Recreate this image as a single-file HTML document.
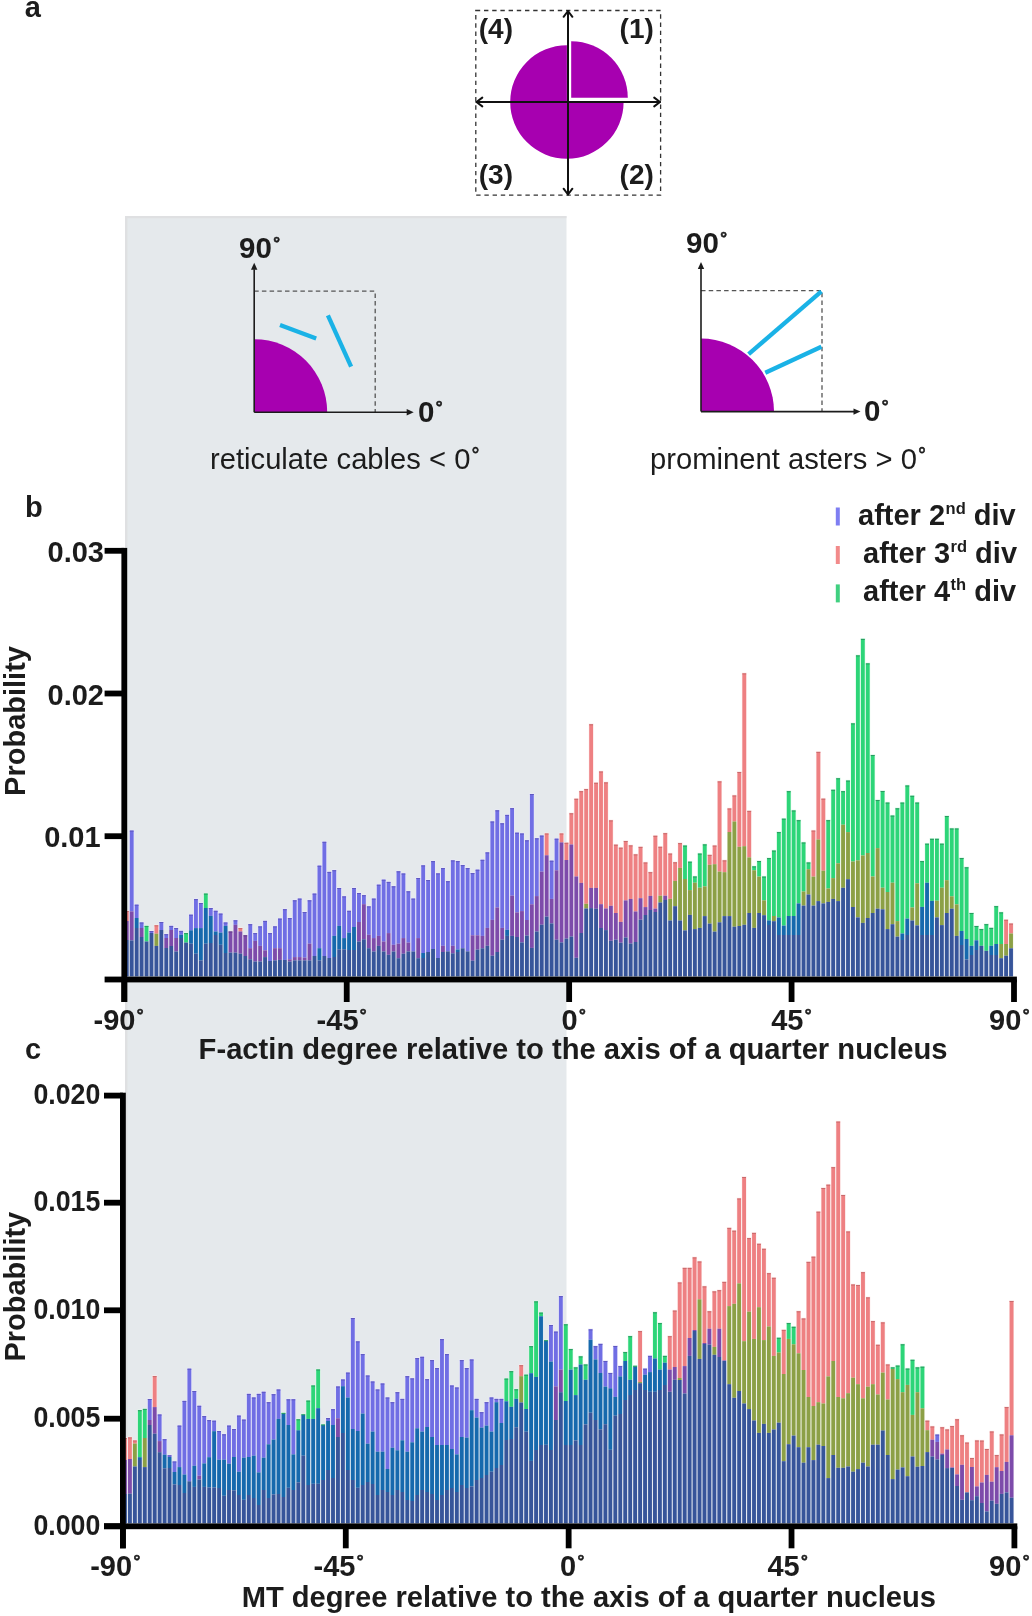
<!DOCTYPE html>
<html><head><meta charset="utf-8"><style>
html,body{margin:0;padding:0;background:#fff;}
svg{display:block;will-change:transform;}
text{font-family:"Liberation Sans", sans-serif;fill:#1c1c1c;}
</style></head><body>
<svg width="1032" height="1616" viewBox="0 0 1032 1616">
<rect x="125" y="216" width="441.5" height="1307.5" fill="#e5e9ec"/><rect x="125" y="216" width="441.5" height="2.2" fill="#dfe0e2"/><rect x="125" y="216" width="2.4" height="1307.5" fill="#dfe0e2"/><text x="24.8" y="17" font-size="29" font-weight="700" text-anchor="start" >a</text><rect x="475.8" y="10.5" width="184.8" height="184.6" fill="none" stroke="#333" stroke-width="1.3" stroke-dasharray="4.4 3.8"/><path d="M566.9,102 L566.9,45.3 A56.7,56.7 0 1,0 623.6,102 Z" fill="#a700b0"/><path d="M571.2,97.8 L571.2,41.199999999999996 A56.6,56.6 0 0,1 627.8000000000001,97.8 Z" fill="#a700b0"/><g stroke="#111" stroke-width="2" fill="none" stroke-linecap="round" stroke-linejoin="round"><line x1="476.5" y1="102" x2="660" y2="102"/><line x1="568" y1="11" x2="568" y2="194.5"/><polyline points="482.3,97.6 476.5,102 482.3,106.4"/><polyline points="654.2,97.6 660,102 654.2,106.4"/><polyline points="563.6,16.8 568,11 572.4,16.8"/><polyline points="563.6,188.7 568,194.5 572.4,188.7"/></g><text x="478.8" y="37.6" font-size="28" font-weight="700" text-anchor="start" >(4)</text><text x="619.6" y="37.6" font-size="28" font-weight="700" text-anchor="start" >(1)</text><text x="478.8" y="184.3" font-size="28" font-weight="700" text-anchor="start" >(3)</text><text x="619.6" y="184.3" font-size="28" font-weight="700" text-anchor="start" >(2)</text><path d="M254.2,412.2 L254.2,339.2 A73,73 0 0,1 327.2,412.2 Z" fill="#a700b0"/><path d="M254.2,291.2 H375.2 V412.2" fill="none" stroke="#555" stroke-width="1.3" stroke-dasharray="4.5 3.2"/><g stroke="#1c1c1c" stroke-width="1.6"><line x1="254.2" y1="412.2" x2="254.2" y2="269.2"/><line x1="254.2" y1="412.2" x2="407.2" y2="412.2"/></g><path d="M254.2,262.7 l-3.2,7 h6.4 Z" fill="#1c1c1c"/><path d="M413.7,412.2 l-7,-3.2 v6.4 Z" fill="#1c1c1c"/><line x1="280" y1="325" x2="316.2" y2="338.5" stroke="#1ab2e6" stroke-width="4.3"/><line x1="327.9" y1="315.3" x2="351.1" y2="366.6" stroke="#1ab2e6" stroke-width="4.3"/><text x="239" y="258" font-size="29.5" font-weight="700" text-anchor="start" >90<tspan font-size="17" dx="1.3" dy="-9" stroke="#1c1c1c" stroke-width="0.6">°</tspan></text><text x="418" y="421.5" font-size="29.5" font-weight="700" text-anchor="start" >0<tspan font-size="17" dx="1.3" dy="-9" stroke="#1c1c1c" stroke-width="0.6">°</tspan></text><path d="M701,411.6 L701,338.6 A73,73 0 0,1 774,411.6 Z" fill="#a700b0"/><path d="M701,290.6 H822 V411.6" fill="none" stroke="#555" stroke-width="1.3" stroke-dasharray="4.5 3.2"/><g stroke="#1c1c1c" stroke-width="1.6"><line x1="701" y1="411.6" x2="701" y2="268.6"/><line x1="701" y1="411.6" x2="854" y2="411.6"/></g><path d="M701,262.1 l-3.2,7 h6.4 Z" fill="#1c1c1c"/><path d="M860.5,411.6 l-7,-3.2 v6.4 Z" fill="#1c1c1c"/><line x1="748.6" y1="354.1" x2="821.4" y2="291.4" stroke="#1ab2e6" stroke-width="4.3"/><line x1="765.3" y1="372.8" x2="821.4" y2="346.8" stroke="#1ab2e6" stroke-width="4.3"/><text x="686" y="252.5" font-size="29.5" font-weight="700" text-anchor="start" >90<tspan font-size="17" dx="1.3" dy="-9" stroke="#1c1c1c" stroke-width="0.6">°</tspan></text><text x="864" y="420.8" font-size="29.5" font-weight="700" text-anchor="start" >0<tspan font-size="17" dx="1.3" dy="-9" stroke="#1c1c1c" stroke-width="0.6">°</tspan></text><text x="210" y="468.7" font-size="29.2" font-weight="400" text-anchor="start" >reticulate cables &lt; 0<tspan font-size="20" dx="1.0" dy="-6.5" stroke="#1c1c1c" stroke-width="0.6">°</tspan></text><text x="650" y="468.7" font-size="29.2" font-weight="400" text-anchor="start" >prominent asters &gt; 0<tspan font-size="20" dx="1.0" dy="-6.5" stroke="#1c1c1c" stroke-width="0.6">°</tspan></text><text x="25.1" y="516.6" font-size="29" font-weight="700" text-anchor="start" >b</text><text x="25" y="1058.6" font-size="29" font-weight="700" text-anchor="start" >c</text><g><rect x="124.30" y="910.20" width="4.94" height="10.80" fill="#fcecec"/><rect x="124.30" y="921.00" width="4.94" height="19.00" fill="#ece4f2"/><rect x="124.30" y="940.00" width="4.94" height="36.40" fill="#e1e6f0"/><rect x="124.85" y="911.00" width="3.84" height="10.00" fill="#ee8082"/><rect x="124.85" y="921.00" width="3.84" height="19.00" fill="#7d4baa"/><rect x="124.85" y="940.00" width="3.84" height="36.40" fill="#37559a"/><rect x="124.85" y="911.00" width="3.84" height="1" fill="#c86a6c"/><rect x="129.24" y="829.80" width="4.94" height="81.60" fill="#eae9fb"/><rect x="129.24" y="911.40" width="4.94" height="29.00" fill="#ece4f2"/><rect x="129.24" y="940.40" width="4.94" height="36.00" fill="#e1e6f0"/><rect x="129.79" y="830.60" width="3.84" height="80.80" fill="#706ee4"/><rect x="129.79" y="911.40" width="3.84" height="29.00" fill="#7d4baa"/><rect x="129.79" y="940.40" width="3.84" height="36.00" fill="#37559a"/><rect x="129.79" y="830.60" width="3.84" height="1" fill="#5f58c0"/><rect x="134.18" y="903.90" width="4.94" height="14.10" fill="#eae9fb"/><rect x="134.18" y="918.00" width="4.94" height="10.00" fill="#dce8f3"/><rect x="134.18" y="928.00" width="4.94" height="48.40" fill="#e1e6f0"/><rect x="134.73" y="904.70" width="3.84" height="13.30" fill="#706ee4"/><rect x="134.73" y="918.00" width="3.84" height="10.00" fill="#1669ad"/><rect x="134.73" y="928.00" width="3.84" height="48.40" fill="#37559a"/><rect x="134.73" y="904.70" width="3.84" height="1" fill="#5f58c0"/><rect x="139.12" y="921.70" width="4.94" height="6.30" fill="#eae9fb"/><rect x="139.12" y="928.00" width="4.94" height="9.00" fill="#ece4f2"/><rect x="139.12" y="937.00" width="4.94" height="39.40" fill="#e1e6f0"/><rect x="139.67" y="922.50" width="3.84" height="5.50" fill="#706ee4"/><rect x="139.67" y="928.00" width="3.84" height="9.00" fill="#7d4baa"/><rect x="139.67" y="937.00" width="3.84" height="39.40" fill="#37559a"/><rect x="139.67" y="922.50" width="3.84" height="1" fill="#5f58c0"/><rect x="144.06" y="925.10" width="4.94" height="16.40" fill="#e0f9eb"/><rect x="144.06" y="941.50" width="4.94" height="34.90" fill="#e1e6f0"/><rect x="144.61" y="925.90" width="3.84" height="15.60" fill="#2dd578"/><rect x="144.61" y="941.50" width="3.84" height="34.90" fill="#37559a"/><rect x="144.61" y="925.90" width="3.84" height="1" fill="#2a9a60"/><rect x="149.00" y="930.20" width="4.94" height="2.80" fill="#eae9fb"/><rect x="149.00" y="933.00" width="4.94" height="43.40" fill="#e1e6f0"/><rect x="149.55" y="931.00" width="3.84" height="2.00" fill="#706ee4"/><rect x="149.55" y="933.00" width="3.84" height="43.40" fill="#37559a"/><rect x="149.55" y="931.00" width="3.84" height="1" fill="#5f58c0"/><rect x="153.94" y="924.50" width="4.94" height="9.20" fill="#fcecec"/><rect x="153.94" y="933.70" width="4.94" height="12.20" fill="#eef1e3"/><rect x="153.94" y="945.90" width="4.94" height="30.50" fill="#e1e6f0"/><rect x="154.49" y="925.30" width="3.84" height="8.40" fill="#ee8082"/><rect x="154.49" y="933.70" width="3.84" height="12.20" fill="#8ca046"/><rect x="154.49" y="945.90" width="3.84" height="30.50" fill="#37559a"/><rect x="154.49" y="925.30" width="3.84" height="1" fill="#c86a6c"/><rect x="158.88" y="921.20" width="4.94" height="8.80" fill="#eae9fb"/><rect x="158.88" y="930.00" width="4.94" height="46.40" fill="#e1e6f0"/><rect x="159.43" y="922.00" width="3.84" height="8.00" fill="#706ee4"/><rect x="159.43" y="930.00" width="3.84" height="46.40" fill="#37559a"/><rect x="159.43" y="922.00" width="3.84" height="1" fill="#5f58c0"/><rect x="163.82" y="933.40" width="4.94" height="4.60" fill="#eae9fb"/><rect x="163.82" y="938.00" width="4.94" height="10.00" fill="#ece4f2"/><rect x="163.82" y="948.00" width="4.94" height="28.40" fill="#e1e6f0"/><rect x="164.37" y="934.20" width="3.84" height="3.80" fill="#706ee4"/><rect x="164.37" y="938.00" width="3.84" height="10.00" fill="#7d4baa"/><rect x="164.37" y="948.00" width="3.84" height="28.40" fill="#37559a"/><rect x="164.37" y="934.20" width="3.84" height="1" fill="#5f58c0"/><rect x="168.76" y="925.10" width="4.94" height="4.90" fill="#eae9fb"/><rect x="168.76" y="930.00" width="4.94" height="16.00" fill="#ece4f2"/><rect x="168.76" y="946.00" width="4.94" height="30.40" fill="#e1e6f0"/><rect x="169.31" y="925.90" width="3.84" height="4.10" fill="#706ee4"/><rect x="169.31" y="930.00" width="3.84" height="16.00" fill="#7d4baa"/><rect x="169.31" y="946.00" width="3.84" height="30.40" fill="#37559a"/><rect x="169.31" y="925.90" width="3.84" height="1" fill="#5f58c0"/><rect x="173.70" y="927.20" width="4.94" height="10.80" fill="#eae9fb"/><rect x="173.70" y="938.00" width="4.94" height="13.50" fill="#ece4f2"/><rect x="173.70" y="951.50" width="4.94" height="24.90" fill="#e1e6f0"/><rect x="174.25" y="928.00" width="3.84" height="10.00" fill="#706ee4"/><rect x="174.25" y="938.00" width="3.84" height="13.50" fill="#7d4baa"/><rect x="174.25" y="951.50" width="3.84" height="24.90" fill="#37559a"/><rect x="174.25" y="928.00" width="3.84" height="1" fill="#5f58c0"/><rect x="178.64" y="930.10" width="4.94" height="4.70" fill="#eae9fb"/><rect x="178.64" y="934.80" width="4.94" height="3.20" fill="#dce8f3"/><rect x="178.64" y="938.00" width="4.94" height="38.40" fill="#e1e6f0"/><rect x="179.19" y="930.90" width="3.84" height="3.90" fill="#706ee4"/><rect x="179.19" y="934.80" width="3.84" height="3.20" fill="#1669ad"/><rect x="179.19" y="938.00" width="3.84" height="38.40" fill="#37559a"/><rect x="179.19" y="930.90" width="3.84" height="1" fill="#5f58c0"/><rect x="183.58" y="932.30" width="4.94" height="10.30" fill="#e0f9eb"/><rect x="183.58" y="942.60" width="4.94" height="33.80" fill="#e1e6f0"/><rect x="184.13" y="933.10" width="3.84" height="9.50" fill="#2dd578"/><rect x="184.13" y="942.60" width="3.84" height="33.80" fill="#37559a"/><rect x="184.13" y="933.10" width="3.84" height="1" fill="#2a9a60"/><rect x="188.52" y="913.90" width="4.94" height="16.40" fill="#eae9fb"/><rect x="188.52" y="930.30" width="4.94" height="13.40" fill="#dce8f3"/><rect x="188.52" y="943.70" width="4.94" height="32.70" fill="#e1e6f0"/><rect x="189.07" y="914.70" width="3.84" height="15.60" fill="#706ee4"/><rect x="189.07" y="930.30" width="3.84" height="13.40" fill="#1669ad"/><rect x="189.07" y="943.70" width="3.84" height="32.70" fill="#37559a"/><rect x="189.07" y="914.70" width="3.84" height="1" fill="#5f58c0"/><rect x="193.46" y="898.30" width="4.94" height="29.80" fill="#eae9fb"/><rect x="193.46" y="928.10" width="4.94" height="25.60" fill="#dce8f3"/><rect x="193.46" y="953.70" width="4.94" height="22.70" fill="#e1e6f0"/><rect x="194.01" y="899.10" width="3.84" height="29.00" fill="#706ee4"/><rect x="194.01" y="928.10" width="3.84" height="25.60" fill="#1669ad"/><rect x="194.01" y="953.70" width="3.84" height="22.70" fill="#37559a"/><rect x="194.01" y="899.10" width="3.84" height="1" fill="#5f58c0"/><rect x="198.40" y="902.20" width="4.94" height="25.90" fill="#eae9fb"/><rect x="198.40" y="928.10" width="4.94" height="32.30" fill="#dce8f3"/><rect x="198.40" y="960.40" width="4.94" height="16.00" fill="#e1e6f0"/><rect x="198.95" y="903.00" width="3.84" height="25.10" fill="#706ee4"/><rect x="198.95" y="928.10" width="3.84" height="32.30" fill="#1669ad"/><rect x="198.95" y="960.40" width="3.84" height="16.00" fill="#37559a"/><rect x="198.95" y="903.00" width="3.84" height="1" fill="#5f58c0"/><rect x="203.34" y="892.80" width="4.94" height="15.20" fill="#e0f9eb"/><rect x="203.34" y="908.00" width="4.94" height="35.70" fill="#dce8f3"/><rect x="203.34" y="943.70" width="4.94" height="32.70" fill="#e1e6f0"/><rect x="203.89" y="893.60" width="3.84" height="14.40" fill="#2dd578"/><rect x="203.89" y="908.00" width="3.84" height="35.70" fill="#1669ad"/><rect x="203.89" y="943.70" width="3.84" height="32.70" fill="#37559a"/><rect x="203.89" y="893.60" width="3.84" height="1" fill="#2a9a60"/><rect x="208.28" y="907.20" width="4.94" height="8.70" fill="#eae9fb"/><rect x="208.28" y="915.90" width="4.94" height="27.10" fill="#dce8f3"/><rect x="208.28" y="943.00" width="4.94" height="33.40" fill="#e1e6f0"/><rect x="208.83" y="908.00" width="3.84" height="7.90" fill="#706ee4"/><rect x="208.83" y="915.90" width="3.84" height="27.10" fill="#1669ad"/><rect x="208.83" y="943.00" width="3.84" height="33.40" fill="#37559a"/><rect x="208.83" y="908.00" width="3.84" height="1" fill="#5f58c0"/><rect x="213.22" y="910.00" width="4.94" height="21.50" fill="#eae9fb"/><rect x="213.22" y="931.50" width="4.94" height="3.50" fill="#dce8f3"/><rect x="213.22" y="935.00" width="4.94" height="41.40" fill="#e1e6f0"/><rect x="213.77" y="910.80" width="3.84" height="20.70" fill="#706ee4"/><rect x="213.77" y="931.50" width="3.84" height="3.50" fill="#1669ad"/><rect x="213.77" y="935.00" width="3.84" height="41.40" fill="#37559a"/><rect x="213.77" y="910.80" width="3.84" height="1" fill="#5f58c0"/><rect x="218.16" y="912.80" width="4.94" height="19.80" fill="#eae9fb"/><rect x="218.16" y="932.60" width="4.94" height="12.20" fill="#dce8f3"/><rect x="218.16" y="944.80" width="4.94" height="31.60" fill="#e1e6f0"/><rect x="218.71" y="913.60" width="3.84" height="19.00" fill="#706ee4"/><rect x="218.71" y="932.60" width="3.84" height="12.20" fill="#1669ad"/><rect x="218.71" y="944.80" width="3.84" height="31.60" fill="#37559a"/><rect x="218.71" y="913.60" width="3.84" height="1" fill="#5f58c0"/><rect x="223.10" y="921.70" width="4.94" height="4.20" fill="#eae9fb"/><rect x="223.10" y="925.90" width="4.94" height="27.10" fill="#dce8f3"/><rect x="223.10" y="953.00" width="4.94" height="23.40" fill="#e1e6f0"/><rect x="223.65" y="922.50" width="3.84" height="3.40" fill="#706ee4"/><rect x="223.65" y="925.90" width="3.84" height="27.10" fill="#1669ad"/><rect x="223.65" y="953.00" width="3.84" height="23.40" fill="#37559a"/><rect x="223.65" y="922.50" width="3.84" height="1" fill="#5f58c0"/><rect x="228.04" y="930.70" width="4.94" height="21.90" fill="#ece4f2"/><rect x="228.04" y="952.60" width="4.94" height="23.80" fill="#e1e6f0"/><rect x="228.59" y="931.50" width="3.84" height="21.10" fill="#7d4baa"/><rect x="228.59" y="952.60" width="3.84" height="23.80" fill="#37559a"/><rect x="228.59" y="931.50" width="3.84" height="1" fill="#603a88"/><rect x="232.98" y="919.50" width="4.94" height="5.30" fill="#eae9fb"/><rect x="232.98" y="924.80" width="4.94" height="27.80" fill="#ece4f2"/><rect x="232.98" y="952.60" width="4.94" height="23.80" fill="#e1e6f0"/><rect x="233.53" y="920.30" width="3.84" height="4.50" fill="#706ee4"/><rect x="233.53" y="924.80" width="3.84" height="27.80" fill="#7d4baa"/><rect x="233.53" y="952.60" width="3.84" height="23.80" fill="#37559a"/><rect x="233.53" y="920.30" width="3.84" height="1" fill="#5f58c0"/><rect x="237.92" y="927.30" width="4.94" height="4.20" fill="#fcecec"/><rect x="237.92" y="931.50" width="4.94" height="22.20" fill="#ece4f2"/><rect x="237.92" y="953.70" width="4.94" height="22.70" fill="#e1e6f0"/><rect x="238.47" y="928.10" width="3.84" height="3.40" fill="#ee8082"/><rect x="238.47" y="931.50" width="3.84" height="22.20" fill="#7d4baa"/><rect x="238.47" y="953.70" width="3.84" height="22.70" fill="#37559a"/><rect x="238.47" y="928.10" width="3.84" height="1" fill="#c86a6c"/><rect x="242.86" y="934.50" width="4.94" height="21.50" fill="#ece4f2"/><rect x="242.86" y="956.00" width="4.94" height="20.40" fill="#e1e6f0"/><rect x="243.41" y="935.30" width="3.84" height="20.70" fill="#7d4baa"/><rect x="243.41" y="956.00" width="3.84" height="20.40" fill="#37559a"/><rect x="243.41" y="935.30" width="3.84" height="1" fill="#603a88"/><rect x="247.80" y="923.40" width="4.94" height="24.80" fill="#eae9fb"/><rect x="247.80" y="948.20" width="4.94" height="11.10" fill="#ece4f2"/><rect x="247.80" y="959.30" width="4.94" height="17.10" fill="#e1e6f0"/><rect x="248.35" y="924.20" width="3.84" height="24.00" fill="#706ee4"/><rect x="248.35" y="948.20" width="3.84" height="11.10" fill="#7d4baa"/><rect x="248.35" y="959.30" width="3.84" height="17.10" fill="#37559a"/><rect x="248.35" y="924.20" width="3.84" height="1" fill="#5f58c0"/><rect x="252.74" y="932.30" width="4.94" height="8.60" fill="#eae9fb"/><rect x="252.74" y="940.90" width="4.94" height="20.60" fill="#ece4f2"/><rect x="252.74" y="961.50" width="4.94" height="14.90" fill="#e1e6f0"/><rect x="253.29" y="933.10" width="3.84" height="7.80" fill="#706ee4"/><rect x="253.29" y="940.90" width="3.84" height="20.60" fill="#7d4baa"/><rect x="253.29" y="961.50" width="3.84" height="14.90" fill="#37559a"/><rect x="253.29" y="933.10" width="3.84" height="1" fill="#5f58c0"/><rect x="257.68" y="925.60" width="4.94" height="20.30" fill="#eae9fb"/><rect x="257.68" y="945.90" width="4.94" height="15.60" fill="#ece4f2"/><rect x="257.68" y="961.50" width="4.94" height="14.90" fill="#e1e6f0"/><rect x="258.23" y="926.40" width="3.84" height="19.50" fill="#706ee4"/><rect x="258.23" y="945.90" width="3.84" height="15.60" fill="#7d4baa"/><rect x="258.23" y="961.50" width="3.84" height="14.90" fill="#37559a"/><rect x="258.23" y="926.40" width="3.84" height="1" fill="#5f58c0"/><rect x="262.62" y="920.10" width="4.94" height="30.30" fill="#eae9fb"/><rect x="262.62" y="950.40" width="4.94" height="6.70" fill="#ece4f2"/><rect x="262.62" y="957.10" width="4.94" height="19.30" fill="#e1e6f0"/><rect x="263.17" y="920.90" width="3.84" height="29.50" fill="#706ee4"/><rect x="263.17" y="950.40" width="3.84" height="6.70" fill="#7d4baa"/><rect x="263.17" y="957.10" width="3.84" height="19.30" fill="#37559a"/><rect x="263.17" y="920.90" width="3.84" height="1" fill="#5f58c0"/><rect x="267.56" y="932.30" width="4.94" height="28.70" fill="#eae9fb"/><rect x="267.56" y="961.00" width="4.94" height="15.40" fill="#e1e6f0"/><rect x="268.11" y="933.10" width="3.84" height="27.90" fill="#706ee4"/><rect x="268.11" y="961.00" width="3.84" height="15.40" fill="#37559a"/><rect x="268.11" y="933.10" width="3.84" height="1" fill="#5f58c0"/><rect x="272.50" y="925.60" width="4.94" height="22.60" fill="#eae9fb"/><rect x="272.50" y="948.20" width="4.94" height="12.20" fill="#ece4f2"/><rect x="272.50" y="960.40" width="4.94" height="16.00" fill="#e1e6f0"/><rect x="273.05" y="926.40" width="3.84" height="21.80" fill="#706ee4"/><rect x="273.05" y="948.20" width="3.84" height="12.20" fill="#7d4baa"/><rect x="273.05" y="960.40" width="3.84" height="16.00" fill="#37559a"/><rect x="273.05" y="926.40" width="3.84" height="1" fill="#5f58c0"/><rect x="277.44" y="917.80" width="4.94" height="30.40" fill="#eae9fb"/><rect x="277.44" y="948.20" width="4.94" height="11.70" fill="#ece4f2"/><rect x="277.44" y="959.90" width="4.94" height="16.50" fill="#e1e6f0"/><rect x="277.99" y="918.60" width="3.84" height="29.60" fill="#706ee4"/><rect x="277.99" y="948.20" width="3.84" height="11.70" fill="#7d4baa"/><rect x="277.99" y="959.90" width="3.84" height="16.50" fill="#37559a"/><rect x="277.99" y="918.60" width="3.84" height="1" fill="#5f58c0"/><rect x="282.38" y="908.40" width="4.94" height="51.50" fill="#eae9fb"/><rect x="282.38" y="959.90" width="4.94" height="16.50" fill="#e1e6f0"/><rect x="282.93" y="909.20" width="3.84" height="50.70" fill="#706ee4"/><rect x="282.93" y="959.90" width="3.84" height="16.50" fill="#37559a"/><rect x="282.93" y="909.20" width="3.84" height="1" fill="#5f58c0"/><rect x="287.32" y="917.30" width="4.94" height="42.00" fill="#eae9fb"/><rect x="287.32" y="959.30" width="4.94" height="2.20" fill="#ece4f2"/><rect x="287.32" y="961.50" width="4.94" height="14.90" fill="#e1e6f0"/><rect x="287.87" y="918.10" width="3.84" height="41.20" fill="#706ee4"/><rect x="287.87" y="959.30" width="3.84" height="2.20" fill="#7d4baa"/><rect x="287.87" y="961.50" width="3.84" height="14.90" fill="#37559a"/><rect x="287.87" y="918.10" width="3.84" height="1" fill="#5f58c0"/><rect x="292.26" y="899.50" width="4.94" height="57.60" fill="#eae9fb"/><rect x="292.26" y="957.10" width="4.94" height="3.30" fill="#ece4f2"/><rect x="292.26" y="960.40" width="4.94" height="16.00" fill="#e1e6f0"/><rect x="292.81" y="900.30" width="3.84" height="56.80" fill="#706ee4"/><rect x="292.81" y="957.10" width="3.84" height="3.30" fill="#7d4baa"/><rect x="292.81" y="960.40" width="3.84" height="16.00" fill="#37559a"/><rect x="292.81" y="900.30" width="3.84" height="1" fill="#5f58c0"/><rect x="297.20" y="897.80" width="4.94" height="59.30" fill="#eae9fb"/><rect x="297.20" y="957.10" width="4.94" height="3.30" fill="#ece4f2"/><rect x="297.20" y="960.40" width="4.94" height="16.00" fill="#e1e6f0"/><rect x="297.75" y="898.60" width="3.84" height="58.50" fill="#706ee4"/><rect x="297.75" y="957.10" width="3.84" height="3.30" fill="#7d4baa"/><rect x="297.75" y="960.40" width="3.84" height="16.00" fill="#37559a"/><rect x="297.75" y="898.60" width="3.84" height="1" fill="#5f58c0"/><rect x="302.14" y="911.20" width="4.94" height="46.40" fill="#eae9fb"/><rect x="302.14" y="957.60" width="4.94" height="2.80" fill="#ece4f2"/><rect x="302.14" y="960.40" width="4.94" height="16.00" fill="#e1e6f0"/><rect x="302.69" y="912.00" width="3.84" height="45.60" fill="#706ee4"/><rect x="302.69" y="957.60" width="3.84" height="2.80" fill="#7d4baa"/><rect x="302.69" y="960.40" width="3.84" height="16.00" fill="#37559a"/><rect x="302.69" y="912.00" width="3.84" height="1" fill="#5f58c0"/><rect x="307.08" y="899.50" width="4.94" height="44.20" fill="#eae9fb"/><rect x="307.08" y="943.70" width="4.94" height="16.70" fill="#ece4f2"/><rect x="307.08" y="960.40" width="4.94" height="16.00" fill="#e1e6f0"/><rect x="307.63" y="900.30" width="3.84" height="43.40" fill="#706ee4"/><rect x="307.63" y="943.70" width="3.84" height="16.70" fill="#7d4baa"/><rect x="307.63" y="960.40" width="3.84" height="16.00" fill="#37559a"/><rect x="307.63" y="900.30" width="3.84" height="1" fill="#5f58c0"/><rect x="312.02" y="892.80" width="4.94" height="63.20" fill="#eae9fb"/><rect x="312.02" y="956.00" width="4.94" height="20.40" fill="#e1e6f0"/><rect x="312.57" y="893.60" width="3.84" height="62.40" fill="#706ee4"/><rect x="312.57" y="956.00" width="3.84" height="20.40" fill="#37559a"/><rect x="312.57" y="893.60" width="3.84" height="1" fill="#5f58c0"/><rect x="316.96" y="864.90" width="4.94" height="83.30" fill="#eae9fb"/><rect x="316.96" y="948.20" width="4.94" height="12.20" fill="#dce8f3"/><rect x="316.96" y="960.40" width="4.94" height="16.00" fill="#e1e6f0"/><rect x="317.51" y="865.70" width="3.84" height="82.50" fill="#706ee4"/><rect x="317.51" y="948.20" width="3.84" height="12.20" fill="#1669ad"/><rect x="317.51" y="960.40" width="3.84" height="16.00" fill="#37559a"/><rect x="317.51" y="865.70" width="3.84" height="1" fill="#5f58c0"/><rect x="321.90" y="841.00" width="4.94" height="115.00" fill="#eae9fb"/><rect x="321.90" y="956.00" width="4.94" height="20.40" fill="#e1e6f0"/><rect x="322.45" y="841.80" width="3.84" height="114.20" fill="#706ee4"/><rect x="322.45" y="956.00" width="3.84" height="20.40" fill="#37559a"/><rect x="322.45" y="841.80" width="3.84" height="1" fill="#5f58c0"/><rect x="326.84" y="871.10" width="4.94" height="86.90" fill="#eae9fb"/><rect x="326.84" y="958.00" width="4.94" height="18.40" fill="#e1e6f0"/><rect x="327.39" y="871.90" width="3.84" height="86.10" fill="#706ee4"/><rect x="327.39" y="958.00" width="3.84" height="18.40" fill="#37559a"/><rect x="327.39" y="871.90" width="3.84" height="1" fill="#5f58c0"/><rect x="331.78" y="869.40" width="4.94" height="66.50" fill="#eae9fb"/><rect x="331.78" y="935.90" width="4.94" height="21.10" fill="#dce8f3"/><rect x="331.78" y="957.00" width="4.94" height="19.40" fill="#e1e6f0"/><rect x="332.33" y="870.20" width="3.84" height="65.70" fill="#706ee4"/><rect x="332.33" y="935.90" width="3.84" height="21.10" fill="#1669ad"/><rect x="332.33" y="957.00" width="3.84" height="19.40" fill="#37559a"/><rect x="332.33" y="870.20" width="3.84" height="1" fill="#5f58c0"/><rect x="336.72" y="887.20" width="4.94" height="38.70" fill="#eae9fb"/><rect x="336.72" y="925.90" width="4.94" height="23.40" fill="#dce8f3"/><rect x="336.72" y="949.30" width="4.94" height="27.10" fill="#e1e6f0"/><rect x="337.27" y="888.00" width="3.84" height="37.90" fill="#706ee4"/><rect x="337.27" y="925.90" width="3.84" height="23.40" fill="#1669ad"/><rect x="337.27" y="949.30" width="3.84" height="27.10" fill="#37559a"/><rect x="337.27" y="888.00" width="3.84" height="1" fill="#5f58c0"/><rect x="341.66" y="895.60" width="4.94" height="42.50" fill="#eae9fb"/><rect x="341.66" y="938.10" width="4.94" height="11.20" fill="#dce8f3"/><rect x="341.66" y="949.30" width="4.94" height="27.10" fill="#e1e6f0"/><rect x="342.21" y="896.40" width="3.84" height="41.70" fill="#706ee4"/><rect x="342.21" y="938.10" width="3.84" height="11.20" fill="#1669ad"/><rect x="342.21" y="949.30" width="3.84" height="27.10" fill="#37559a"/><rect x="342.21" y="896.40" width="3.84" height="1" fill="#5f58c0"/><rect x="346.60" y="910.00" width="4.94" height="22.60" fill="#eae9fb"/><rect x="346.60" y="932.60" width="4.94" height="17.40" fill="#dce8f3"/><rect x="346.60" y="950.00" width="4.94" height="26.40" fill="#e1e6f0"/><rect x="347.15" y="910.80" width="3.84" height="21.80" fill="#706ee4"/><rect x="347.15" y="932.60" width="3.84" height="17.40" fill="#1669ad"/><rect x="347.15" y="950.00" width="3.84" height="26.40" fill="#37559a"/><rect x="347.15" y="910.80" width="3.84" height="1" fill="#5f58c0"/><rect x="351.54" y="887.20" width="4.94" height="39.80" fill="#eae9fb"/><rect x="351.54" y="927.00" width="4.94" height="23.00" fill="#dce8f3"/><rect x="351.54" y="950.00" width="4.94" height="26.40" fill="#e1e6f0"/><rect x="352.09" y="888.00" width="3.84" height="39.00" fill="#706ee4"/><rect x="352.09" y="927.00" width="3.84" height="23.00" fill="#1669ad"/><rect x="352.09" y="950.00" width="3.84" height="26.40" fill="#37559a"/><rect x="352.09" y="888.00" width="3.84" height="1" fill="#5f58c0"/><rect x="356.48" y="892.20" width="4.94" height="29.80" fill="#eae9fb"/><rect x="356.48" y="922.00" width="4.94" height="19.50" fill="#ece4f2"/><rect x="356.48" y="941.50" width="4.94" height="34.90" fill="#e1e6f0"/><rect x="357.03" y="893.00" width="3.84" height="29.00" fill="#706ee4"/><rect x="357.03" y="922.00" width="3.84" height="19.50" fill="#7d4baa"/><rect x="357.03" y="941.50" width="3.84" height="34.90" fill="#37559a"/><rect x="357.03" y="893.00" width="3.84" height="1" fill="#5f58c0"/><rect x="361.42" y="894.40" width="4.94" height="9.80" fill="#eae9fb"/><rect x="361.42" y="904.20" width="4.94" height="35.10" fill="#ece4f2"/><rect x="361.42" y="939.30" width="4.94" height="37.10" fill="#e1e6f0"/><rect x="361.97" y="895.20" width="3.84" height="9.00" fill="#706ee4"/><rect x="361.97" y="904.20" width="3.84" height="35.10" fill="#7d4baa"/><rect x="361.97" y="939.30" width="3.84" height="37.10" fill="#37559a"/><rect x="361.97" y="895.20" width="3.84" height="1" fill="#5f58c0"/><rect x="366.36" y="905.60" width="4.94" height="29.20" fill="#eae9fb"/><rect x="366.36" y="934.80" width="4.94" height="13.40" fill="#ece4f2"/><rect x="366.36" y="948.20" width="4.94" height="28.20" fill="#e1e6f0"/><rect x="366.91" y="906.40" width="3.84" height="28.40" fill="#706ee4"/><rect x="366.91" y="934.80" width="3.84" height="13.40" fill="#7d4baa"/><rect x="366.91" y="948.20" width="3.84" height="28.20" fill="#37559a"/><rect x="366.91" y="906.40" width="3.84" height="1" fill="#5f58c0"/><rect x="371.30" y="897.80" width="4.94" height="40.30" fill="#eae9fb"/><rect x="371.30" y="938.10" width="4.94" height="13.40" fill="#ece4f2"/><rect x="371.30" y="951.50" width="4.94" height="24.90" fill="#e1e6f0"/><rect x="371.85" y="898.60" width="3.84" height="39.50" fill="#706ee4"/><rect x="371.85" y="938.10" width="3.84" height="13.40" fill="#7d4baa"/><rect x="371.85" y="951.50" width="3.84" height="24.90" fill="#37559a"/><rect x="371.85" y="898.60" width="3.84" height="1" fill="#5f58c0"/><rect x="376.24" y="883.90" width="4.94" height="52.00" fill="#eae9fb"/><rect x="376.24" y="935.90" width="4.94" height="10.00" fill="#ece4f2"/><rect x="376.24" y="945.90" width="4.94" height="30.50" fill="#e1e6f0"/><rect x="376.79" y="884.70" width="3.84" height="51.20" fill="#706ee4"/><rect x="376.79" y="935.90" width="3.84" height="10.00" fill="#7d4baa"/><rect x="376.79" y="945.90" width="3.84" height="30.50" fill="#37559a"/><rect x="376.79" y="884.70" width="3.84" height="1" fill="#5f58c0"/><rect x="381.18" y="878.90" width="4.94" height="62.60" fill="#eae9fb"/><rect x="381.18" y="941.50" width="4.94" height="10.00" fill="#ece4f2"/><rect x="381.18" y="951.50" width="4.94" height="24.90" fill="#e1e6f0"/><rect x="381.73" y="879.70" width="3.84" height="61.80" fill="#706ee4"/><rect x="381.73" y="941.50" width="3.84" height="10.00" fill="#7d4baa"/><rect x="381.73" y="951.50" width="3.84" height="24.90" fill="#37559a"/><rect x="381.73" y="879.70" width="3.84" height="1" fill="#5f58c0"/><rect x="386.12" y="881.10" width="4.94" height="52.00" fill="#eae9fb"/><rect x="386.12" y="933.10" width="4.94" height="21.70" fill="#ece4f2"/><rect x="386.12" y="954.80" width="4.94" height="21.60" fill="#e1e6f0"/><rect x="386.67" y="881.90" width="3.84" height="51.20" fill="#706ee4"/><rect x="386.67" y="933.10" width="3.84" height="21.70" fill="#7d4baa"/><rect x="386.67" y="954.80" width="3.84" height="21.60" fill="#37559a"/><rect x="386.67" y="881.90" width="3.84" height="1" fill="#5f58c0"/><rect x="391.06" y="885.50" width="4.94" height="59.30" fill="#eae9fb"/><rect x="391.06" y="944.80" width="4.94" height="6.70" fill="#ece4f2"/><rect x="391.06" y="951.50" width="4.94" height="24.90" fill="#e1e6f0"/><rect x="391.61" y="886.30" width="3.84" height="58.50" fill="#706ee4"/><rect x="391.61" y="944.80" width="3.84" height="6.70" fill="#7d4baa"/><rect x="391.61" y="951.50" width="3.84" height="24.90" fill="#37559a"/><rect x="391.61" y="886.30" width="3.84" height="1" fill="#5f58c0"/><rect x="396.00" y="870.50" width="4.94" height="73.20" fill="#eae9fb"/><rect x="396.00" y="943.70" width="4.94" height="14.50" fill="#ece4f2"/><rect x="396.00" y="958.20" width="4.94" height="18.20" fill="#e1e6f0"/><rect x="396.55" y="871.30" width="3.84" height="72.40" fill="#706ee4"/><rect x="396.55" y="943.70" width="3.84" height="14.50" fill="#7d4baa"/><rect x="396.55" y="958.20" width="3.84" height="18.20" fill="#37559a"/><rect x="396.55" y="871.30" width="3.84" height="1" fill="#5f58c0"/><rect x="400.94" y="872.70" width="4.94" height="65.40" fill="#eae9fb"/><rect x="400.94" y="938.10" width="4.94" height="15.60" fill="#ece4f2"/><rect x="400.94" y="953.70" width="4.94" height="22.70" fill="#e1e6f0"/><rect x="401.49" y="873.50" width="3.84" height="64.60" fill="#706ee4"/><rect x="401.49" y="938.10" width="3.84" height="15.60" fill="#7d4baa"/><rect x="401.49" y="953.70" width="3.84" height="22.70" fill="#37559a"/><rect x="401.49" y="873.50" width="3.84" height="1" fill="#5f58c0"/><rect x="405.88" y="890.50" width="4.94" height="52.10" fill="#eae9fb"/><rect x="405.88" y="942.60" width="4.94" height="8.90" fill="#ece4f2"/><rect x="405.88" y="951.50" width="4.94" height="24.90" fill="#e1e6f0"/><rect x="406.43" y="891.30" width="3.84" height="51.30" fill="#706ee4"/><rect x="406.43" y="942.60" width="3.84" height="8.90" fill="#7d4baa"/><rect x="406.43" y="951.50" width="3.84" height="24.90" fill="#37559a"/><rect x="406.43" y="891.30" width="3.84" height="1" fill="#5f58c0"/><rect x="410.82" y="897.80" width="4.94" height="53.70" fill="#eae9fb"/><rect x="410.82" y="951.50" width="4.94" height="24.90" fill="#e1e6f0"/><rect x="411.37" y="898.60" width="3.84" height="52.90" fill="#706ee4"/><rect x="411.37" y="951.50" width="3.84" height="24.90" fill="#37559a"/><rect x="411.37" y="898.60" width="3.84" height="1" fill="#5f58c0"/><rect x="415.76" y="877.20" width="4.94" height="60.90" fill="#eae9fb"/><rect x="415.76" y="938.10" width="4.94" height="20.10" fill="#ece4f2"/><rect x="415.76" y="958.20" width="4.94" height="18.20" fill="#e1e6f0"/><rect x="416.31" y="878.00" width="3.84" height="60.10" fill="#706ee4"/><rect x="416.31" y="938.10" width="3.84" height="20.10" fill="#7d4baa"/><rect x="416.31" y="958.20" width="3.84" height="18.20" fill="#37559a"/><rect x="416.31" y="878.00" width="3.84" height="1" fill="#5f58c0"/><rect x="420.70" y="864.60" width="4.94" height="88.40" fill="#eae9fb"/><rect x="420.70" y="953.00" width="4.94" height="5.00" fill="#dce8f3"/><rect x="420.70" y="958.00" width="4.94" height="18.40" fill="#e1e6f0"/><rect x="421.25" y="865.40" width="3.84" height="87.60" fill="#706ee4"/><rect x="421.25" y="953.00" width="3.84" height="5.00" fill="#1669ad"/><rect x="421.25" y="958.00" width="3.84" height="18.40" fill="#37559a"/><rect x="421.25" y="865.40" width="3.84" height="1" fill="#5f58c0"/><rect x="425.64" y="879.20" width="4.94" height="72.80" fill="#eae9fb"/><rect x="425.64" y="952.00" width="4.94" height="24.40" fill="#e1e6f0"/><rect x="426.19" y="880.00" width="3.84" height="72.00" fill="#706ee4"/><rect x="426.19" y="952.00" width="3.84" height="24.40" fill="#37559a"/><rect x="426.19" y="880.00" width="3.84" height="1" fill="#5f58c0"/><rect x="430.58" y="860.30" width="4.94" height="88.70" fill="#eae9fb"/><rect x="430.58" y="949.00" width="4.94" height="27.40" fill="#e1e6f0"/><rect x="431.13" y="861.10" width="3.84" height="87.90" fill="#706ee4"/><rect x="431.13" y="949.00" width="3.84" height="27.40" fill="#37559a"/><rect x="431.13" y="861.10" width="3.84" height="1" fill="#5f58c0"/><rect x="435.52" y="872.60" width="4.94" height="85.40" fill="#eae9fb"/><rect x="435.52" y="958.00" width="4.94" height="18.40" fill="#e1e6f0"/><rect x="436.07" y="873.40" width="3.84" height="84.60" fill="#706ee4"/><rect x="436.07" y="958.00" width="3.84" height="18.40" fill="#37559a"/><rect x="436.07" y="873.40" width="3.84" height="1" fill="#5f58c0"/><rect x="440.46" y="867.30" width="4.94" height="78.50" fill="#eae9fb"/><rect x="440.46" y="945.80" width="4.94" height="6.20" fill="#ece4f2"/><rect x="440.46" y="952.00" width="4.94" height="24.40" fill="#e1e6f0"/><rect x="441.01" y="868.10" width="3.84" height="77.70" fill="#706ee4"/><rect x="441.01" y="945.80" width="3.84" height="6.20" fill="#7d4baa"/><rect x="441.01" y="952.00" width="3.84" height="24.40" fill="#37559a"/><rect x="441.01" y="868.10" width="3.84" height="1" fill="#5f58c0"/><rect x="445.40" y="880.40" width="4.94" height="71.00" fill="#eae9fb"/><rect x="445.40" y="951.40" width="4.94" height="25.00" fill="#e1e6f0"/><rect x="445.95" y="881.20" width="3.84" height="70.20" fill="#706ee4"/><rect x="445.95" y="951.40" width="3.84" height="25.00" fill="#37559a"/><rect x="445.95" y="881.20" width="3.84" height="1" fill="#5f58c0"/><rect x="450.34" y="859.60" width="4.94" height="86.20" fill="#eae9fb"/><rect x="450.34" y="945.80" width="4.94" height="7.50" fill="#ece4f2"/><rect x="450.34" y="953.30" width="4.94" height="23.10" fill="#e1e6f0"/><rect x="450.89" y="860.40" width="3.84" height="85.40" fill="#706ee4"/><rect x="450.89" y="945.80" width="3.84" height="7.50" fill="#7d4baa"/><rect x="450.89" y="953.30" width="3.84" height="23.10" fill="#37559a"/><rect x="450.89" y="860.40" width="3.84" height="1" fill="#5f58c0"/><rect x="455.28" y="860.30" width="4.94" height="89.20" fill="#eae9fb"/><rect x="455.28" y="949.50" width="4.94" height="2.50" fill="#dce8f3"/><rect x="455.28" y="952.00" width="4.94" height="24.40" fill="#e1e6f0"/><rect x="455.83" y="861.10" width="3.84" height="88.40" fill="#706ee4"/><rect x="455.83" y="949.50" width="3.84" height="2.50" fill="#1669ad"/><rect x="455.83" y="952.00" width="3.84" height="24.40" fill="#37559a"/><rect x="455.83" y="861.10" width="3.84" height="1" fill="#5f58c0"/><rect x="460.22" y="864.30" width="4.94" height="84.00" fill="#eae9fb"/><rect x="460.22" y="948.30" width="4.94" height="28.10" fill="#e1e6f0"/><rect x="460.77" y="865.10" width="3.84" height="83.20" fill="#706ee4"/><rect x="460.77" y="948.30" width="3.84" height="28.10" fill="#37559a"/><rect x="460.77" y="865.10" width="3.84" height="1" fill="#5f58c0"/><rect x="465.16" y="867.30" width="4.94" height="84.10" fill="#eae9fb"/><rect x="465.16" y="951.40" width="4.94" height="25.00" fill="#e1e6f0"/><rect x="465.71" y="868.10" width="3.84" height="83.30" fill="#706ee4"/><rect x="465.71" y="951.40" width="3.84" height="25.00" fill="#37559a"/><rect x="465.71" y="868.10" width="3.84" height="1" fill="#5f58c0"/><rect x="470.10" y="872.30" width="4.94" height="63.00" fill="#eae9fb"/><rect x="470.10" y="935.30" width="4.94" height="25.40" fill="#ece4f2"/><rect x="470.10" y="960.70" width="4.94" height="15.70" fill="#e1e6f0"/><rect x="470.65" y="873.10" width="3.84" height="62.20" fill="#706ee4"/><rect x="470.65" y="935.30" width="3.84" height="25.40" fill="#7d4baa"/><rect x="470.65" y="960.70" width="3.84" height="15.70" fill="#37559a"/><rect x="470.65" y="873.10" width="3.84" height="1" fill="#5f58c0"/><rect x="475.04" y="868.90" width="4.94" height="66.40" fill="#eae9fb"/><rect x="475.04" y="935.30" width="4.94" height="14.30" fill="#ece4f2"/><rect x="475.04" y="949.60" width="4.94" height="26.80" fill="#e1e6f0"/><rect x="475.59" y="869.70" width="3.84" height="65.60" fill="#706ee4"/><rect x="475.59" y="935.30" width="3.84" height="14.30" fill="#7d4baa"/><rect x="475.59" y="949.60" width="3.84" height="26.80" fill="#37559a"/><rect x="475.59" y="869.70" width="3.84" height="1" fill="#5f58c0"/><rect x="479.98" y="859.00" width="4.94" height="76.90" fill="#eae9fb"/><rect x="479.98" y="935.90" width="4.94" height="12.40" fill="#ece4f2"/><rect x="479.98" y="948.30" width="4.94" height="28.10" fill="#e1e6f0"/><rect x="480.53" y="859.80" width="3.84" height="76.10" fill="#706ee4"/><rect x="480.53" y="935.90" width="3.84" height="12.40" fill="#7d4baa"/><rect x="480.53" y="948.30" width="3.84" height="28.10" fill="#37559a"/><rect x="480.53" y="859.80" width="3.84" height="1" fill="#5f58c0"/><rect x="484.92" y="851.60" width="4.94" height="76.30" fill="#eae9fb"/><rect x="484.92" y="927.90" width="4.94" height="17.90" fill="#ece4f2"/><rect x="484.92" y="945.80" width="4.94" height="30.60" fill="#e1e6f0"/><rect x="485.47" y="852.40" width="3.84" height="75.50" fill="#706ee4"/><rect x="485.47" y="927.90" width="3.84" height="17.90" fill="#7d4baa"/><rect x="485.47" y="945.80" width="3.84" height="30.60" fill="#37559a"/><rect x="485.47" y="852.40" width="3.84" height="1" fill="#5f58c0"/><rect x="489.86" y="820.70" width="4.94" height="99.20" fill="#eae9fb"/><rect x="489.86" y="919.90" width="4.94" height="35.80" fill="#ece4f2"/><rect x="489.86" y="955.70" width="4.94" height="20.70" fill="#e1e6f0"/><rect x="490.41" y="821.50" width="3.84" height="98.40" fill="#706ee4"/><rect x="490.41" y="919.90" width="3.84" height="35.80" fill="#7d4baa"/><rect x="490.41" y="955.70" width="3.84" height="20.70" fill="#37559a"/><rect x="490.41" y="821.50" width="3.84" height="1" fill="#5f58c0"/><rect x="494.80" y="809.50" width="4.94" height="98.00" fill="#eae9fb"/><rect x="494.80" y="907.50" width="4.94" height="44.50" fill="#ece4f2"/><rect x="494.80" y="952.00" width="4.94" height="24.40" fill="#e1e6f0"/><rect x="495.35" y="810.30" width="3.84" height="97.20" fill="#706ee4"/><rect x="495.35" y="907.50" width="3.84" height="44.50" fill="#7d4baa"/><rect x="495.35" y="952.00" width="3.84" height="24.40" fill="#37559a"/><rect x="495.35" y="810.30" width="3.84" height="1" fill="#5f58c0"/><rect x="499.74" y="822.50" width="4.94" height="105.40" fill="#eae9fb"/><rect x="499.74" y="927.90" width="4.94" height="11.70" fill="#ece4f2"/><rect x="499.74" y="939.60" width="4.94" height="36.80" fill="#e1e6f0"/><rect x="500.29" y="823.30" width="3.84" height="104.60" fill="#706ee4"/><rect x="500.29" y="927.90" width="3.84" height="11.70" fill="#7d4baa"/><rect x="500.29" y="939.60" width="3.84" height="36.80" fill="#37559a"/><rect x="500.29" y="823.30" width="3.84" height="1" fill="#5f58c0"/><rect x="504.68" y="814.10" width="4.94" height="115.70" fill="#eae9fb"/><rect x="504.68" y="929.80" width="4.94" height="6.10" fill="#dce8f3"/><rect x="504.68" y="935.90" width="4.94" height="40.50" fill="#e1e6f0"/><rect x="505.23" y="814.90" width="3.84" height="114.90" fill="#706ee4"/><rect x="505.23" y="929.80" width="3.84" height="6.10" fill="#1669ad"/><rect x="505.23" y="935.90" width="3.84" height="40.50" fill="#37559a"/><rect x="505.23" y="814.90" width="3.84" height="1" fill="#5f58c0"/><rect x="509.62" y="807.40" width="4.94" height="88.30" fill="#eae9fb"/><rect x="509.62" y="895.70" width="4.94" height="40.20" fill="#ece4f2"/><rect x="509.62" y="935.90" width="4.94" height="40.50" fill="#e1e6f0"/><rect x="510.17" y="808.20" width="3.84" height="87.50" fill="#706ee4"/><rect x="510.17" y="895.70" width="3.84" height="40.20" fill="#7d4baa"/><rect x="510.17" y="935.90" width="3.84" height="40.50" fill="#37559a"/><rect x="510.17" y="808.20" width="3.84" height="1" fill="#5f58c0"/><rect x="514.56" y="831.90" width="4.94" height="80.50" fill="#eae9fb"/><rect x="514.56" y="912.40" width="4.94" height="24.60" fill="#ece4f2"/><rect x="514.56" y="937.00" width="4.94" height="39.40" fill="#e1e6f0"/><rect x="515.11" y="832.70" width="3.84" height="79.70" fill="#706ee4"/><rect x="515.11" y="912.40" width="3.84" height="24.60" fill="#7d4baa"/><rect x="515.11" y="937.00" width="3.84" height="39.40" fill="#37559a"/><rect x="515.11" y="832.70" width="3.84" height="1" fill="#5f58c0"/><rect x="519.50" y="832.70" width="4.94" height="78.40" fill="#eae9fb"/><rect x="519.50" y="911.10" width="4.94" height="31.30" fill="#ece4f2"/><rect x="519.50" y="942.40" width="4.94" height="34.00" fill="#e1e6f0"/><rect x="520.05" y="833.50" width="3.84" height="77.60" fill="#706ee4"/><rect x="520.05" y="911.10" width="3.84" height="31.30" fill="#7d4baa"/><rect x="520.05" y="942.40" width="3.84" height="34.00" fill="#37559a"/><rect x="520.05" y="833.50" width="3.84" height="1" fill="#5f58c0"/><rect x="524.44" y="839.50" width="4.94" height="80.50" fill="#eae9fb"/><rect x="524.44" y="920.00" width="4.94" height="15.60" fill="#ece4f2"/><rect x="524.44" y="935.60" width="4.94" height="40.80" fill="#e1e6f0"/><rect x="524.99" y="840.30" width="3.84" height="79.70" fill="#706ee4"/><rect x="524.99" y="920.00" width="3.84" height="15.60" fill="#7d4baa"/><rect x="524.99" y="935.60" width="3.84" height="40.80" fill="#37559a"/><rect x="524.99" y="840.30" width="3.84" height="1" fill="#5f58c0"/><rect x="529.38" y="793.20" width="4.94" height="111.10" fill="#eae9fb"/><rect x="529.38" y="904.30" width="4.94" height="43.60" fill="#ece4f2"/><rect x="529.38" y="947.90" width="4.94" height="28.50" fill="#e1e6f0"/><rect x="529.93" y="794.00" width="3.84" height="110.30" fill="#706ee4"/><rect x="529.93" y="904.30" width="3.84" height="43.60" fill="#7d4baa"/><rect x="529.93" y="947.90" width="3.84" height="28.50" fill="#37559a"/><rect x="529.93" y="794.00" width="3.84" height="1" fill="#5f58c0"/><rect x="534.32" y="837.50" width="4.94" height="58.60" fill="#eae9fb"/><rect x="534.32" y="896.10" width="4.94" height="35.40" fill="#ece4f2"/><rect x="534.32" y="931.50" width="4.94" height="44.90" fill="#e1e6f0"/><rect x="534.87" y="838.30" width="3.84" height="57.80" fill="#706ee4"/><rect x="534.87" y="896.10" width="3.84" height="35.40" fill="#7d4baa"/><rect x="534.87" y="931.50" width="3.84" height="44.90" fill="#37559a"/><rect x="534.87" y="838.30" width="3.84" height="1" fill="#5f58c0"/><rect x="539.26" y="834.80" width="4.94" height="36.80" fill="#eae9fb"/><rect x="539.26" y="871.60" width="4.94" height="53.10" fill="#ece4f2"/><rect x="539.26" y="924.70" width="4.94" height="51.70" fill="#e1e6f0"/><rect x="539.81" y="835.60" width="3.84" height="36.00" fill="#706ee4"/><rect x="539.81" y="871.60" width="3.84" height="53.10" fill="#7d4baa"/><rect x="539.81" y="924.70" width="3.84" height="51.70" fill="#37559a"/><rect x="539.81" y="835.60" width="3.84" height="1" fill="#5f58c0"/><rect x="544.20" y="832.70" width="4.94" height="22.60" fill="#fcecec"/><rect x="544.20" y="855.30" width="4.94" height="61.30" fill="#ece4f2"/><rect x="544.20" y="916.60" width="4.94" height="59.80" fill="#e1e6f0"/><rect x="544.75" y="833.50" width="3.84" height="21.80" fill="#ee8082"/><rect x="544.75" y="855.30" width="3.84" height="61.30" fill="#7d4baa"/><rect x="544.75" y="916.60" width="3.84" height="59.80" fill="#37559a"/><rect x="544.75" y="833.50" width="3.84" height="1" fill="#c86a6c"/><rect x="549.14" y="859.90" width="4.94" height="39.00" fill="#eae9fb"/><rect x="549.14" y="898.90" width="4.94" height="24.50" fill="#ece4f2"/><rect x="549.14" y="923.40" width="4.94" height="53.00" fill="#e1e6f0"/><rect x="549.69" y="860.70" width="3.84" height="38.20" fill="#706ee4"/><rect x="549.69" y="898.90" width="3.84" height="24.50" fill="#7d4baa"/><rect x="549.69" y="923.40" width="3.84" height="53.00" fill="#37559a"/><rect x="549.69" y="860.70" width="3.84" height="1" fill="#5f58c0"/><rect x="554.08" y="837.90" width="4.94" height="32.40" fill="#eae9fb"/><rect x="554.08" y="870.30" width="4.94" height="69.40" fill="#ece4f2"/><rect x="554.08" y="939.70" width="4.94" height="36.70" fill="#e1e6f0"/><rect x="554.63" y="838.70" width="3.84" height="31.60" fill="#706ee4"/><rect x="554.63" y="870.30" width="3.84" height="69.40" fill="#7d4baa"/><rect x="554.63" y="939.70" width="3.84" height="36.70" fill="#37559a"/><rect x="554.63" y="838.70" width="3.84" height="1" fill="#5f58c0"/><rect x="559.02" y="832.70" width="4.94" height="9.70" fill="#fcecec"/><rect x="559.02" y="842.40" width="4.94" height="100.00" fill="#ece4f2"/><rect x="559.02" y="942.40" width="4.94" height="34.00" fill="#e1e6f0"/><rect x="559.57" y="833.50" width="3.84" height="8.90" fill="#ee8082"/><rect x="559.57" y="842.40" width="3.84" height="100.00" fill="#7d4baa"/><rect x="559.57" y="942.40" width="3.84" height="34.00" fill="#37559a"/><rect x="559.57" y="833.50" width="3.84" height="1" fill="#c86a6c"/><rect x="563.96" y="842.00" width="4.94" height="18.00" fill="#fcecec"/><rect x="563.96" y="860.00" width="4.94" height="78.60" fill="#ece4f2"/><rect x="563.96" y="938.60" width="4.94" height="37.80" fill="#e1e6f0"/><rect x="564.51" y="842.80" width="3.84" height="17.20" fill="#ee8082"/><rect x="564.51" y="860.00" width="3.84" height="78.60" fill="#7d4baa"/><rect x="564.51" y="938.60" width="3.84" height="37.80" fill="#37559a"/><rect x="564.51" y="842.80" width="3.84" height="1" fill="#c86a6c"/><rect x="568.90" y="812.50" width="4.94" height="32.00" fill="#fcecec"/><rect x="568.90" y="844.50" width="4.94" height="92.00" fill="#ece4f2"/><rect x="568.90" y="936.50" width="4.94" height="39.90" fill="#e1e6f0"/><rect x="569.45" y="813.30" width="3.84" height="31.20" fill="#ee8082"/><rect x="569.45" y="844.50" width="3.84" height="92.00" fill="#7d4baa"/><rect x="569.45" y="936.50" width="3.84" height="39.90" fill="#37559a"/><rect x="569.45" y="813.30" width="3.84" height="1" fill="#c86a6c"/><rect x="573.84" y="798.00" width="4.94" height="78.50" fill="#fcecec"/><rect x="573.84" y="876.50" width="4.94" height="81.30" fill="#ece4f2"/><rect x="573.84" y="957.80" width="4.94" height="18.60" fill="#e1e6f0"/><rect x="574.39" y="798.80" width="3.84" height="77.70" fill="#ee8082"/><rect x="574.39" y="876.50" width="3.84" height="81.30" fill="#7d4baa"/><rect x="574.39" y="957.80" width="3.84" height="18.60" fill="#37559a"/><rect x="574.39" y="798.80" width="3.84" height="1" fill="#c86a6c"/><rect x="578.78" y="790.40" width="4.94" height="92.50" fill="#fcecec"/><rect x="578.78" y="882.90" width="4.94" height="50.10" fill="#ece4f2"/><rect x="578.78" y="933.00" width="4.94" height="43.40" fill="#e1e6f0"/><rect x="579.33" y="791.20" width="3.84" height="91.70" fill="#ee8082"/><rect x="579.33" y="882.90" width="3.84" height="50.10" fill="#7d4baa"/><rect x="579.33" y="933.00" width="3.84" height="43.40" fill="#37559a"/><rect x="579.33" y="791.20" width="3.84" height="1" fill="#c86a6c"/><rect x="583.72" y="788.30" width="4.94" height="115.50" fill="#fcecec"/><rect x="583.72" y="903.80" width="4.94" height="4.70" fill="#eef1e3"/><rect x="583.72" y="908.50" width="4.94" height="67.90" fill="#e1e6f0"/><rect x="584.27" y="789.10" width="3.84" height="114.70" fill="#ee8082"/><rect x="584.27" y="903.80" width="3.84" height="4.70" fill="#8ca046"/><rect x="584.27" y="908.50" width="3.84" height="67.90" fill="#37559a"/><rect x="584.27" y="789.10" width="3.84" height="1" fill="#c86a6c"/><rect x="588.66" y="723.50" width="4.94" height="164.40" fill="#fcecec"/><rect x="588.66" y="887.90" width="4.94" height="20.20" fill="#ece4f2"/><rect x="588.66" y="908.10" width="4.94" height="68.30" fill="#e1e6f0"/><rect x="589.21" y="724.30" width="3.84" height="163.60" fill="#ee8082"/><rect x="589.21" y="887.90" width="3.84" height="20.20" fill="#7d4baa"/><rect x="589.21" y="908.10" width="3.84" height="68.30" fill="#37559a"/><rect x="589.21" y="724.30" width="3.84" height="1" fill="#c86a6c"/><rect x="593.60" y="782.00" width="4.94" height="105.90" fill="#fcecec"/><rect x="593.60" y="887.90" width="4.94" height="20.90" fill="#ece4f2"/><rect x="593.60" y="908.80" width="4.94" height="67.60" fill="#e1e6f0"/><rect x="594.15" y="782.80" width="3.84" height="105.10" fill="#ee8082"/><rect x="594.15" y="887.90" width="3.84" height="20.90" fill="#7d4baa"/><rect x="594.15" y="908.80" width="3.84" height="67.60" fill="#37559a"/><rect x="594.15" y="782.80" width="3.84" height="1" fill="#c86a6c"/><rect x="598.54" y="770.70" width="4.94" height="133.50" fill="#fcecec"/><rect x="598.54" y="904.20" width="4.94" height="23.80" fill="#ece4f2"/><rect x="598.54" y="928.00" width="4.94" height="48.40" fill="#e1e6f0"/><rect x="599.09" y="771.50" width="3.84" height="132.70" fill="#ee8082"/><rect x="599.09" y="904.20" width="3.84" height="23.80" fill="#7d4baa"/><rect x="599.09" y="928.00" width="3.84" height="48.40" fill="#37559a"/><rect x="599.09" y="771.50" width="3.84" height="1" fill="#c86a6c"/><rect x="603.48" y="781.60" width="4.94" height="126.90" fill="#fcecec"/><rect x="603.48" y="908.50" width="4.94" height="21.60" fill="#ece4f2"/><rect x="603.48" y="930.10" width="4.94" height="46.30" fill="#e1e6f0"/><rect x="604.03" y="782.40" width="3.84" height="126.10" fill="#ee8082"/><rect x="604.03" y="908.50" width="3.84" height="21.60" fill="#7d4baa"/><rect x="604.03" y="930.10" width="3.84" height="46.30" fill="#37559a"/><rect x="604.03" y="782.40" width="3.84" height="1" fill="#c86a6c"/><rect x="608.42" y="819.60" width="4.94" height="86.20" fill="#fcecec"/><rect x="608.42" y="905.80" width="4.94" height="35.00" fill="#ece4f2"/><rect x="608.42" y="940.80" width="4.94" height="35.60" fill="#e1e6f0"/><rect x="608.97" y="820.40" width="3.84" height="85.40" fill="#ee8082"/><rect x="608.97" y="905.80" width="3.84" height="35.00" fill="#7d4baa"/><rect x="608.97" y="940.80" width="3.84" height="35.60" fill="#37559a"/><rect x="608.97" y="820.40" width="3.84" height="1" fill="#c86a6c"/><rect x="613.36" y="843.90" width="4.94" height="69.10" fill="#fcecec"/><rect x="613.36" y="913.00" width="4.94" height="26.70" fill="#ece4f2"/><rect x="613.36" y="939.70" width="4.94" height="36.70" fill="#e1e6f0"/><rect x="613.91" y="844.70" width="3.84" height="68.30" fill="#ee8082"/><rect x="613.91" y="913.00" width="3.84" height="26.70" fill="#7d4baa"/><rect x="613.91" y="939.70" width="3.84" height="36.70" fill="#37559a"/><rect x="613.91" y="844.70" width="3.84" height="1" fill="#c86a6c"/><rect x="618.30" y="846.90" width="4.94" height="75.00" fill="#fcecec"/><rect x="618.30" y="921.90" width="4.94" height="20.80" fill="#ece4f2"/><rect x="618.30" y="942.70" width="4.94" height="33.70" fill="#e1e6f0"/><rect x="618.85" y="847.70" width="3.84" height="74.20" fill="#ee8082"/><rect x="618.85" y="921.90" width="3.84" height="20.80" fill="#7d4baa"/><rect x="618.85" y="942.70" width="3.84" height="33.70" fill="#37559a"/><rect x="618.85" y="847.70" width="3.84" height="1" fill="#c86a6c"/><rect x="623.24" y="840.20" width="4.94" height="60.20" fill="#fcecec"/><rect x="623.24" y="900.40" width="4.94" height="37.10" fill="#ece4f2"/><rect x="623.24" y="937.50" width="4.94" height="38.90" fill="#e1e6f0"/><rect x="623.79" y="841.00" width="3.84" height="59.40" fill="#ee8082"/><rect x="623.79" y="900.40" width="3.84" height="37.10" fill="#7d4baa"/><rect x="623.79" y="937.50" width="3.84" height="38.90" fill="#37559a"/><rect x="623.79" y="841.00" width="3.84" height="1" fill="#c86a6c"/><rect x="628.18" y="844.60" width="4.94" height="54.30" fill="#fcecec"/><rect x="628.18" y="898.90" width="4.94" height="44.60" fill="#ece4f2"/><rect x="628.18" y="943.50" width="4.94" height="32.90" fill="#e1e6f0"/><rect x="628.73" y="845.40" width="3.84" height="53.50" fill="#ee8082"/><rect x="628.73" y="898.90" width="3.84" height="44.60" fill="#7d4baa"/><rect x="628.73" y="943.50" width="3.84" height="32.90" fill="#37559a"/><rect x="628.73" y="845.40" width="3.84" height="1" fill="#c86a6c"/><rect x="633.12" y="853.60" width="4.94" height="57.90" fill="#fcecec"/><rect x="633.12" y="911.50" width="4.94" height="30.50" fill="#ece4f2"/><rect x="633.12" y="942.00" width="4.94" height="34.40" fill="#e1e6f0"/><rect x="633.67" y="854.40" width="3.84" height="57.10" fill="#ee8082"/><rect x="633.67" y="911.50" width="3.84" height="30.50" fill="#7d4baa"/><rect x="633.67" y="942.00" width="3.84" height="34.40" fill="#37559a"/><rect x="633.67" y="854.40" width="3.84" height="1" fill="#c86a6c"/><rect x="638.06" y="846.10" width="4.94" height="52.10" fill="#fcecec"/><rect x="638.06" y="898.20" width="4.94" height="21.50" fill="#ece4f2"/><rect x="638.06" y="919.70" width="4.94" height="56.70" fill="#e1e6f0"/><rect x="638.61" y="846.90" width="3.84" height="51.30" fill="#ee8082"/><rect x="638.61" y="898.20" width="3.84" height="21.50" fill="#7d4baa"/><rect x="638.61" y="919.70" width="3.84" height="56.70" fill="#37559a"/><rect x="638.61" y="846.90" width="3.84" height="1" fill="#c86a6c"/><rect x="643.00" y="861.70" width="4.94" height="45.40" fill="#fcecec"/><rect x="643.00" y="907.10" width="4.94" height="7.90" fill="#ece4f2"/><rect x="643.00" y="915.00" width="4.94" height="61.40" fill="#e1e6f0"/><rect x="643.55" y="862.50" width="3.84" height="44.60" fill="#ee8082"/><rect x="643.55" y="907.10" width="3.84" height="7.90" fill="#7d4baa"/><rect x="643.55" y="915.00" width="3.84" height="61.40" fill="#37559a"/><rect x="643.55" y="862.50" width="3.84" height="1" fill="#c86a6c"/><rect x="647.94" y="871.40" width="4.94" height="24.50" fill="#fcecec"/><rect x="647.94" y="895.90" width="4.94" height="14.10" fill="#ece4f2"/><rect x="647.94" y="910.00" width="4.94" height="66.40" fill="#e1e6f0"/><rect x="648.49" y="872.20" width="3.84" height="23.70" fill="#ee8082"/><rect x="648.49" y="895.90" width="3.84" height="14.10" fill="#7d4baa"/><rect x="648.49" y="910.00" width="3.84" height="66.40" fill="#37559a"/><rect x="648.49" y="872.20" width="3.84" height="1" fill="#c86a6c"/><rect x="652.88" y="835.00" width="4.94" height="73.60" fill="#fcecec"/><rect x="652.88" y="908.60" width="4.94" height="3.40" fill="#ece4f2"/><rect x="652.88" y="912.00" width="4.94" height="64.40" fill="#e1e6f0"/><rect x="653.43" y="835.80" width="3.84" height="72.80" fill="#ee8082"/><rect x="653.43" y="908.60" width="3.84" height="3.40" fill="#7d4baa"/><rect x="653.43" y="912.00" width="3.84" height="64.40" fill="#37559a"/><rect x="653.43" y="835.80" width="3.84" height="1" fill="#c86a6c"/><rect x="657.82" y="846.00" width="4.94" height="49.70" fill="#fcecec"/><rect x="657.82" y="895.70" width="4.94" height="6.80" fill="#eef1e3"/><rect x="657.82" y="902.50" width="4.94" height="73.90" fill="#e1e6f0"/><rect x="658.37" y="846.80" width="3.84" height="48.90" fill="#ee8082"/><rect x="658.37" y="895.70" width="3.84" height="6.80" fill="#8ca046"/><rect x="658.37" y="902.50" width="3.84" height="73.90" fill="#37559a"/><rect x="658.37" y="846.80" width="3.84" height="1" fill="#c86a6c"/><rect x="662.76" y="832.40" width="4.94" height="63.30" fill="#fcecec"/><rect x="662.76" y="895.70" width="4.94" height="4.30" fill="#ece4f2"/><rect x="662.76" y="900.00" width="4.94" height="76.40" fill="#e1e6f0"/><rect x="663.31" y="833.20" width="3.84" height="62.50" fill="#ee8082"/><rect x="663.31" y="895.70" width="3.84" height="4.30" fill="#7d4baa"/><rect x="663.31" y="900.00" width="3.84" height="76.40" fill="#37559a"/><rect x="663.31" y="833.20" width="3.84" height="1" fill="#c86a6c"/><rect x="667.70" y="852.80" width="4.94" height="46.00" fill="#fcecec"/><rect x="667.70" y="898.80" width="4.94" height="21.70" fill="#eef1e3"/><rect x="667.70" y="920.50" width="4.94" height="55.90" fill="#e1e6f0"/><rect x="668.25" y="853.60" width="3.84" height="45.20" fill="#ee8082"/><rect x="668.25" y="898.80" width="3.84" height="21.70" fill="#8ca046"/><rect x="668.25" y="920.50" width="3.84" height="55.90" fill="#37559a"/><rect x="668.25" y="853.60" width="3.84" height="1" fill="#c86a6c"/><rect x="672.64" y="861.50" width="4.94" height="19.40" fill="#fcecec"/><rect x="672.64" y="880.90" width="4.94" height="25.30" fill="#eef1e3"/><rect x="672.64" y="906.20" width="4.94" height="70.20" fill="#e1e6f0"/><rect x="673.19" y="862.30" width="3.84" height="18.60" fill="#ee8082"/><rect x="673.19" y="880.90" width="3.84" height="25.30" fill="#8ca046"/><rect x="673.19" y="906.20" width="3.84" height="70.20" fill="#37559a"/><rect x="673.19" y="862.30" width="3.84" height="1" fill="#c86a6c"/><rect x="677.58" y="842.30" width="4.94" height="25.60" fill="#fcecec"/><rect x="677.58" y="867.90" width="4.94" height="52.60" fill="#eef1e3"/><rect x="677.58" y="920.50" width="4.94" height="55.90" fill="#e1e6f0"/><rect x="678.13" y="843.10" width="3.84" height="24.80" fill="#ee8082"/><rect x="678.13" y="867.90" width="3.84" height="52.60" fill="#8ca046"/><rect x="678.13" y="920.50" width="3.84" height="55.90" fill="#37559a"/><rect x="678.13" y="843.10" width="3.84" height="1" fill="#c86a6c"/><rect x="682.52" y="844.80" width="4.94" height="34.20" fill="#e0f9eb"/><rect x="682.52" y="879.00" width="4.94" height="51.40" fill="#eef1e3"/><rect x="682.52" y="930.40" width="4.94" height="46.00" fill="#e1e6f0"/><rect x="683.07" y="845.60" width="3.84" height="33.40" fill="#2dd578"/><rect x="683.07" y="879.00" width="3.84" height="51.40" fill="#8ca046"/><rect x="683.07" y="930.40" width="3.84" height="46.00" fill="#37559a"/><rect x="683.07" y="845.60" width="3.84" height="1" fill="#2a9a60"/><rect x="687.46" y="860.90" width="4.94" height="29.20" fill="#e0f9eb"/><rect x="687.46" y="890.10" width="4.94" height="24.80" fill="#eef1e3"/><rect x="687.46" y="914.90" width="4.94" height="61.50" fill="#e1e6f0"/><rect x="688.01" y="861.70" width="3.84" height="28.40" fill="#2dd578"/><rect x="688.01" y="890.10" width="3.84" height="24.80" fill="#8ca046"/><rect x="688.01" y="914.90" width="3.84" height="61.50" fill="#37559a"/><rect x="688.01" y="861.70" width="3.84" height="1" fill="#2a9a60"/><rect x="692.40" y="875.70" width="4.94" height="7.00" fill="#e0f9eb"/><rect x="692.40" y="882.70" width="4.94" height="46.40" fill="#eef1e3"/><rect x="692.40" y="929.10" width="4.94" height="47.30" fill="#e1e6f0"/><rect x="692.95" y="876.50" width="3.84" height="6.20" fill="#2dd578"/><rect x="692.95" y="882.70" width="3.84" height="46.40" fill="#8ca046"/><rect x="692.95" y="929.10" width="3.84" height="47.30" fill="#37559a"/><rect x="692.95" y="876.50" width="3.84" height="1" fill="#2a9a60"/><rect x="697.34" y="852.80" width="4.94" height="34.90" fill="#e0f9eb"/><rect x="697.34" y="887.70" width="4.94" height="40.20" fill="#eef1e3"/><rect x="697.34" y="927.90" width="4.94" height="48.50" fill="#e1e6f0"/><rect x="697.89" y="853.60" width="3.84" height="34.10" fill="#2dd578"/><rect x="697.89" y="887.70" width="3.84" height="40.20" fill="#8ca046"/><rect x="697.89" y="927.90" width="3.84" height="48.50" fill="#37559a"/><rect x="697.89" y="853.60" width="3.84" height="1" fill="#2a9a60"/><rect x="702.28" y="843.60" width="4.94" height="42.80" fill="#e0f9eb"/><rect x="702.28" y="886.40" width="4.94" height="29.70" fill="#eef1e3"/><rect x="702.28" y="916.10" width="4.94" height="60.30" fill="#e1e6f0"/><rect x="702.83" y="844.40" width="3.84" height="42.00" fill="#2dd578"/><rect x="702.83" y="886.40" width="3.84" height="29.70" fill="#8ca046"/><rect x="702.83" y="916.10" width="3.84" height="60.30" fill="#37559a"/><rect x="702.83" y="844.40" width="3.84" height="1" fill="#2a9a60"/><rect x="707.22" y="854.10" width="4.94" height="10.70" fill="#fcecec"/><rect x="707.22" y="864.80" width="4.94" height="58.80" fill="#eef1e3"/><rect x="707.22" y="923.60" width="4.94" height="52.80" fill="#e1e6f0"/><rect x="707.77" y="854.90" width="3.84" height="9.90" fill="#ee8082"/><rect x="707.77" y="864.80" width="3.84" height="58.80" fill="#8ca046"/><rect x="707.77" y="923.60" width="3.84" height="52.80" fill="#37559a"/><rect x="707.77" y="854.90" width="3.84" height="1" fill="#c86a6c"/><rect x="712.16" y="844.80" width="4.94" height="19.40" fill="#fcecec"/><rect x="712.16" y="864.20" width="4.94" height="67.40" fill="#eef1e3"/><rect x="712.16" y="931.60" width="4.94" height="44.80" fill="#e1e6f0"/><rect x="712.71" y="845.60" width="3.84" height="18.60" fill="#ee8082"/><rect x="712.71" y="864.20" width="3.84" height="67.40" fill="#8ca046"/><rect x="712.71" y="931.60" width="3.84" height="44.80" fill="#37559a"/><rect x="712.71" y="845.60" width="3.84" height="1" fill="#c86a6c"/><rect x="717.10" y="780.60" width="4.94" height="91.00" fill="#fcecec"/><rect x="717.10" y="871.60" width="4.94" height="50.70" fill="#eef1e3"/><rect x="717.10" y="922.30" width="4.94" height="54.10" fill="#e1e6f0"/><rect x="717.65" y="781.40" width="3.84" height="90.20" fill="#ee8082"/><rect x="717.65" y="871.60" width="3.84" height="50.70" fill="#8ca046"/><rect x="717.65" y="922.30" width="3.84" height="54.10" fill="#37559a"/><rect x="717.65" y="781.40" width="3.84" height="1" fill="#c86a6c"/><rect x="722.04" y="859.60" width="4.94" height="12.60" fill="#fcecec"/><rect x="722.04" y="872.20" width="4.94" height="43.90" fill="#eef1e3"/><rect x="722.04" y="916.10" width="4.94" height="60.30" fill="#e1e6f0"/><rect x="722.59" y="860.40" width="3.84" height="11.80" fill="#ee8082"/><rect x="722.59" y="872.20" width="3.84" height="43.90" fill="#8ca046"/><rect x="722.59" y="916.10" width="3.84" height="60.30" fill="#37559a"/><rect x="722.59" y="860.40" width="3.84" height="1" fill="#c86a6c"/><rect x="726.98" y="807.70" width="4.94" height="24.30" fill="#fcecec"/><rect x="726.98" y="832.00" width="4.94" height="84.10" fill="#eef1e3"/><rect x="726.98" y="916.10" width="4.94" height="60.30" fill="#e1e6f0"/><rect x="727.53" y="808.50" width="3.84" height="23.50" fill="#ee8082"/><rect x="727.53" y="832.00" width="3.84" height="84.10" fill="#8ca046"/><rect x="727.53" y="916.10" width="3.84" height="60.30" fill="#37559a"/><rect x="727.53" y="808.50" width="3.84" height="1" fill="#c86a6c"/><rect x="731.92" y="794.70" width="4.94" height="26.80" fill="#fcecec"/><rect x="731.92" y="821.50" width="4.94" height="105.20" fill="#eef1e3"/><rect x="731.92" y="926.70" width="4.94" height="49.70" fill="#e1e6f0"/><rect x="732.47" y="795.50" width="3.84" height="26.00" fill="#ee8082"/><rect x="732.47" y="821.50" width="3.84" height="105.20" fill="#8ca046"/><rect x="732.47" y="926.70" width="3.84" height="49.70" fill="#37559a"/><rect x="732.47" y="795.50" width="3.84" height="1" fill="#c86a6c"/><rect x="736.86" y="771.20" width="4.94" height="75.60" fill="#fcecec"/><rect x="736.86" y="846.80" width="4.94" height="79.20" fill="#eef1e3"/><rect x="736.86" y="926.00" width="4.94" height="50.40" fill="#e1e6f0"/><rect x="737.41" y="772.00" width="3.84" height="74.80" fill="#ee8082"/><rect x="737.41" y="846.80" width="3.84" height="79.20" fill="#8ca046"/><rect x="737.41" y="926.00" width="3.84" height="50.40" fill="#37559a"/><rect x="737.41" y="772.00" width="3.84" height="1" fill="#c86a6c"/><rect x="741.80" y="672.60" width="4.94" height="173.60" fill="#fcecec"/><rect x="741.80" y="846.20" width="4.94" height="78.60" fill="#eef1e3"/><rect x="741.80" y="924.80" width="4.94" height="51.60" fill="#e1e6f0"/><rect x="742.35" y="673.40" width="3.84" height="172.80" fill="#ee8082"/><rect x="742.35" y="846.20" width="3.84" height="78.60" fill="#8ca046"/><rect x="742.35" y="924.80" width="3.84" height="51.60" fill="#37559a"/><rect x="742.35" y="673.40" width="3.84" height="1" fill="#c86a6c"/><rect x="746.74" y="810.10" width="4.94" height="47.30" fill="#fcecec"/><rect x="746.74" y="857.40" width="4.94" height="55.60" fill="#eef1e3"/><rect x="746.74" y="913.00" width="4.94" height="63.40" fill="#e1e6f0"/><rect x="747.29" y="810.90" width="3.84" height="46.50" fill="#ee8082"/><rect x="747.29" y="857.40" width="3.84" height="55.60" fill="#8ca046"/><rect x="747.29" y="913.00" width="3.84" height="63.40" fill="#37559a"/><rect x="747.29" y="810.90" width="3.84" height="1" fill="#c86a6c"/><rect x="751.68" y="865.60" width="4.94" height="4.70" fill="#e0f9eb"/><rect x="751.68" y="870.30" width="4.94" height="57.60" fill="#eef1e3"/><rect x="751.68" y="927.90" width="4.94" height="48.50" fill="#e1e6f0"/><rect x="752.23" y="866.40" width="3.84" height="3.90" fill="#2dd578"/><rect x="752.23" y="870.30" width="3.84" height="57.60" fill="#8ca046"/><rect x="752.23" y="927.90" width="3.84" height="48.50" fill="#37559a"/><rect x="752.23" y="866.40" width="3.84" height="1" fill="#2a9a60"/><rect x="756.62" y="860.20" width="4.94" height="16.40" fill="#e0f9eb"/><rect x="756.62" y="876.60" width="4.94" height="36.40" fill="#eef1e3"/><rect x="756.62" y="913.00" width="4.94" height="63.40" fill="#e1e6f0"/><rect x="757.17" y="861.00" width="3.84" height="15.60" fill="#2dd578"/><rect x="757.17" y="876.60" width="3.84" height="36.40" fill="#8ca046"/><rect x="757.17" y="913.00" width="3.84" height="63.40" fill="#37559a"/><rect x="757.17" y="861.00" width="3.84" height="1" fill="#2a9a60"/><rect x="761.56" y="875.80" width="4.94" height="24.60" fill="#e0f9eb"/><rect x="761.56" y="900.40" width="4.94" height="14.80" fill="#eef1e3"/><rect x="761.56" y="915.20" width="4.94" height="61.20" fill="#e1e6f0"/><rect x="762.11" y="876.60" width="3.84" height="23.80" fill="#2dd578"/><rect x="762.11" y="900.40" width="3.84" height="14.80" fill="#8ca046"/><rect x="762.11" y="915.20" width="3.84" height="61.20" fill="#37559a"/><rect x="762.11" y="876.60" width="3.84" height="1" fill="#2a9a60"/><rect x="766.50" y="857.30" width="4.94" height="63.10" fill="#e0f9eb"/><rect x="766.50" y="920.40" width="4.94" height="4.60" fill="#dce8f3"/><rect x="766.50" y="925.00" width="4.94" height="51.40" fill="#e1e6f0"/><rect x="767.05" y="858.10" width="3.84" height="62.30" fill="#2dd578"/><rect x="767.05" y="920.40" width="3.84" height="4.60" fill="#1669ad"/><rect x="767.05" y="925.00" width="3.84" height="51.40" fill="#37559a"/><rect x="767.05" y="858.10" width="3.84" height="1" fill="#2a9a60"/><rect x="771.44" y="849.80" width="4.94" height="66.20" fill="#e0f9eb"/><rect x="771.44" y="916.00" width="4.94" height="5.20" fill="#eef1e3"/><rect x="771.44" y="921.20" width="4.94" height="55.20" fill="#e1e6f0"/><rect x="771.99" y="850.60" width="3.84" height="65.40" fill="#2dd578"/><rect x="771.99" y="916.00" width="3.84" height="5.20" fill="#8ca046"/><rect x="771.99" y="921.20" width="3.84" height="55.20" fill="#37559a"/><rect x="771.99" y="850.60" width="3.84" height="1" fill="#2a9a60"/><rect x="776.38" y="831.30" width="4.94" height="86.20" fill="#e0f9eb"/><rect x="776.38" y="917.50" width="4.94" height="17.50" fill="#dce8f3"/><rect x="776.38" y="935.00" width="4.94" height="41.40" fill="#e1e6f0"/><rect x="776.93" y="832.10" width="3.84" height="85.40" fill="#2dd578"/><rect x="776.93" y="917.50" width="3.84" height="17.50" fill="#1669ad"/><rect x="776.93" y="935.00" width="3.84" height="41.40" fill="#37559a"/><rect x="776.93" y="832.10" width="3.84" height="1" fill="#2a9a60"/><rect x="781.32" y="817.90" width="4.94" height="107.70" fill="#e0f9eb"/><rect x="781.32" y="925.60" width="4.94" height="9.40" fill="#dce8f3"/><rect x="781.32" y="935.00" width="4.94" height="41.40" fill="#e1e6f0"/><rect x="781.87" y="818.70" width="3.84" height="106.90" fill="#2dd578"/><rect x="781.87" y="925.60" width="3.84" height="9.40" fill="#1669ad"/><rect x="781.87" y="935.00" width="3.84" height="41.40" fill="#37559a"/><rect x="781.87" y="818.70" width="3.84" height="1" fill="#2a9a60"/><rect x="786.26" y="790.40" width="4.94" height="125.60" fill="#e0f9eb"/><rect x="786.26" y="916.00" width="4.94" height="19.00" fill="#dce8f3"/><rect x="786.26" y="935.00" width="4.94" height="41.40" fill="#e1e6f0"/><rect x="786.81" y="791.20" width="3.84" height="124.80" fill="#2dd578"/><rect x="786.81" y="916.00" width="3.84" height="19.00" fill="#1669ad"/><rect x="786.81" y="935.00" width="3.84" height="41.40" fill="#37559a"/><rect x="786.81" y="791.20" width="3.84" height="1" fill="#2a9a60"/><rect x="791.20" y="809.70" width="4.94" height="106.30" fill="#e0f9eb"/><rect x="791.20" y="916.00" width="4.94" height="19.00" fill="#dce8f3"/><rect x="791.20" y="935.00" width="4.94" height="41.40" fill="#e1e6f0"/><rect x="791.75" y="810.50" width="3.84" height="105.50" fill="#2dd578"/><rect x="791.75" y="916.00" width="3.84" height="19.00" fill="#1669ad"/><rect x="791.75" y="935.00" width="3.84" height="41.40" fill="#37559a"/><rect x="791.75" y="810.50" width="3.84" height="1" fill="#2a9a60"/><rect x="796.14" y="819.40" width="4.94" height="84.00" fill="#e0f9eb"/><rect x="796.14" y="903.40" width="4.94" height="31.60" fill="#dce8f3"/><rect x="796.14" y="935.00" width="4.94" height="41.40" fill="#e1e6f0"/><rect x="796.69" y="820.20" width="3.84" height="83.20" fill="#2dd578"/><rect x="796.69" y="903.40" width="3.84" height="31.60" fill="#1669ad"/><rect x="796.69" y="935.00" width="3.84" height="41.40" fill="#37559a"/><rect x="796.69" y="820.20" width="3.84" height="1" fill="#2a9a60"/><rect x="801.08" y="841.70" width="4.94" height="49.80" fill="#e0f9eb"/><rect x="801.08" y="891.50" width="4.94" height="14.10" fill="#eef1e3"/><rect x="801.08" y="905.60" width="4.94" height="70.80" fill="#e1e6f0"/><rect x="801.63" y="842.50" width="3.84" height="49.00" fill="#2dd578"/><rect x="801.63" y="891.50" width="3.84" height="14.10" fill="#8ca046"/><rect x="801.63" y="905.60" width="3.84" height="70.80" fill="#37559a"/><rect x="801.63" y="842.50" width="3.84" height="1" fill="#2a9a60"/><rect x="806.02" y="861.70" width="4.94" height="7.50" fill="#e0f9eb"/><rect x="806.02" y="869.20" width="4.94" height="25.30" fill="#eef1e3"/><rect x="806.02" y="894.50" width="4.94" height="81.90" fill="#e1e6f0"/><rect x="806.57" y="862.50" width="3.84" height="6.70" fill="#2dd578"/><rect x="806.57" y="869.20" width="3.84" height="25.30" fill="#8ca046"/><rect x="806.57" y="894.50" width="3.84" height="81.90" fill="#37559a"/><rect x="806.57" y="862.50" width="3.84" height="1" fill="#2a9a60"/><rect x="810.96" y="829.80" width="4.94" height="46.80" fill="#fcecec"/><rect x="810.96" y="876.60" width="4.94" height="29.00" fill="#eef1e3"/><rect x="810.96" y="905.60" width="4.94" height="70.80" fill="#e1e6f0"/><rect x="811.51" y="830.60" width="3.84" height="46.00" fill="#ee8082"/><rect x="811.51" y="876.60" width="3.84" height="29.00" fill="#8ca046"/><rect x="811.51" y="905.60" width="3.84" height="70.80" fill="#37559a"/><rect x="811.51" y="830.60" width="3.84" height="1" fill="#c86a6c"/><rect x="815.90" y="751.10" width="4.94" height="88.40" fill="#fcecec"/><rect x="815.90" y="839.50" width="4.94" height="61.60" fill="#eef1e3"/><rect x="815.90" y="901.10" width="4.94" height="75.30" fill="#e1e6f0"/><rect x="816.45" y="751.90" width="3.84" height="87.60" fill="#ee8082"/><rect x="816.45" y="839.50" width="3.84" height="61.60" fill="#8ca046"/><rect x="816.45" y="901.10" width="3.84" height="75.30" fill="#37559a"/><rect x="816.45" y="751.90" width="3.84" height="1" fill="#c86a6c"/><rect x="820.84" y="797.90" width="4.94" height="72.80" fill="#fcecec"/><rect x="820.84" y="870.70" width="4.94" height="32.70" fill="#eef1e3"/><rect x="820.84" y="903.40" width="4.94" height="73.00" fill="#e1e6f0"/><rect x="821.39" y="798.70" width="3.84" height="72.00" fill="#ee8082"/><rect x="821.39" y="870.70" width="3.84" height="32.70" fill="#8ca046"/><rect x="821.39" y="903.40" width="3.84" height="73.00" fill="#37559a"/><rect x="821.39" y="798.70" width="3.84" height="1" fill="#c86a6c"/><rect x="825.78" y="819.40" width="4.94" height="69.10" fill="#e0f9eb"/><rect x="825.78" y="888.50" width="4.94" height="13.40" fill="#eef1e3"/><rect x="825.78" y="901.90" width="4.94" height="74.50" fill="#e1e6f0"/><rect x="826.33" y="820.20" width="3.84" height="68.30" fill="#2dd578"/><rect x="826.33" y="888.50" width="3.84" height="13.40" fill="#8ca046"/><rect x="826.33" y="901.90" width="3.84" height="74.50" fill="#37559a"/><rect x="826.33" y="820.20" width="3.84" height="1" fill="#2a9a60"/><rect x="830.72" y="789.00" width="4.94" height="89.10" fill="#e0f9eb"/><rect x="830.72" y="878.10" width="4.94" height="20.80" fill="#eef1e3"/><rect x="830.72" y="898.90" width="4.94" height="77.50" fill="#e1e6f0"/><rect x="831.27" y="789.80" width="3.84" height="88.30" fill="#2dd578"/><rect x="831.27" y="878.10" width="3.84" height="20.80" fill="#8ca046"/><rect x="831.27" y="898.90" width="3.84" height="77.50" fill="#37559a"/><rect x="831.27" y="789.80" width="3.84" height="1" fill="#2a9a60"/><rect x="835.66" y="777.50" width="4.94" height="85.80" fill="#e0f9eb"/><rect x="835.66" y="863.30" width="4.94" height="37.80" fill="#eef1e3"/><rect x="835.66" y="901.10" width="4.94" height="75.30" fill="#e1e6f0"/><rect x="836.21" y="778.30" width="3.84" height="85.00" fill="#2dd578"/><rect x="836.21" y="863.30" width="3.84" height="37.80" fill="#8ca046"/><rect x="836.21" y="901.10" width="3.84" height="75.30" fill="#37559a"/><rect x="836.21" y="778.30" width="3.84" height="1" fill="#2a9a60"/><rect x="840.60" y="790.40" width="4.94" height="34.30" fill="#e0f9eb"/><rect x="840.60" y="824.70" width="4.94" height="63.10" fill="#eef1e3"/><rect x="840.60" y="887.80" width="4.94" height="88.60" fill="#e1e6f0"/><rect x="841.15" y="791.20" width="3.84" height="33.50" fill="#2dd578"/><rect x="841.15" y="824.70" width="3.84" height="63.10" fill="#8ca046"/><rect x="841.15" y="887.80" width="3.84" height="88.60" fill="#37559a"/><rect x="841.15" y="791.20" width="3.84" height="1" fill="#2a9a60"/><rect x="845.54" y="779.80" width="4.94" height="52.30" fill="#e0f9eb"/><rect x="845.54" y="832.10" width="4.94" height="47.10" fill="#eef1e3"/><rect x="845.54" y="879.20" width="4.94" height="97.20" fill="#e1e6f0"/><rect x="846.09" y="780.60" width="3.84" height="51.50" fill="#2dd578"/><rect x="846.09" y="832.10" width="3.84" height="47.10" fill="#8ca046"/><rect x="846.09" y="879.20" width="3.84" height="97.20" fill="#37559a"/><rect x="846.09" y="780.60" width="3.84" height="1" fill="#2a9a60"/><rect x="850.48" y="722.60" width="4.94" height="138.90" fill="#e0f9eb"/><rect x="850.48" y="861.50" width="4.94" height="45.50" fill="#eef1e3"/><rect x="850.48" y="907.00" width="4.94" height="69.40" fill="#e1e6f0"/><rect x="851.03" y="723.40" width="3.84" height="138.10" fill="#2dd578"/><rect x="851.03" y="861.50" width="3.84" height="45.50" fill="#8ca046"/><rect x="851.03" y="907.00" width="3.84" height="69.40" fill="#37559a"/><rect x="851.03" y="723.40" width="3.84" height="1" fill="#2a9a60"/><rect x="855.42" y="654.60" width="4.94" height="205.80" fill="#e0f9eb"/><rect x="855.42" y="860.40" width="4.94" height="57.00" fill="#eef1e3"/><rect x="855.42" y="917.40" width="4.94" height="59.00" fill="#e1e6f0"/><rect x="855.97" y="655.40" width="3.84" height="205.00" fill="#2dd578"/><rect x="855.97" y="860.40" width="3.84" height="57.00" fill="#8ca046"/><rect x="855.97" y="917.40" width="3.84" height="59.00" fill="#37559a"/><rect x="855.97" y="655.40" width="3.84" height="1" fill="#2a9a60"/><rect x="860.36" y="638.10" width="4.94" height="217.40" fill="#e0f9eb"/><rect x="860.36" y="855.50" width="4.94" height="67.40" fill="#eef1e3"/><rect x="860.36" y="922.90" width="4.94" height="53.50" fill="#e1e6f0"/><rect x="860.91" y="638.90" width="3.84" height="216.60" fill="#2dd578"/><rect x="860.91" y="855.50" width="3.84" height="67.40" fill="#8ca046"/><rect x="860.91" y="922.90" width="3.84" height="53.50" fill="#37559a"/><rect x="860.91" y="638.90" width="3.84" height="1" fill="#2a9a60"/><rect x="865.30" y="662.60" width="4.94" height="190.40" fill="#e0f9eb"/><rect x="865.30" y="853.00" width="4.94" height="65.00" fill="#eef1e3"/><rect x="865.30" y="918.00" width="4.94" height="58.40" fill="#e1e6f0"/><rect x="865.85" y="663.40" width="3.84" height="189.60" fill="#2dd578"/><rect x="865.85" y="853.00" width="3.84" height="65.00" fill="#8ca046"/><rect x="865.85" y="918.00" width="3.84" height="58.40" fill="#37559a"/><rect x="865.85" y="663.40" width="3.84" height="1" fill="#2a9a60"/><rect x="870.24" y="754.20" width="4.94" height="122.30" fill="#e0f9eb"/><rect x="870.24" y="876.50" width="4.94" height="36.50" fill="#eef1e3"/><rect x="870.24" y="913.00" width="4.94" height="63.40" fill="#e1e6f0"/><rect x="870.79" y="755.00" width="3.84" height="121.50" fill="#2dd578"/><rect x="870.79" y="876.50" width="3.84" height="36.50" fill="#8ca046"/><rect x="870.79" y="913.00" width="3.84" height="63.40" fill="#37559a"/><rect x="870.79" y="755.00" width="3.84" height="1" fill="#2a9a60"/><rect x="875.18" y="799.20" width="4.94" height="48.90" fill="#e0f9eb"/><rect x="875.18" y="848.10" width="4.94" height="60.60" fill="#eef1e3"/><rect x="875.18" y="908.70" width="4.94" height="67.70" fill="#e1e6f0"/><rect x="875.73" y="800.00" width="3.84" height="48.10" fill="#2dd578"/><rect x="875.73" y="848.10" width="3.84" height="60.60" fill="#8ca046"/><rect x="875.73" y="908.70" width="3.84" height="67.70" fill="#37559a"/><rect x="875.73" y="800.00" width="3.84" height="1" fill="#2a9a60"/><rect x="880.12" y="790.20" width="4.94" height="97.50" fill="#e0f9eb"/><rect x="880.12" y="887.70" width="4.94" height="21.60" fill="#eef1e3"/><rect x="880.12" y="909.30" width="4.94" height="67.10" fill="#e1e6f0"/><rect x="880.67" y="791.00" width="3.84" height="96.70" fill="#2dd578"/><rect x="880.67" y="887.70" width="3.84" height="21.60" fill="#8ca046"/><rect x="880.67" y="909.30" width="3.84" height="67.10" fill="#37559a"/><rect x="880.67" y="791.00" width="3.84" height="1" fill="#2a9a60"/><rect x="885.06" y="801.80" width="4.94" height="90.20" fill="#e0f9eb"/><rect x="885.06" y="892.00" width="4.94" height="37.10" fill="#eef1e3"/><rect x="885.06" y="929.10" width="4.94" height="47.30" fill="#e1e6f0"/><rect x="885.61" y="802.60" width="3.84" height="89.40" fill="#2dd578"/><rect x="885.61" y="892.00" width="3.84" height="37.10" fill="#8ca046"/><rect x="885.61" y="929.10" width="3.84" height="47.30" fill="#37559a"/><rect x="885.61" y="802.60" width="3.84" height="1" fill="#2a9a60"/><rect x="890.00" y="814.80" width="4.94" height="67.90" fill="#e0f9eb"/><rect x="890.00" y="882.70" width="4.94" height="41.50" fill="#eef1e3"/><rect x="890.00" y="924.20" width="4.94" height="52.20" fill="#e1e6f0"/><rect x="890.55" y="815.60" width="3.84" height="67.10" fill="#2dd578"/><rect x="890.55" y="882.70" width="3.84" height="41.50" fill="#8ca046"/><rect x="890.55" y="924.20" width="3.84" height="52.20" fill="#37559a"/><rect x="890.55" y="815.60" width="3.84" height="1" fill="#2a9a60"/><rect x="894.94" y="807.50" width="4.94" height="113.60" fill="#e0f9eb"/><rect x="894.94" y="921.10" width="4.94" height="15.50" fill="#eef1e3"/><rect x="894.94" y="936.60" width="4.94" height="39.80" fill="#e1e6f0"/><rect x="895.49" y="808.30" width="3.84" height="112.80" fill="#2dd578"/><rect x="895.49" y="921.10" width="3.84" height="15.50" fill="#8ca046"/><rect x="895.49" y="936.60" width="3.84" height="39.80" fill="#37559a"/><rect x="895.49" y="808.30" width="3.84" height="1" fill="#2a9a60"/><rect x="899.88" y="801.80" width="4.94" height="131.70" fill="#e0f9eb"/><rect x="899.88" y="933.50" width="4.94" height="6.50" fill="#dce8f3"/><rect x="899.88" y="940.00" width="4.94" height="36.40" fill="#e1e6f0"/><rect x="900.43" y="802.60" width="3.84" height="130.90" fill="#2dd578"/><rect x="900.43" y="933.50" width="3.84" height="6.50" fill="#1669ad"/><rect x="900.43" y="940.00" width="3.84" height="36.40" fill="#37559a"/><rect x="900.43" y="802.60" width="3.84" height="1" fill="#2a9a60"/><rect x="904.82" y="784.70" width="4.94" height="133.90" fill="#e0f9eb"/><rect x="904.82" y="918.60" width="4.94" height="16.40" fill="#dce8f3"/><rect x="904.82" y="935.00" width="4.94" height="41.40" fill="#e1e6f0"/><rect x="905.37" y="785.50" width="3.84" height="133.10" fill="#2dd578"/><rect x="905.37" y="918.60" width="3.84" height="16.40" fill="#1669ad"/><rect x="905.37" y="935.00" width="3.84" height="41.40" fill="#37559a"/><rect x="905.37" y="785.50" width="3.84" height="1" fill="#2a9a60"/><rect x="909.76" y="795.00" width="4.94" height="112.50" fill="#e0f9eb"/><rect x="909.76" y="907.50" width="4.94" height="13.00" fill="#eef1e3"/><rect x="909.76" y="920.50" width="4.94" height="55.90" fill="#e1e6f0"/><rect x="910.31" y="795.80" width="3.84" height="111.70" fill="#2dd578"/><rect x="910.31" y="907.50" width="3.84" height="13.00" fill="#8ca046"/><rect x="910.31" y="920.50" width="3.84" height="55.90" fill="#37559a"/><rect x="910.31" y="795.80" width="3.84" height="1" fill="#2a9a60"/><rect x="914.70" y="801.80" width="4.94" height="81.50" fill="#e0f9eb"/><rect x="914.70" y="883.30" width="4.94" height="42.10" fill="#eef1e3"/><rect x="914.70" y="925.40" width="4.94" height="51.00" fill="#e1e6f0"/><rect x="915.25" y="802.60" width="3.84" height="80.70" fill="#2dd578"/><rect x="915.25" y="883.30" width="3.84" height="42.10" fill="#8ca046"/><rect x="915.25" y="925.40" width="3.84" height="51.00" fill="#37559a"/><rect x="915.25" y="802.60" width="3.84" height="1" fill="#2a9a60"/><rect x="919.64" y="860.30" width="4.94" height="46.60" fill="#e0f9eb"/><rect x="919.64" y="906.90" width="4.94" height="28.10" fill="#dce8f3"/><rect x="919.64" y="935.00" width="4.94" height="41.40" fill="#e1e6f0"/><rect x="920.19" y="861.10" width="3.84" height="45.80" fill="#2dd578"/><rect x="920.19" y="906.90" width="3.84" height="28.10" fill="#1669ad"/><rect x="920.19" y="935.00" width="3.84" height="41.40" fill="#37559a"/><rect x="920.19" y="861.10" width="3.84" height="1" fill="#2a9a60"/><rect x="924.58" y="842.90" width="4.94" height="39.80" fill="#e0f9eb"/><rect x="924.58" y="882.70" width="4.94" height="52.30" fill="#dce8f3"/><rect x="924.58" y="935.00" width="4.94" height="41.40" fill="#e1e6f0"/><rect x="925.13" y="843.70" width="3.84" height="39.00" fill="#2dd578"/><rect x="925.13" y="882.70" width="3.84" height="52.30" fill="#1669ad"/><rect x="925.13" y="935.00" width="3.84" height="41.40" fill="#37559a"/><rect x="925.13" y="843.70" width="3.84" height="1" fill="#2a9a60"/><rect x="929.52" y="838.00" width="4.94" height="62.90" fill="#e0f9eb"/><rect x="929.52" y="900.90" width="4.94" height="34.10" fill="#dce8f3"/><rect x="929.52" y="935.00" width="4.94" height="41.40" fill="#e1e6f0"/><rect x="930.07" y="838.80" width="3.84" height="62.10" fill="#2dd578"/><rect x="930.07" y="900.90" width="3.84" height="34.10" fill="#1669ad"/><rect x="930.07" y="935.00" width="3.84" height="41.40" fill="#37559a"/><rect x="930.07" y="838.80" width="3.84" height="1" fill="#2a9a60"/><rect x="934.46" y="838.00" width="4.94" height="62.70" fill="#e0f9eb"/><rect x="934.46" y="900.70" width="4.94" height="16.70" fill="#eef1e3"/><rect x="934.46" y="917.40" width="4.94" height="59.00" fill="#e1e6f0"/><rect x="935.01" y="838.80" width="3.84" height="61.90" fill="#2dd578"/><rect x="935.01" y="900.70" width="3.84" height="16.70" fill="#8ca046"/><rect x="935.01" y="917.40" width="3.84" height="59.00" fill="#37559a"/><rect x="935.01" y="838.80" width="3.84" height="1" fill="#2a9a60"/><rect x="939.40" y="842.90" width="4.94" height="44.80" fill="#e0f9eb"/><rect x="939.40" y="887.70" width="4.94" height="37.40" fill="#eef1e3"/><rect x="939.40" y="925.10" width="4.94" height="51.30" fill="#e1e6f0"/><rect x="939.95" y="843.70" width="3.84" height="44.00" fill="#2dd578"/><rect x="939.95" y="887.70" width="3.84" height="37.40" fill="#8ca046"/><rect x="939.95" y="925.10" width="3.84" height="51.30" fill="#37559a"/><rect x="939.95" y="843.70" width="3.84" height="1" fill="#2a9a60"/><rect x="944.34" y="815.20" width="4.94" height="65.00" fill="#e0f9eb"/><rect x="944.34" y="880.20" width="4.94" height="32.80" fill="#eef1e3"/><rect x="944.34" y="913.00" width="4.94" height="63.40" fill="#e1e6f0"/><rect x="944.89" y="816.00" width="3.84" height="64.20" fill="#2dd578"/><rect x="944.89" y="880.20" width="3.84" height="32.80" fill="#8ca046"/><rect x="944.89" y="913.00" width="3.84" height="63.40" fill="#37559a"/><rect x="944.89" y="816.00" width="3.84" height="1" fill="#2a9a60"/><rect x="949.28" y="827.70" width="4.94" height="68.60" fill="#e0f9eb"/><rect x="949.28" y="896.30" width="4.94" height="12.40" fill="#eef1e3"/><rect x="949.28" y="908.70" width="4.94" height="67.70" fill="#e1e6f0"/><rect x="949.83" y="828.50" width="3.84" height="67.80" fill="#2dd578"/><rect x="949.83" y="896.30" width="3.84" height="12.40" fill="#8ca046"/><rect x="949.83" y="908.70" width="3.84" height="67.70" fill="#37559a"/><rect x="949.83" y="828.50" width="3.84" height="1" fill="#2a9a60"/><rect x="954.22" y="827.70" width="4.94" height="76.70" fill="#e0f9eb"/><rect x="954.22" y="904.40" width="4.94" height="31.50" fill="#eef1e3"/><rect x="954.22" y="935.90" width="4.94" height="40.50" fill="#e1e6f0"/><rect x="954.77" y="828.50" width="3.84" height="75.90" fill="#2dd578"/><rect x="954.77" y="904.40" width="3.84" height="31.50" fill="#8ca046"/><rect x="954.77" y="935.90" width="3.84" height="40.50" fill="#37559a"/><rect x="954.77" y="828.50" width="3.84" height="1" fill="#2a9a60"/><rect x="959.16" y="857.20" width="4.94" height="73.80" fill="#e0f9eb"/><rect x="959.16" y="931.00" width="4.94" height="14.00" fill="#dce8f3"/><rect x="959.16" y="945.00" width="4.94" height="31.40" fill="#e1e6f0"/><rect x="959.71" y="858.00" width="3.84" height="73.00" fill="#2dd578"/><rect x="959.71" y="931.00" width="3.84" height="14.00" fill="#1669ad"/><rect x="959.71" y="945.00" width="3.84" height="31.40" fill="#37559a"/><rect x="959.71" y="858.00" width="3.84" height="1" fill="#2a9a60"/><rect x="964.10" y="866.50" width="4.94" height="72.50" fill="#e0f9eb"/><rect x="964.10" y="939.00" width="4.94" height="20.50" fill="#dce8f3"/><rect x="964.10" y="959.50" width="4.94" height="16.90" fill="#e1e6f0"/><rect x="964.65" y="867.30" width="3.84" height="71.70" fill="#2dd578"/><rect x="964.65" y="939.00" width="3.84" height="20.50" fill="#1669ad"/><rect x="964.65" y="959.50" width="3.84" height="16.90" fill="#37559a"/><rect x="964.65" y="867.30" width="3.84" height="1" fill="#2a9a60"/><rect x="969.04" y="912.20" width="4.94" height="33.60" fill="#e0f9eb"/><rect x="969.04" y="945.80" width="4.94" height="9.20" fill="#dce8f3"/><rect x="969.04" y="955.00" width="4.94" height="21.40" fill="#e1e6f0"/><rect x="969.59" y="913.00" width="3.84" height="32.80" fill="#2dd578"/><rect x="969.59" y="945.80" width="3.84" height="9.20" fill="#1669ad"/><rect x="969.59" y="955.00" width="3.84" height="21.40" fill="#37559a"/><rect x="969.59" y="913.00" width="3.84" height="1" fill="#2a9a60"/><rect x="973.98" y="925.20" width="4.94" height="15.10" fill="#e0f9eb"/><rect x="973.98" y="940.30" width="4.94" height="9.70" fill="#dce8f3"/><rect x="973.98" y="950.00" width="4.94" height="26.40" fill="#e1e6f0"/><rect x="974.53" y="926.00" width="3.84" height="14.30" fill="#2dd578"/><rect x="974.53" y="940.30" width="3.84" height="9.70" fill="#1669ad"/><rect x="974.53" y="950.00" width="3.84" height="26.40" fill="#37559a"/><rect x="974.53" y="926.00" width="3.84" height="1" fill="#2a9a60"/><rect x="978.92" y="928.30" width="4.94" height="17.50" fill="#e0f9eb"/><rect x="978.92" y="945.80" width="4.94" height="30.60" fill="#e1e6f0"/><rect x="979.47" y="929.10" width="3.84" height="16.70" fill="#2dd578"/><rect x="979.47" y="945.80" width="3.84" height="30.60" fill="#37559a"/><rect x="979.47" y="929.10" width="3.84" height="1" fill="#2a9a60"/><rect x="983.86" y="923.40" width="4.94" height="27.40" fill="#e0f9eb"/><rect x="983.86" y="950.80" width="4.94" height="25.60" fill="#e1e6f0"/><rect x="984.41" y="924.20" width="3.84" height="26.60" fill="#2dd578"/><rect x="984.41" y="950.80" width="3.84" height="25.60" fill="#37559a"/><rect x="984.41" y="924.20" width="3.84" height="1" fill="#2a9a60"/><rect x="988.80" y="927.10" width="4.94" height="18.70" fill="#e0f9eb"/><rect x="988.80" y="945.80" width="4.94" height="9.20" fill="#dce8f3"/><rect x="988.80" y="955.00" width="4.94" height="21.40" fill="#e1e6f0"/><rect x="989.35" y="927.90" width="3.84" height="17.90" fill="#2dd578"/><rect x="989.35" y="945.80" width="3.84" height="9.20" fill="#1669ad"/><rect x="989.35" y="955.00" width="3.84" height="21.40" fill="#37559a"/><rect x="989.35" y="927.90" width="3.84" height="1" fill="#2a9a60"/><rect x="993.74" y="905.40" width="4.94" height="38.60" fill="#e0f9eb"/><rect x="993.74" y="944.00" width="4.94" height="11.00" fill="#dce8f3"/><rect x="993.74" y="955.00" width="4.94" height="21.40" fill="#e1e6f0"/><rect x="994.29" y="906.20" width="3.84" height="37.80" fill="#2dd578"/><rect x="994.29" y="944.00" width="3.84" height="11.00" fill="#1669ad"/><rect x="994.29" y="955.00" width="3.84" height="21.40" fill="#37559a"/><rect x="994.29" y="906.20" width="3.84" height="1" fill="#2a9a60"/><rect x="998.68" y="911.60" width="4.94" height="32.40" fill="#e0f9eb"/><rect x="998.68" y="944.00" width="4.94" height="14.20" fill="#eef1e3"/><rect x="998.68" y="958.20" width="4.94" height="18.20" fill="#e1e6f0"/><rect x="999.23" y="912.40" width="3.84" height="31.60" fill="#2dd578"/><rect x="999.23" y="944.00" width="3.84" height="14.20" fill="#8ca046"/><rect x="999.23" y="958.20" width="3.84" height="18.20" fill="#37559a"/><rect x="999.23" y="912.40" width="3.84" height="1" fill="#2a9a60"/><rect x="1003.62" y="919.00" width="4.94" height="25.00" fill="#fcecec"/><rect x="1003.62" y="944.00" width="4.94" height="11.70" fill="#eef1e3"/><rect x="1003.62" y="955.70" width="4.94" height="20.70" fill="#e1e6f0"/><rect x="1004.17" y="919.80" width="3.84" height="24.20" fill="#ee8082"/><rect x="1004.17" y="944.00" width="3.84" height="11.70" fill="#8ca046"/><rect x="1004.17" y="955.70" width="3.84" height="20.70" fill="#37559a"/><rect x="1004.17" y="919.80" width="3.84" height="1" fill="#c86a6c"/><rect x="1008.56" y="922.80" width="4.94" height="10.70" fill="#fcecec"/><rect x="1008.56" y="933.50" width="4.94" height="14.80" fill="#eef1e3"/><rect x="1008.56" y="948.30" width="4.94" height="28.10" fill="#e1e6f0"/><rect x="1009.11" y="923.60" width="3.84" height="9.90" fill="#ee8082"/><rect x="1009.11" y="933.50" width="3.84" height="14.80" fill="#8ca046"/><rect x="1009.11" y="948.30" width="3.84" height="28.10" fill="#37559a"/><rect x="1009.11" y="923.60" width="3.84" height="1" fill="#c86a6c"/></g><g><rect x="122.50" y="1437.20" width="4.95" height="22.80" fill="#fcecec"/><rect x="122.50" y="1460.00" width="4.95" height="34.00" fill="#ece4f2"/><rect x="122.50" y="1494.00" width="4.95" height="29.30" fill="#e1e6f0"/><rect x="123.05" y="1438.00" width="3.85" height="22.00" fill="#ee8082"/><rect x="123.05" y="1460.00" width="3.85" height="34.00" fill="#7d4baa"/><rect x="123.05" y="1494.00" width="3.85" height="29.30" fill="#37559a"/><rect x="123.05" y="1438.00" width="3.85" height="1" fill="#c86a6c"/><rect x="127.45" y="1436.60" width="4.95" height="22.40" fill="#fcecec"/><rect x="127.45" y="1459.00" width="4.95" height="34.70" fill="#ece4f2"/><rect x="127.45" y="1493.70" width="4.95" height="29.60" fill="#e1e6f0"/><rect x="128.00" y="1437.40" width="3.85" height="21.60" fill="#ee8082"/><rect x="128.00" y="1459.00" width="3.85" height="34.70" fill="#7d4baa"/><rect x="128.00" y="1493.70" width="3.85" height="29.60" fill="#37559a"/><rect x="128.00" y="1437.40" width="3.85" height="1" fill="#c86a6c"/><rect x="132.41" y="1439.70" width="4.95" height="3.90" fill="#fcecec"/><rect x="132.41" y="1443.60" width="4.95" height="22.90" fill="#eef1e3"/><rect x="132.41" y="1466.50" width="4.95" height="56.80" fill="#e1e6f0"/><rect x="132.96" y="1440.50" width="3.85" height="3.10" fill="#ee8082"/><rect x="132.96" y="1443.60" width="3.85" height="22.90" fill="#8ca046"/><rect x="132.96" y="1466.50" width="3.85" height="56.80" fill="#37559a"/><rect x="132.96" y="1440.50" width="3.85" height="1" fill="#c86a6c"/><rect x="137.36" y="1409.40" width="4.95" height="47.80" fill="#e0f9eb"/><rect x="137.36" y="1457.20" width="4.95" height="2.80" fill="#dce8f3"/><rect x="137.36" y="1460.00" width="4.95" height="63.30" fill="#e1e6f0"/><rect x="137.91" y="1410.20" width="3.85" height="47.00" fill="#2dd578"/><rect x="137.91" y="1457.20" width="3.85" height="2.80" fill="#1669ad"/><rect x="137.91" y="1460.00" width="3.85" height="63.30" fill="#37559a"/><rect x="137.91" y="1410.20" width="3.85" height="1" fill="#2a9a60"/><rect x="142.31" y="1408.10" width="4.95" height="29.90" fill="#e0f9eb"/><rect x="142.31" y="1438.00" width="4.95" height="29.10" fill="#eef1e3"/><rect x="142.31" y="1467.10" width="4.95" height="56.20" fill="#e1e6f0"/><rect x="142.86" y="1408.90" width="3.85" height="29.10" fill="#2dd578"/><rect x="142.86" y="1438.00" width="3.85" height="29.10" fill="#8ca046"/><rect x="142.86" y="1467.10" width="3.85" height="56.20" fill="#37559a"/><rect x="142.86" y="1408.90" width="3.85" height="1" fill="#2a9a60"/><rect x="147.26" y="1398.20" width="4.95" height="21.80" fill="#eae9fb"/><rect x="147.26" y="1420.00" width="4.95" height="5.00" fill="#ece4f2"/><rect x="147.26" y="1425.00" width="4.95" height="98.30" fill="#e1e6f0"/><rect x="147.81" y="1399.00" width="3.85" height="21.00" fill="#706ee4"/><rect x="147.81" y="1420.00" width="3.85" height="5.00" fill="#7d4baa"/><rect x="147.81" y="1425.00" width="3.85" height="98.30" fill="#37559a"/><rect x="147.81" y="1399.00" width="3.85" height="1" fill="#5f58c0"/><rect x="152.22" y="1375.30" width="4.95" height="31.80" fill="#fcecec"/><rect x="152.22" y="1407.10" width="4.95" height="26.60" fill="#ece4f2"/><rect x="152.22" y="1433.70" width="4.95" height="89.60" fill="#e1e6f0"/><rect x="152.77" y="1376.10" width="3.85" height="31.00" fill="#ee8082"/><rect x="152.77" y="1407.10" width="3.85" height="26.60" fill="#7d4baa"/><rect x="152.77" y="1433.70" width="3.85" height="89.60" fill="#37559a"/><rect x="152.77" y="1376.10" width="3.85" height="1" fill="#c86a6c"/><rect x="157.17" y="1413.70" width="4.95" height="27.40" fill="#eae9fb"/><rect x="157.17" y="1441.10" width="4.95" height="11.10" fill="#ece4f2"/><rect x="157.17" y="1452.20" width="4.95" height="71.10" fill="#e1e6f0"/><rect x="157.72" y="1414.50" width="3.85" height="26.60" fill="#706ee4"/><rect x="157.72" y="1441.10" width="3.85" height="11.10" fill="#7d4baa"/><rect x="157.72" y="1452.20" width="3.85" height="71.10" fill="#37559a"/><rect x="157.72" y="1414.50" width="3.85" height="1" fill="#5f58c0"/><rect x="162.12" y="1438.40" width="4.95" height="16.30" fill="#eae9fb"/><rect x="162.12" y="1454.70" width="4.95" height="13.60" fill="#dce8f3"/><rect x="162.12" y="1468.30" width="4.95" height="55.00" fill="#e1e6f0"/><rect x="162.67" y="1439.20" width="3.85" height="15.50" fill="#706ee4"/><rect x="162.67" y="1454.70" width="3.85" height="13.60" fill="#1669ad"/><rect x="162.67" y="1468.30" width="3.85" height="55.00" fill="#37559a"/><rect x="162.67" y="1439.20" width="3.85" height="1" fill="#5f58c0"/><rect x="167.08" y="1454.50" width="4.95" height="2.50" fill="#eae9fb"/><rect x="167.08" y="1457.00" width="4.95" height="11.00" fill="#dce8f3"/><rect x="167.08" y="1468.00" width="4.95" height="55.30" fill="#e1e6f0"/><rect x="167.63" y="1455.30" width="3.85" height="1.70" fill="#706ee4"/><rect x="167.63" y="1457.00" width="3.85" height="11.00" fill="#1669ad"/><rect x="167.63" y="1468.00" width="3.85" height="55.30" fill="#37559a"/><rect x="167.63" y="1455.30" width="3.85" height="1" fill="#5f58c0"/><rect x="172.03" y="1460.70" width="4.95" height="11.30" fill="#eae9fb"/><rect x="172.03" y="1472.00" width="4.95" height="12.40" fill="#dce8f3"/><rect x="172.03" y="1484.40" width="4.95" height="38.90" fill="#e1e6f0"/><rect x="172.58" y="1461.50" width="3.85" height="10.50" fill="#706ee4"/><rect x="172.58" y="1472.00" width="3.85" height="12.40" fill="#1669ad"/><rect x="172.58" y="1484.40" width="3.85" height="38.90" fill="#37559a"/><rect x="172.58" y="1461.50" width="3.85" height="1" fill="#5f58c0"/><rect x="176.98" y="1424.80" width="4.95" height="42.30" fill="#eae9fb"/><rect x="176.98" y="1467.10" width="4.95" height="17.90" fill="#dce8f3"/><rect x="176.98" y="1485.00" width="4.95" height="38.30" fill="#e1e6f0"/><rect x="177.53" y="1425.60" width="3.85" height="41.50" fill="#706ee4"/><rect x="177.53" y="1467.10" width="3.85" height="17.90" fill="#1669ad"/><rect x="177.53" y="1485.00" width="3.85" height="38.30" fill="#37559a"/><rect x="177.53" y="1425.60" width="3.85" height="1" fill="#5f58c0"/><rect x="181.94" y="1400.10" width="4.95" height="74.40" fill="#eae9fb"/><rect x="181.94" y="1474.50" width="4.95" height="18.50" fill="#dce8f3"/><rect x="181.94" y="1493.00" width="4.95" height="30.30" fill="#e1e6f0"/><rect x="182.49" y="1400.90" width="3.85" height="73.60" fill="#706ee4"/><rect x="182.49" y="1474.50" width="3.85" height="18.50" fill="#1669ad"/><rect x="182.49" y="1493.00" width="3.85" height="30.30" fill="#37559a"/><rect x="182.49" y="1400.90" width="3.85" height="1" fill="#5f58c0"/><rect x="186.89" y="1367.90" width="4.95" height="113.40" fill="#eae9fb"/><rect x="186.89" y="1481.30" width="4.95" height="42.00" fill="#e1e6f0"/><rect x="187.44" y="1368.70" width="3.85" height="112.60" fill="#706ee4"/><rect x="187.44" y="1481.30" width="3.85" height="42.00" fill="#37559a"/><rect x="187.44" y="1368.70" width="3.85" height="1" fill="#5f58c0"/><rect x="191.84" y="1390.20" width="4.95" height="75.60" fill="#eae9fb"/><rect x="191.84" y="1465.80" width="4.95" height="21.10" fill="#dce8f3"/><rect x="191.84" y="1486.90" width="4.95" height="36.40" fill="#e1e6f0"/><rect x="192.39" y="1391.00" width="3.85" height="74.80" fill="#706ee4"/><rect x="192.39" y="1465.80" width="3.85" height="21.10" fill="#1669ad"/><rect x="192.39" y="1486.90" width="3.85" height="36.40" fill="#37559a"/><rect x="192.39" y="1391.00" width="3.85" height="1" fill="#5f58c0"/><rect x="196.80" y="1405.00" width="4.95" height="70.70" fill="#eae9fb"/><rect x="196.80" y="1475.70" width="4.95" height="3.80" fill="#ece4f2"/><rect x="196.80" y="1479.50" width="4.95" height="43.80" fill="#e1e6f0"/><rect x="197.35" y="1405.80" width="3.85" height="69.90" fill="#706ee4"/><rect x="197.35" y="1475.70" width="3.85" height="3.80" fill="#7d4baa"/><rect x="197.35" y="1479.50" width="3.85" height="43.80" fill="#37559a"/><rect x="197.35" y="1405.80" width="3.85" height="1" fill="#5f58c0"/><rect x="201.75" y="1415.30" width="4.95" height="48.10" fill="#eae9fb"/><rect x="201.75" y="1463.40" width="4.95" height="23.50" fill="#dce8f3"/><rect x="201.75" y="1486.90" width="4.95" height="36.40" fill="#e1e6f0"/><rect x="202.30" y="1416.10" width="3.85" height="47.30" fill="#706ee4"/><rect x="202.30" y="1463.40" width="3.85" height="23.50" fill="#1669ad"/><rect x="202.30" y="1486.90" width="3.85" height="36.40" fill="#37559a"/><rect x="202.30" y="1416.10" width="3.85" height="1" fill="#5f58c0"/><rect x="206.70" y="1419.30" width="4.95" height="37.90" fill="#eae9fb"/><rect x="206.70" y="1457.20" width="4.95" height="30.30" fill="#dce8f3"/><rect x="206.70" y="1487.50" width="4.95" height="35.80" fill="#e1e6f0"/><rect x="207.25" y="1420.10" width="3.85" height="37.10" fill="#706ee4"/><rect x="207.25" y="1457.20" width="3.85" height="30.30" fill="#1669ad"/><rect x="207.25" y="1487.50" width="3.85" height="35.80" fill="#37559a"/><rect x="207.25" y="1420.10" width="3.85" height="1" fill="#5f58c0"/><rect x="211.65" y="1419.90" width="4.95" height="11.30" fill="#eae9fb"/><rect x="211.65" y="1431.20" width="4.95" height="56.30" fill="#dce8f3"/><rect x="211.65" y="1487.50" width="4.95" height="35.80" fill="#e1e6f0"/><rect x="212.20" y="1420.70" width="3.85" height="10.50" fill="#706ee4"/><rect x="212.20" y="1431.20" width="3.85" height="56.30" fill="#1669ad"/><rect x="212.20" y="1487.50" width="3.85" height="35.80" fill="#37559a"/><rect x="212.20" y="1420.70" width="3.85" height="1" fill="#5f58c0"/><rect x="216.61" y="1430.20" width="4.95" height="29.50" fill="#eae9fb"/><rect x="216.61" y="1459.70" width="4.95" height="28.30" fill="#dce8f3"/><rect x="216.61" y="1488.00" width="4.95" height="35.30" fill="#e1e6f0"/><rect x="217.16" y="1431.00" width="3.85" height="28.70" fill="#706ee4"/><rect x="217.16" y="1459.70" width="3.85" height="28.30" fill="#1669ad"/><rect x="217.16" y="1488.00" width="3.85" height="35.30" fill="#37559a"/><rect x="217.16" y="1431.00" width="3.85" height="1" fill="#5f58c0"/><rect x="221.56" y="1433.50" width="4.95" height="26.20" fill="#eae9fb"/><rect x="221.56" y="1459.70" width="4.95" height="36.10" fill="#dce8f3"/><rect x="221.56" y="1495.80" width="4.95" height="27.50" fill="#e1e6f0"/><rect x="222.11" y="1434.30" width="3.85" height="25.40" fill="#706ee4"/><rect x="222.11" y="1459.70" width="3.85" height="36.10" fill="#1669ad"/><rect x="222.11" y="1495.80" width="3.85" height="27.50" fill="#37559a"/><rect x="222.11" y="1434.30" width="3.85" height="1" fill="#5f58c0"/><rect x="226.51" y="1424.80" width="4.95" height="38.90" fill="#eae9fb"/><rect x="226.51" y="1463.70" width="4.95" height="26.30" fill="#dce8f3"/><rect x="226.51" y="1490.00" width="4.95" height="33.30" fill="#e1e6f0"/><rect x="227.06" y="1425.60" width="3.85" height="38.10" fill="#706ee4"/><rect x="227.06" y="1463.70" width="3.85" height="26.30" fill="#1669ad"/><rect x="227.06" y="1490.00" width="3.85" height="33.30" fill="#37559a"/><rect x="227.06" y="1425.60" width="3.85" height="1" fill="#5f58c0"/><rect x="231.47" y="1428.20" width="4.95" height="28.80" fill="#eae9fb"/><rect x="231.47" y="1457.00" width="4.95" height="33.40" fill="#dce8f3"/><rect x="231.47" y="1490.40" width="4.95" height="32.90" fill="#e1e6f0"/><rect x="232.02" y="1429.00" width="3.85" height="28.00" fill="#706ee4"/><rect x="232.02" y="1457.00" width="3.85" height="33.40" fill="#1669ad"/><rect x="232.02" y="1490.40" width="3.85" height="32.90" fill="#37559a"/><rect x="232.02" y="1429.00" width="3.85" height="1" fill="#5f58c0"/><rect x="236.42" y="1414.80" width="4.95" height="56.90" fill="#eae9fb"/><rect x="236.42" y="1471.70" width="4.95" height="23.30" fill="#dce8f3"/><rect x="236.42" y="1495.00" width="4.95" height="28.30" fill="#e1e6f0"/><rect x="236.97" y="1415.60" width="3.85" height="56.10" fill="#706ee4"/><rect x="236.97" y="1471.70" width="3.85" height="23.30" fill="#1669ad"/><rect x="236.97" y="1495.00" width="3.85" height="28.30" fill="#37559a"/><rect x="236.97" y="1415.60" width="3.85" height="1" fill="#5f58c0"/><rect x="241.37" y="1418.80" width="4.95" height="38.90" fill="#eae9fb"/><rect x="241.37" y="1457.70" width="4.95" height="42.10" fill="#dce8f3"/><rect x="241.37" y="1499.80" width="4.95" height="23.50" fill="#e1e6f0"/><rect x="241.92" y="1419.60" width="3.85" height="38.10" fill="#706ee4"/><rect x="241.92" y="1457.70" width="3.85" height="42.10" fill="#1669ad"/><rect x="241.92" y="1499.80" width="3.85" height="23.50" fill="#37559a"/><rect x="241.92" y="1419.60" width="3.85" height="1" fill="#5f58c0"/><rect x="246.32" y="1393.10" width="4.95" height="63.90" fill="#eae9fb"/><rect x="246.32" y="1457.00" width="4.95" height="38.00" fill="#dce8f3"/><rect x="246.32" y="1495.00" width="4.95" height="28.30" fill="#e1e6f0"/><rect x="246.88" y="1393.90" width="3.85" height="63.10" fill="#706ee4"/><rect x="246.88" y="1457.00" width="3.85" height="38.00" fill="#1669ad"/><rect x="246.88" y="1495.00" width="3.85" height="28.30" fill="#37559a"/><rect x="246.88" y="1393.90" width="3.85" height="1" fill="#5f58c0"/><rect x="251.28" y="1396.70" width="4.95" height="59.00" fill="#eae9fb"/><rect x="251.28" y="1455.70" width="4.95" height="42.30" fill="#dce8f3"/><rect x="251.28" y="1498.00" width="4.95" height="25.30" fill="#e1e6f0"/><rect x="251.83" y="1397.50" width="3.85" height="58.20" fill="#706ee4"/><rect x="251.83" y="1455.70" width="3.85" height="42.30" fill="#1669ad"/><rect x="251.83" y="1498.00" width="3.85" height="25.30" fill="#37559a"/><rect x="251.83" y="1397.50" width="3.85" height="1" fill="#5f58c0"/><rect x="256.23" y="1393.10" width="4.95" height="79.30" fill="#eae9fb"/><rect x="256.23" y="1472.40" width="4.95" height="32.60" fill="#dce8f3"/><rect x="256.23" y="1505.00" width="4.95" height="18.30" fill="#e1e6f0"/><rect x="256.78" y="1393.90" width="3.85" height="78.50" fill="#706ee4"/><rect x="256.78" y="1472.40" width="3.85" height="32.60" fill="#1669ad"/><rect x="256.78" y="1505.00" width="3.85" height="18.30" fill="#37559a"/><rect x="256.78" y="1393.90" width="3.85" height="1" fill="#5f58c0"/><rect x="261.18" y="1391.00" width="4.95" height="66.70" fill="#eae9fb"/><rect x="261.18" y="1457.70" width="4.95" height="32.30" fill="#dce8f3"/><rect x="261.18" y="1490.00" width="4.95" height="33.30" fill="#e1e6f0"/><rect x="261.73" y="1391.80" width="3.85" height="65.90" fill="#706ee4"/><rect x="261.73" y="1457.70" width="3.85" height="32.30" fill="#1669ad"/><rect x="261.73" y="1490.00" width="3.85" height="33.30" fill="#37559a"/><rect x="261.73" y="1391.80" width="3.85" height="1" fill="#5f58c0"/><rect x="266.14" y="1401.40" width="4.95" height="42.90" fill="#eae9fb"/><rect x="266.14" y="1444.30" width="4.95" height="53.70" fill="#dce8f3"/><rect x="266.14" y="1498.00" width="4.95" height="25.30" fill="#e1e6f0"/><rect x="266.69" y="1402.20" width="3.85" height="42.10" fill="#706ee4"/><rect x="266.69" y="1444.30" width="3.85" height="53.70" fill="#1669ad"/><rect x="266.69" y="1498.00" width="3.85" height="25.30" fill="#37559a"/><rect x="266.69" y="1402.20" width="3.85" height="1" fill="#5f58c0"/><rect x="271.09" y="1393.40" width="4.95" height="46.20" fill="#eae9fb"/><rect x="271.09" y="1439.60" width="4.95" height="54.80" fill="#dce8f3"/><rect x="271.09" y="1494.40" width="4.95" height="28.90" fill="#e1e6f0"/><rect x="271.64" y="1394.20" width="3.85" height="45.40" fill="#706ee4"/><rect x="271.64" y="1439.60" width="3.85" height="54.80" fill="#1669ad"/><rect x="271.64" y="1494.40" width="3.85" height="28.90" fill="#37559a"/><rect x="271.64" y="1394.20" width="3.85" height="1" fill="#5f58c0"/><rect x="276.04" y="1388.70" width="4.95" height="30.20" fill="#eae9fb"/><rect x="276.04" y="1418.90" width="4.95" height="75.10" fill="#dce8f3"/><rect x="276.04" y="1494.00" width="4.95" height="29.30" fill="#e1e6f0"/><rect x="276.59" y="1389.50" width="3.85" height="29.40" fill="#706ee4"/><rect x="276.59" y="1418.90" width="3.85" height="75.10" fill="#1669ad"/><rect x="276.59" y="1494.00" width="3.85" height="29.30" fill="#37559a"/><rect x="276.59" y="1389.50" width="3.85" height="1" fill="#5f58c0"/><rect x="281.00" y="1412.10" width="4.95" height="1.40" fill="#e0f9eb"/><rect x="281.00" y="1413.50" width="4.95" height="83.50" fill="#dce8f3"/><rect x="281.00" y="1497.00" width="4.95" height="26.30" fill="#e1e6f0"/><rect x="281.55" y="1412.90" width="3.85" height="0.60" fill="#2dd578"/><rect x="281.55" y="1413.50" width="3.85" height="83.50" fill="#1669ad"/><rect x="281.55" y="1497.00" width="3.85" height="26.30" fill="#37559a"/><rect x="281.55" y="1412.90" width="3.85" height="1" fill="#2a9a60"/><rect x="285.95" y="1398.50" width="4.95" height="26.50" fill="#eae9fb"/><rect x="285.95" y="1425.00" width="4.95" height="62.80" fill="#dce8f3"/><rect x="285.95" y="1487.80" width="4.95" height="35.50" fill="#e1e6f0"/><rect x="286.50" y="1399.30" width="3.85" height="25.70" fill="#706ee4"/><rect x="286.50" y="1425.00" width="3.85" height="62.80" fill="#1669ad"/><rect x="286.50" y="1487.80" width="3.85" height="35.50" fill="#37559a"/><rect x="286.50" y="1399.30" width="3.85" height="1" fill="#5f58c0"/><rect x="290.90" y="1398.50" width="4.95" height="55.90" fill="#eae9fb"/><rect x="290.90" y="1454.40" width="4.95" height="35.60" fill="#dce8f3"/><rect x="290.90" y="1490.00" width="4.95" height="33.30" fill="#e1e6f0"/><rect x="291.45" y="1399.30" width="3.85" height="55.10" fill="#706ee4"/><rect x="291.45" y="1454.40" width="3.85" height="35.60" fill="#1669ad"/><rect x="291.45" y="1490.00" width="3.85" height="33.30" fill="#37559a"/><rect x="291.45" y="1399.30" width="3.85" height="1" fill="#5f58c0"/><rect x="295.86" y="1418.50" width="4.95" height="11.80" fill="#e0f9eb"/><rect x="295.86" y="1430.30" width="4.95" height="52.10" fill="#dce8f3"/><rect x="295.86" y="1482.40" width="4.95" height="40.90" fill="#e1e6f0"/><rect x="296.41" y="1419.30" width="3.85" height="11.00" fill="#2dd578"/><rect x="296.41" y="1430.30" width="3.85" height="52.10" fill="#1669ad"/><rect x="296.41" y="1482.40" width="3.85" height="40.90" fill="#37559a"/><rect x="296.41" y="1419.30" width="3.85" height="1" fill="#2a9a60"/><rect x="300.81" y="1413.50" width="4.95" height="1.30" fill="#e0f9eb"/><rect x="300.81" y="1414.80" width="4.95" height="40.90" fill="#dce8f3"/><rect x="300.81" y="1455.70" width="4.95" height="67.60" fill="#e1e6f0"/><rect x="301.36" y="1414.30" width="3.85" height="0.50" fill="#2dd578"/><rect x="301.36" y="1414.80" width="3.85" height="40.90" fill="#1669ad"/><rect x="301.36" y="1455.70" width="3.85" height="67.60" fill="#37559a"/><rect x="301.36" y="1414.30" width="3.85" height="1" fill="#2a9a60"/><rect x="305.76" y="1399.80" width="4.95" height="19.10" fill="#e0f9eb"/><rect x="305.76" y="1418.90" width="4.95" height="66.10" fill="#dce8f3"/><rect x="305.76" y="1485.00" width="4.95" height="38.30" fill="#e1e6f0"/><rect x="306.31" y="1400.60" width="3.85" height="18.30" fill="#2dd578"/><rect x="306.31" y="1418.90" width="3.85" height="66.10" fill="#1669ad"/><rect x="306.31" y="1485.00" width="3.85" height="38.30" fill="#37559a"/><rect x="306.31" y="1400.60" width="3.85" height="1" fill="#2a9a60"/><rect x="310.71" y="1384.70" width="4.95" height="34.20" fill="#e0f9eb"/><rect x="310.71" y="1418.90" width="4.95" height="64.90" fill="#dce8f3"/><rect x="310.71" y="1483.80" width="4.95" height="39.50" fill="#e1e6f0"/><rect x="311.26" y="1385.50" width="3.85" height="33.40" fill="#2dd578"/><rect x="311.26" y="1418.90" width="3.85" height="64.90" fill="#1669ad"/><rect x="311.26" y="1483.80" width="3.85" height="39.50" fill="#37559a"/><rect x="311.26" y="1385.50" width="3.85" height="1" fill="#2a9a60"/><rect x="315.67" y="1368.70" width="4.95" height="39.50" fill="#e0f9eb"/><rect x="315.67" y="1408.20" width="4.95" height="75.60" fill="#dce8f3"/><rect x="315.67" y="1483.80" width="4.95" height="39.50" fill="#e1e6f0"/><rect x="316.22" y="1369.50" width="3.85" height="38.70" fill="#2dd578"/><rect x="316.22" y="1408.20" width="3.85" height="75.60" fill="#1669ad"/><rect x="316.22" y="1483.80" width="3.85" height="39.50" fill="#37559a"/><rect x="316.22" y="1369.50" width="3.85" height="1" fill="#2a9a60"/><rect x="320.62" y="1423.70" width="4.95" height="1.20" fill="#e0f9eb"/><rect x="320.62" y="1424.90" width="4.95" height="55.10" fill="#dce8f3"/><rect x="320.62" y="1480.00" width="4.95" height="43.30" fill="#e1e6f0"/><rect x="321.17" y="1424.50" width="3.85" height="0.40" fill="#2dd578"/><rect x="321.17" y="1424.90" width="3.85" height="55.10" fill="#1669ad"/><rect x="321.17" y="1480.00" width="3.85" height="43.30" fill="#37559a"/><rect x="321.17" y="1424.50" width="3.85" height="1" fill="#2a9a60"/><rect x="325.57" y="1417.20" width="4.95" height="3.80" fill="#eae9fb"/><rect x="325.57" y="1421.00" width="4.95" height="49.00" fill="#dce8f3"/><rect x="325.57" y="1470.00" width="4.95" height="53.30" fill="#e1e6f0"/><rect x="326.12" y="1418.00" width="3.85" height="3.00" fill="#706ee4"/><rect x="326.12" y="1421.00" width="3.85" height="49.00" fill="#1669ad"/><rect x="326.12" y="1470.00" width="3.85" height="53.30" fill="#37559a"/><rect x="326.12" y="1418.00" width="3.85" height="1" fill="#5f58c0"/><rect x="330.53" y="1408.40" width="4.95" height="16.60" fill="#eae9fb"/><rect x="330.53" y="1425.00" width="4.95" height="53.00" fill="#dce8f3"/><rect x="330.53" y="1478.00" width="4.95" height="45.30" fill="#e1e6f0"/><rect x="331.08" y="1409.20" width="3.85" height="15.80" fill="#706ee4"/><rect x="331.08" y="1425.00" width="3.85" height="53.00" fill="#1669ad"/><rect x="331.08" y="1478.00" width="3.85" height="45.30" fill="#37559a"/><rect x="331.08" y="1409.20" width="3.85" height="1" fill="#5f58c0"/><rect x="335.48" y="1385.70" width="4.95" height="32.60" fill="#eae9fb"/><rect x="335.48" y="1418.30" width="4.95" height="18.70" fill="#ece4f2"/><rect x="335.48" y="1437.00" width="4.95" height="86.30" fill="#e1e6f0"/><rect x="336.03" y="1386.50" width="3.85" height="31.80" fill="#706ee4"/><rect x="336.03" y="1418.30" width="3.85" height="18.70" fill="#7d4baa"/><rect x="336.03" y="1437.00" width="3.85" height="86.30" fill="#37559a"/><rect x="336.03" y="1386.50" width="3.85" height="1" fill="#5f58c0"/><rect x="340.43" y="1378.70" width="4.95" height="7.50" fill="#eae9fb"/><rect x="340.43" y="1386.20" width="4.95" height="46.80" fill="#dce8f3"/><rect x="340.43" y="1433.00" width="4.95" height="90.30" fill="#e1e6f0"/><rect x="340.98" y="1379.50" width="3.85" height="6.70" fill="#706ee4"/><rect x="340.98" y="1386.20" width="3.85" height="46.80" fill="#1669ad"/><rect x="340.98" y="1433.00" width="3.85" height="90.30" fill="#37559a"/><rect x="340.98" y="1379.50" width="3.85" height="1" fill="#5f58c0"/><rect x="345.38" y="1371.80" width="4.95" height="25.70" fill="#eae9fb"/><rect x="345.38" y="1397.50" width="4.95" height="72.50" fill="#dce8f3"/><rect x="345.38" y="1470.00" width="4.95" height="53.30" fill="#e1e6f0"/><rect x="345.94" y="1372.60" width="3.85" height="24.90" fill="#706ee4"/><rect x="345.94" y="1397.50" width="3.85" height="72.50" fill="#1669ad"/><rect x="345.94" y="1470.00" width="3.85" height="53.30" fill="#37559a"/><rect x="345.94" y="1372.60" width="3.85" height="1" fill="#5f58c0"/><rect x="350.34" y="1317.20" width="4.95" height="111.80" fill="#eae9fb"/><rect x="350.34" y="1429.00" width="4.95" height="51.00" fill="#dce8f3"/><rect x="350.34" y="1480.00" width="4.95" height="43.30" fill="#e1e6f0"/><rect x="350.89" y="1318.00" width="3.85" height="111.00" fill="#706ee4"/><rect x="350.89" y="1429.00" width="3.85" height="51.00" fill="#1669ad"/><rect x="350.89" y="1480.00" width="3.85" height="43.30" fill="#37559a"/><rect x="350.89" y="1318.00" width="3.85" height="1" fill="#5f58c0"/><rect x="355.29" y="1340.60" width="4.95" height="90.40" fill="#eae9fb"/><rect x="355.29" y="1431.00" width="4.95" height="56.80" fill="#dce8f3"/><rect x="355.29" y="1487.80" width="4.95" height="35.50" fill="#e1e6f0"/><rect x="355.84" y="1341.40" width="3.85" height="89.60" fill="#706ee4"/><rect x="355.84" y="1431.00" width="3.85" height="56.80" fill="#1669ad"/><rect x="355.84" y="1487.80" width="3.85" height="35.50" fill="#37559a"/><rect x="355.84" y="1341.40" width="3.85" height="1" fill="#5f58c0"/><rect x="360.24" y="1353.30" width="4.95" height="60.30" fill="#eae9fb"/><rect x="360.24" y="1413.60" width="4.95" height="71.40" fill="#dce8f3"/><rect x="360.24" y="1485.00" width="4.95" height="38.30" fill="#e1e6f0"/><rect x="360.79" y="1354.10" width="3.85" height="59.50" fill="#706ee4"/><rect x="360.79" y="1413.60" width="3.85" height="71.40" fill="#1669ad"/><rect x="360.79" y="1485.00" width="3.85" height="38.30" fill="#37559a"/><rect x="360.79" y="1354.10" width="3.85" height="1" fill="#5f58c0"/><rect x="365.20" y="1374.70" width="4.95" height="69.00" fill="#eae9fb"/><rect x="365.20" y="1443.70" width="4.95" height="38.30" fill="#dce8f3"/><rect x="365.20" y="1482.00" width="4.95" height="41.30" fill="#e1e6f0"/><rect x="365.75" y="1375.50" width="3.85" height="68.20" fill="#706ee4"/><rect x="365.75" y="1443.70" width="3.85" height="38.30" fill="#1669ad"/><rect x="365.75" y="1482.00" width="3.85" height="41.30" fill="#37559a"/><rect x="365.75" y="1375.50" width="3.85" height="1" fill="#5f58c0"/><rect x="370.15" y="1380.70" width="4.95" height="50.90" fill="#eae9fb"/><rect x="370.15" y="1431.60" width="4.95" height="52.40" fill="#dce8f3"/><rect x="370.15" y="1484.00" width="4.95" height="39.30" fill="#e1e6f0"/><rect x="370.70" y="1381.50" width="3.85" height="50.10" fill="#706ee4"/><rect x="370.70" y="1431.60" width="3.85" height="52.40" fill="#1669ad"/><rect x="370.70" y="1484.00" width="3.85" height="39.30" fill="#37559a"/><rect x="370.70" y="1381.50" width="3.85" height="1" fill="#5f58c0"/><rect x="375.10" y="1388.70" width="4.95" height="63.00" fill="#eae9fb"/><rect x="375.10" y="1451.70" width="4.95" height="43.30" fill="#dce8f3"/><rect x="375.10" y="1495.00" width="4.95" height="28.30" fill="#e1e6f0"/><rect x="375.65" y="1389.50" width="3.85" height="62.20" fill="#706ee4"/><rect x="375.65" y="1451.70" width="3.85" height="43.30" fill="#1669ad"/><rect x="375.65" y="1495.00" width="3.85" height="28.30" fill="#37559a"/><rect x="375.65" y="1389.50" width="3.85" height="1" fill="#5f58c0"/><rect x="380.06" y="1382.70" width="4.95" height="69.00" fill="#eae9fb"/><rect x="380.06" y="1451.70" width="4.95" height="38.30" fill="#dce8f3"/><rect x="380.06" y="1490.00" width="4.95" height="33.30" fill="#e1e6f0"/><rect x="380.61" y="1383.50" width="3.85" height="68.20" fill="#706ee4"/><rect x="380.61" y="1451.70" width="3.85" height="38.30" fill="#1669ad"/><rect x="380.61" y="1490.00" width="3.85" height="33.30" fill="#37559a"/><rect x="380.61" y="1383.50" width="3.85" height="1" fill="#5f58c0"/><rect x="385.01" y="1396.70" width="4.95" height="72.30" fill="#eae9fb"/><rect x="385.01" y="1469.00" width="4.95" height="23.00" fill="#dce8f3"/><rect x="385.01" y="1492.00" width="4.95" height="31.30" fill="#e1e6f0"/><rect x="385.56" y="1397.50" width="3.85" height="71.50" fill="#706ee4"/><rect x="385.56" y="1469.00" width="3.85" height="23.00" fill="#1669ad"/><rect x="385.56" y="1492.00" width="3.85" height="31.30" fill="#37559a"/><rect x="385.56" y="1397.50" width="3.85" height="1" fill="#5f58c0"/><rect x="389.96" y="1401.40" width="4.95" height="46.30" fill="#eae9fb"/><rect x="389.96" y="1447.70" width="4.95" height="47.30" fill="#dce8f3"/><rect x="389.96" y="1495.00" width="4.95" height="28.30" fill="#e1e6f0"/><rect x="390.51" y="1402.20" width="3.85" height="45.50" fill="#706ee4"/><rect x="390.51" y="1447.70" width="3.85" height="47.30" fill="#1669ad"/><rect x="390.51" y="1495.00" width="3.85" height="28.30" fill="#37559a"/><rect x="390.51" y="1402.20" width="3.85" height="1" fill="#5f58c0"/><rect x="394.92" y="1391.40" width="4.95" height="58.90" fill="#eae9fb"/><rect x="394.92" y="1450.30" width="4.95" height="39.70" fill="#dce8f3"/><rect x="394.92" y="1490.00" width="4.95" height="33.30" fill="#e1e6f0"/><rect x="395.47" y="1392.20" width="3.85" height="58.10" fill="#706ee4"/><rect x="395.47" y="1450.30" width="3.85" height="39.70" fill="#1669ad"/><rect x="395.47" y="1490.00" width="3.85" height="33.30" fill="#37559a"/><rect x="395.47" y="1392.20" width="3.85" height="1" fill="#5f58c0"/><rect x="399.87" y="1398.10" width="4.95" height="42.20" fill="#eae9fb"/><rect x="399.87" y="1440.30" width="4.95" height="51.70" fill="#dce8f3"/><rect x="399.87" y="1492.00" width="4.95" height="31.30" fill="#e1e6f0"/><rect x="400.42" y="1398.90" width="3.85" height="41.40" fill="#706ee4"/><rect x="400.42" y="1440.30" width="3.85" height="51.70" fill="#1669ad"/><rect x="400.42" y="1492.00" width="3.85" height="31.30" fill="#37559a"/><rect x="400.42" y="1398.90" width="3.85" height="1" fill="#5f58c0"/><rect x="404.82" y="1375.40" width="4.95" height="76.30" fill="#eae9fb"/><rect x="404.82" y="1451.70" width="4.95" height="48.30" fill="#dce8f3"/><rect x="404.82" y="1500.00" width="4.95" height="23.30" fill="#e1e6f0"/><rect x="405.37" y="1376.20" width="3.85" height="75.50" fill="#706ee4"/><rect x="405.37" y="1451.70" width="3.85" height="48.30" fill="#1669ad"/><rect x="405.37" y="1500.00" width="3.85" height="23.30" fill="#37559a"/><rect x="405.37" y="1376.20" width="3.85" height="1" fill="#5f58c0"/><rect x="409.77" y="1377.60" width="4.95" height="64.70" fill="#eae9fb"/><rect x="409.77" y="1442.30" width="4.95" height="58.70" fill="#dce8f3"/><rect x="409.77" y="1501.00" width="4.95" height="22.30" fill="#e1e6f0"/><rect x="410.32" y="1378.40" width="3.85" height="63.90" fill="#706ee4"/><rect x="410.32" y="1442.30" width="3.85" height="58.70" fill="#1669ad"/><rect x="410.32" y="1501.00" width="3.85" height="22.30" fill="#37559a"/><rect x="410.32" y="1378.40" width="3.85" height="1" fill="#5f58c0"/><rect x="414.73" y="1357.30" width="4.95" height="71.00" fill="#eae9fb"/><rect x="414.73" y="1428.30" width="4.95" height="66.70" fill="#dce8f3"/><rect x="414.73" y="1495.00" width="4.95" height="28.30" fill="#e1e6f0"/><rect x="415.28" y="1358.10" width="3.85" height="70.20" fill="#706ee4"/><rect x="415.28" y="1428.30" width="3.85" height="66.70" fill="#1669ad"/><rect x="415.28" y="1495.00" width="3.85" height="28.30" fill="#37559a"/><rect x="415.28" y="1358.10" width="3.85" height="1" fill="#5f58c0"/><rect x="419.68" y="1356.00" width="4.95" height="75.60" fill="#eae9fb"/><rect x="419.68" y="1431.60" width="4.95" height="58.40" fill="#dce8f3"/><rect x="419.68" y="1490.00" width="4.95" height="33.30" fill="#e1e6f0"/><rect x="420.23" y="1356.80" width="3.85" height="74.80" fill="#706ee4"/><rect x="420.23" y="1431.60" width="3.85" height="58.40" fill="#1669ad"/><rect x="420.23" y="1490.00" width="3.85" height="33.30" fill="#37559a"/><rect x="420.23" y="1356.80" width="3.85" height="1" fill="#5f58c0"/><rect x="424.63" y="1378.40" width="4.95" height="48.60" fill="#eae9fb"/><rect x="424.63" y="1427.00" width="4.95" height="65.00" fill="#dce8f3"/><rect x="424.63" y="1492.00" width="4.95" height="31.30" fill="#e1e6f0"/><rect x="425.18" y="1379.20" width="3.85" height="47.80" fill="#706ee4"/><rect x="425.18" y="1427.00" width="3.85" height="65.00" fill="#1669ad"/><rect x="425.18" y="1492.00" width="3.85" height="31.30" fill="#37559a"/><rect x="425.18" y="1379.20" width="3.85" height="1" fill="#5f58c0"/><rect x="429.59" y="1359.30" width="4.95" height="77.70" fill="#eae9fb"/><rect x="429.59" y="1437.00" width="4.95" height="57.00" fill="#dce8f3"/><rect x="429.59" y="1494.00" width="4.95" height="29.30" fill="#e1e6f0"/><rect x="430.14" y="1360.10" width="3.85" height="76.90" fill="#706ee4"/><rect x="430.14" y="1437.00" width="3.85" height="57.00" fill="#1669ad"/><rect x="430.14" y="1494.00" width="3.85" height="29.30" fill="#37559a"/><rect x="430.14" y="1360.10" width="3.85" height="1" fill="#5f58c0"/><rect x="434.54" y="1367.30" width="4.95" height="77.70" fill="#eae9fb"/><rect x="434.54" y="1445.00" width="4.95" height="55.00" fill="#dce8f3"/><rect x="434.54" y="1500.00" width="4.95" height="23.30" fill="#e1e6f0"/><rect x="435.09" y="1368.10" width="3.85" height="76.90" fill="#706ee4"/><rect x="435.09" y="1445.00" width="3.85" height="55.00" fill="#1669ad"/><rect x="435.09" y="1500.00" width="3.85" height="23.30" fill="#37559a"/><rect x="435.09" y="1368.10" width="3.85" height="1" fill="#5f58c0"/><rect x="439.49" y="1338.30" width="4.95" height="106.70" fill="#eae9fb"/><rect x="439.49" y="1445.00" width="4.95" height="50.00" fill="#dce8f3"/><rect x="439.49" y="1495.00" width="4.95" height="28.30" fill="#e1e6f0"/><rect x="440.04" y="1339.10" width="3.85" height="105.90" fill="#706ee4"/><rect x="440.04" y="1445.00" width="3.85" height="50.00" fill="#1669ad"/><rect x="440.04" y="1495.00" width="3.85" height="28.30" fill="#37559a"/><rect x="440.04" y="1339.10" width="3.85" height="1" fill="#5f58c0"/><rect x="444.44" y="1353.30" width="4.95" height="91.70" fill="#eae9fb"/><rect x="444.44" y="1445.00" width="4.95" height="45.00" fill="#dce8f3"/><rect x="444.44" y="1490.00" width="4.95" height="33.30" fill="#e1e6f0"/><rect x="445.00" y="1354.10" width="3.85" height="90.90" fill="#706ee4"/><rect x="445.00" y="1445.00" width="3.85" height="45.00" fill="#1669ad"/><rect x="445.00" y="1490.00" width="3.85" height="33.30" fill="#37559a"/><rect x="445.00" y="1354.10" width="3.85" height="1" fill="#5f58c0"/><rect x="449.40" y="1384.70" width="4.95" height="64.30" fill="#eae9fb"/><rect x="449.40" y="1449.00" width="4.95" height="39.00" fill="#dce8f3"/><rect x="449.40" y="1488.00" width="4.95" height="35.30" fill="#e1e6f0"/><rect x="449.95" y="1385.50" width="3.85" height="63.50" fill="#706ee4"/><rect x="449.95" y="1449.00" width="3.85" height="39.00" fill="#1669ad"/><rect x="449.95" y="1488.00" width="3.85" height="35.30" fill="#37559a"/><rect x="449.95" y="1385.50" width="3.85" height="1" fill="#5f58c0"/><rect x="454.35" y="1386.70" width="4.95" height="67.70" fill="#eae9fb"/><rect x="454.35" y="1454.40" width="4.95" height="37.60" fill="#dce8f3"/><rect x="454.35" y="1492.00" width="4.95" height="31.30" fill="#e1e6f0"/><rect x="454.90" y="1387.50" width="3.85" height="66.90" fill="#706ee4"/><rect x="454.90" y="1454.40" width="3.85" height="37.60" fill="#1669ad"/><rect x="454.90" y="1492.00" width="3.85" height="31.30" fill="#37559a"/><rect x="454.90" y="1387.50" width="3.85" height="1" fill="#5f58c0"/><rect x="459.30" y="1359.30" width="4.95" height="77.70" fill="#eae9fb"/><rect x="459.30" y="1437.00" width="4.95" height="48.00" fill="#dce8f3"/><rect x="459.30" y="1485.00" width="4.95" height="38.30" fill="#e1e6f0"/><rect x="459.85" y="1360.10" width="3.85" height="76.90" fill="#706ee4"/><rect x="459.85" y="1437.00" width="3.85" height="48.00" fill="#1669ad"/><rect x="459.85" y="1485.00" width="3.85" height="38.30" fill="#37559a"/><rect x="459.85" y="1360.10" width="3.85" height="1" fill="#5f58c0"/><rect x="464.26" y="1367.30" width="4.95" height="70.30" fill="#eae9fb"/><rect x="464.26" y="1437.60" width="4.95" height="50.40" fill="#dce8f3"/><rect x="464.26" y="1488.00" width="4.95" height="35.30" fill="#e1e6f0"/><rect x="464.81" y="1368.10" width="3.85" height="69.50" fill="#706ee4"/><rect x="464.81" y="1437.60" width="3.85" height="50.40" fill="#1669ad"/><rect x="464.81" y="1488.00" width="3.85" height="35.30" fill="#37559a"/><rect x="464.81" y="1368.10" width="3.85" height="1" fill="#5f58c0"/><rect x="469.21" y="1358.70" width="4.95" height="51.50" fill="#eae9fb"/><rect x="469.21" y="1410.20" width="4.95" height="76.20" fill="#dce8f3"/><rect x="469.21" y="1486.40" width="4.95" height="36.90" fill="#e1e6f0"/><rect x="469.76" y="1359.50" width="3.85" height="50.70" fill="#706ee4"/><rect x="469.76" y="1410.20" width="3.85" height="76.20" fill="#1669ad"/><rect x="469.76" y="1486.40" width="3.85" height="36.90" fill="#37559a"/><rect x="469.76" y="1359.50" width="3.85" height="1" fill="#5f58c0"/><rect x="474.16" y="1398.10" width="4.95" height="19.50" fill="#eae9fb"/><rect x="474.16" y="1417.60" width="4.95" height="62.40" fill="#dce8f3"/><rect x="474.16" y="1480.00" width="4.95" height="43.30" fill="#e1e6f0"/><rect x="474.71" y="1398.90" width="3.85" height="18.70" fill="#706ee4"/><rect x="474.71" y="1417.60" width="3.85" height="62.40" fill="#1669ad"/><rect x="474.71" y="1480.00" width="3.85" height="43.30" fill="#37559a"/><rect x="474.71" y="1398.90" width="3.85" height="1" fill="#5f58c0"/><rect x="479.12" y="1411.40" width="4.95" height="16.20" fill="#eae9fb"/><rect x="479.12" y="1427.60" width="4.95" height="50.40" fill="#dce8f3"/><rect x="479.12" y="1478.00" width="4.95" height="45.30" fill="#e1e6f0"/><rect x="479.67" y="1412.20" width="3.85" height="15.40" fill="#706ee4"/><rect x="479.67" y="1427.60" width="3.85" height="50.40" fill="#1669ad"/><rect x="479.67" y="1478.00" width="3.85" height="45.30" fill="#37559a"/><rect x="479.67" y="1412.20" width="3.85" height="1" fill="#5f58c0"/><rect x="484.07" y="1401.40" width="4.95" height="24.20" fill="#eae9fb"/><rect x="484.07" y="1425.60" width="4.95" height="49.40" fill="#dce8f3"/><rect x="484.07" y="1475.00" width="4.95" height="48.30" fill="#e1e6f0"/><rect x="484.62" y="1402.20" width="3.85" height="23.40" fill="#706ee4"/><rect x="484.62" y="1425.60" width="3.85" height="49.40" fill="#1669ad"/><rect x="484.62" y="1475.00" width="3.85" height="48.30" fill="#37559a"/><rect x="484.62" y="1402.20" width="3.85" height="1" fill="#5f58c0"/><rect x="489.02" y="1396.70" width="4.95" height="34.90" fill="#eae9fb"/><rect x="489.02" y="1431.60" width="4.95" height="40.10" fill="#dce8f3"/><rect x="489.02" y="1471.70" width="4.95" height="51.60" fill="#e1e6f0"/><rect x="489.57" y="1397.50" width="3.85" height="34.10" fill="#706ee4"/><rect x="489.57" y="1431.60" width="3.85" height="40.10" fill="#1669ad"/><rect x="489.57" y="1471.70" width="3.85" height="51.60" fill="#37559a"/><rect x="489.57" y="1397.50" width="3.85" height="1" fill="#5f58c0"/><rect x="493.98" y="1398.10" width="4.95" height="4.10" fill="#eae9fb"/><rect x="493.98" y="1402.20" width="4.95" height="65.80" fill="#dce8f3"/><rect x="493.98" y="1468.00" width="4.95" height="55.30" fill="#e1e6f0"/><rect x="494.53" y="1398.90" width="3.85" height="3.30" fill="#706ee4"/><rect x="494.53" y="1402.20" width="3.85" height="65.80" fill="#1669ad"/><rect x="494.53" y="1468.00" width="3.85" height="55.30" fill="#37559a"/><rect x="494.53" y="1398.90" width="3.85" height="1" fill="#5f58c0"/><rect x="498.93" y="1398.10" width="4.95" height="24.90" fill="#eae9fb"/><rect x="498.93" y="1423.00" width="4.95" height="42.00" fill="#dce8f3"/><rect x="498.93" y="1465.00" width="4.95" height="58.30" fill="#e1e6f0"/><rect x="499.48" y="1398.90" width="3.85" height="24.10" fill="#706ee4"/><rect x="499.48" y="1423.00" width="3.85" height="42.00" fill="#1669ad"/><rect x="499.48" y="1465.00" width="3.85" height="58.30" fill="#37559a"/><rect x="499.48" y="1398.90" width="3.85" height="1" fill="#5f58c0"/><rect x="503.88" y="1377.80" width="4.95" height="23.50" fill="#e0f9eb"/><rect x="503.88" y="1401.30" width="4.95" height="38.70" fill="#dce8f3"/><rect x="503.88" y="1440.00" width="4.95" height="83.30" fill="#e1e6f0"/><rect x="504.43" y="1378.60" width="3.85" height="22.70" fill="#2dd578"/><rect x="504.43" y="1401.30" width="3.85" height="38.70" fill="#1669ad"/><rect x="504.43" y="1440.00" width="3.85" height="83.30" fill="#37559a"/><rect x="504.43" y="1378.60" width="3.85" height="1" fill="#2a9a60"/><rect x="508.83" y="1370.40" width="4.95" height="36.40" fill="#e0f9eb"/><rect x="508.83" y="1406.80" width="4.95" height="32.20" fill="#dce8f3"/><rect x="508.83" y="1439.00" width="4.95" height="84.30" fill="#e1e6f0"/><rect x="509.38" y="1371.20" width="3.85" height="35.60" fill="#2dd578"/><rect x="509.38" y="1406.80" width="3.85" height="32.20" fill="#1669ad"/><rect x="509.38" y="1439.00" width="3.85" height="84.30" fill="#37559a"/><rect x="509.38" y="1371.20" width="3.85" height="1" fill="#2a9a60"/><rect x="513.79" y="1388.50" width="4.95" height="10.30" fill="#e0f9eb"/><rect x="513.79" y="1398.80" width="4.95" height="28.50" fill="#dce8f3"/><rect x="513.79" y="1427.30" width="4.95" height="96.00" fill="#e1e6f0"/><rect x="514.34" y="1389.30" width="3.85" height="9.50" fill="#2dd578"/><rect x="514.34" y="1398.80" width="3.85" height="28.50" fill="#1669ad"/><rect x="514.34" y="1427.30" width="3.85" height="96.00" fill="#37559a"/><rect x="514.34" y="1389.30" width="3.85" height="1" fill="#2a9a60"/><rect x="518.74" y="1364.40" width="4.95" height="11.80" fill="#fcecec"/><rect x="518.74" y="1376.20" width="4.95" height="26.30" fill="#eef1e3"/><rect x="518.74" y="1402.50" width="4.95" height="120.80" fill="#e1e6f0"/><rect x="519.29" y="1365.20" width="3.85" height="11.00" fill="#ee8082"/><rect x="519.29" y="1376.20" width="3.85" height="26.30" fill="#8ca046"/><rect x="519.29" y="1402.50" width="3.85" height="120.80" fill="#37559a"/><rect x="519.29" y="1365.20" width="3.85" height="1" fill="#c86a6c"/><rect x="523.69" y="1373.90" width="4.95" height="35.10" fill="#e0f9eb"/><rect x="523.69" y="1409.00" width="4.95" height="22.70" fill="#dce8f3"/><rect x="523.69" y="1431.70" width="4.95" height="91.60" fill="#e1e6f0"/><rect x="524.24" y="1374.70" width="3.85" height="34.30" fill="#2dd578"/><rect x="524.24" y="1409.00" width="3.85" height="22.70" fill="#1669ad"/><rect x="524.24" y="1431.70" width="3.85" height="91.60" fill="#37559a"/><rect x="524.24" y="1374.70" width="3.85" height="1" fill="#2a9a60"/><rect x="528.65" y="1345.40" width="4.95" height="27.80" fill="#e0f9eb"/><rect x="528.65" y="1373.20" width="4.95" height="87.70" fill="#dce8f3"/><rect x="528.65" y="1460.90" width="4.95" height="62.40" fill="#e1e6f0"/><rect x="529.20" y="1346.20" width="3.85" height="27.00" fill="#2dd578"/><rect x="529.20" y="1373.20" width="3.85" height="87.70" fill="#1669ad"/><rect x="529.20" y="1460.90" width="3.85" height="62.40" fill="#37559a"/><rect x="529.20" y="1346.20" width="3.85" height="1" fill="#2a9a60"/><rect x="533.60" y="1300.60" width="4.95" height="76.30" fill="#e0f9eb"/><rect x="533.60" y="1376.90" width="4.95" height="73.10" fill="#dce8f3"/><rect x="533.60" y="1450.00" width="4.95" height="73.30" fill="#e1e6f0"/><rect x="534.15" y="1301.40" width="3.85" height="75.50" fill="#2dd578"/><rect x="534.15" y="1376.90" width="3.85" height="73.10" fill="#1669ad"/><rect x="534.15" y="1450.00" width="3.85" height="73.30" fill="#37559a"/><rect x="534.15" y="1301.40" width="3.85" height="1" fill="#2a9a60"/><rect x="538.55" y="1311.80" width="4.95" height="4.50" fill="#e0f9eb"/><rect x="538.55" y="1316.30" width="4.95" height="128.70" fill="#dce8f3"/><rect x="538.55" y="1445.00" width="4.95" height="78.30" fill="#e1e6f0"/><rect x="539.10" y="1312.60" width="3.85" height="3.70" fill="#2dd578"/><rect x="539.10" y="1316.30" width="3.85" height="128.70" fill="#1669ad"/><rect x="539.10" y="1445.00" width="3.85" height="78.30" fill="#37559a"/><rect x="539.10" y="1312.60" width="3.85" height="1" fill="#2a9a60"/><rect x="543.51" y="1339.40" width="4.95" height="1.40" fill="#e0f9eb"/><rect x="543.51" y="1340.80" width="4.95" height="104.00" fill="#dce8f3"/><rect x="543.51" y="1444.80" width="4.95" height="78.50" fill="#e1e6f0"/><rect x="544.06" y="1340.20" width="3.85" height="0.60" fill="#2dd578"/><rect x="544.06" y="1340.80" width="3.85" height="104.00" fill="#1669ad"/><rect x="544.06" y="1444.80" width="3.85" height="78.50" fill="#37559a"/><rect x="544.06" y="1340.20" width="3.85" height="1" fill="#2a9a60"/><rect x="548.46" y="1324.20" width="4.95" height="37.40" fill="#eae9fb"/><rect x="548.46" y="1361.60" width="4.95" height="88.40" fill="#dce8f3"/><rect x="548.46" y="1450.00" width="4.95" height="73.30" fill="#e1e6f0"/><rect x="549.01" y="1325.00" width="3.85" height="36.60" fill="#706ee4"/><rect x="549.01" y="1361.60" width="3.85" height="88.40" fill="#1669ad"/><rect x="549.01" y="1450.00" width="3.85" height="73.30" fill="#37559a"/><rect x="549.01" y="1325.00" width="3.85" height="1" fill="#5f58c0"/><rect x="553.41" y="1330.80" width="4.95" height="55.60" fill="#eae9fb"/><rect x="553.41" y="1386.40" width="4.95" height="33.60" fill="#ece4f2"/><rect x="553.41" y="1420.00" width="4.95" height="103.30" fill="#e1e6f0"/><rect x="553.96" y="1331.60" width="3.85" height="54.80" fill="#706ee4"/><rect x="553.96" y="1386.40" width="3.85" height="33.60" fill="#7d4baa"/><rect x="553.96" y="1420.00" width="3.85" height="103.30" fill="#37559a"/><rect x="553.96" y="1331.60" width="3.85" height="1" fill="#5f58c0"/><rect x="558.36" y="1295.30" width="4.95" height="74.30" fill="#eae9fb"/><rect x="558.36" y="1369.60" width="4.95" height="22.60" fill="#ece4f2"/><rect x="558.36" y="1392.20" width="4.95" height="131.10" fill="#e1e6f0"/><rect x="558.91" y="1296.10" width="3.85" height="73.50" fill="#706ee4"/><rect x="558.91" y="1369.60" width="3.85" height="22.60" fill="#7d4baa"/><rect x="558.91" y="1392.20" width="3.85" height="131.10" fill="#37559a"/><rect x="558.91" y="1296.10" width="3.85" height="1" fill="#5f58c0"/><rect x="563.32" y="1323.50" width="4.95" height="77.50" fill="#e0f9eb"/><rect x="563.32" y="1401.00" width="4.95" height="44.00" fill="#dce8f3"/><rect x="563.32" y="1445.00" width="4.95" height="78.30" fill="#e1e6f0"/><rect x="563.87" y="1324.30" width="3.85" height="76.70" fill="#2dd578"/><rect x="563.87" y="1401.00" width="3.85" height="44.00" fill="#1669ad"/><rect x="563.87" y="1445.00" width="3.85" height="78.30" fill="#37559a"/><rect x="563.87" y="1324.30" width="3.85" height="1" fill="#2a9a60"/><rect x="568.27" y="1348.30" width="4.95" height="21.30" fill="#e0f9eb"/><rect x="568.27" y="1369.60" width="4.95" height="75.40" fill="#dce8f3"/><rect x="568.27" y="1445.00" width="4.95" height="78.30" fill="#e1e6f0"/><rect x="568.82" y="1349.10" width="3.85" height="20.50" fill="#2dd578"/><rect x="568.82" y="1369.60" width="3.85" height="75.40" fill="#1669ad"/><rect x="568.82" y="1445.00" width="3.85" height="78.30" fill="#37559a"/><rect x="568.82" y="1349.10" width="3.85" height="1" fill="#2a9a60"/><rect x="573.22" y="1366.60" width="4.95" height="28.50" fill="#e0f9eb"/><rect x="573.22" y="1395.10" width="4.95" height="45.30" fill="#dce8f3"/><rect x="573.22" y="1440.40" width="4.95" height="82.90" fill="#e1e6f0"/><rect x="573.77" y="1367.40" width="3.85" height="27.70" fill="#2dd578"/><rect x="573.77" y="1395.10" width="3.85" height="45.30" fill="#1669ad"/><rect x="573.77" y="1440.40" width="3.85" height="82.90" fill="#37559a"/><rect x="573.77" y="1367.40" width="3.85" height="1" fill="#2a9a60"/><rect x="578.18" y="1355.60" width="4.95" height="8.90" fill="#e0f9eb"/><rect x="578.18" y="1364.50" width="4.95" height="80.50" fill="#dce8f3"/><rect x="578.18" y="1445.00" width="4.95" height="78.30" fill="#e1e6f0"/><rect x="578.73" y="1356.40" width="3.85" height="8.10" fill="#2dd578"/><rect x="578.73" y="1364.50" width="3.85" height="80.50" fill="#1669ad"/><rect x="578.73" y="1445.00" width="3.85" height="78.30" fill="#37559a"/><rect x="578.73" y="1356.40" width="3.85" height="1" fill="#2a9a60"/><rect x="583.13" y="1363.70" width="4.95" height="16.10" fill="#e0f9eb"/><rect x="583.13" y="1379.80" width="4.95" height="44.60" fill="#dce8f3"/><rect x="583.13" y="1424.40" width="4.95" height="98.90" fill="#e1e6f0"/><rect x="583.68" y="1364.50" width="3.85" height="15.30" fill="#2dd578"/><rect x="583.68" y="1379.80" width="3.85" height="44.60" fill="#1669ad"/><rect x="583.68" y="1424.40" width="3.85" height="98.90" fill="#37559a"/><rect x="583.68" y="1364.50" width="3.85" height="1" fill="#2a9a60"/><rect x="588.08" y="1328.60" width="4.95" height="11.10" fill="#eae9fb"/><rect x="588.08" y="1339.70" width="4.95" height="73.00" fill="#dce8f3"/><rect x="588.08" y="1412.70" width="4.95" height="110.60" fill="#e1e6f0"/><rect x="588.63" y="1329.40" width="3.85" height="10.30" fill="#706ee4"/><rect x="588.63" y="1339.70" width="3.85" height="73.00" fill="#1669ad"/><rect x="588.63" y="1412.70" width="3.85" height="110.60" fill="#37559a"/><rect x="588.63" y="1329.40" width="3.85" height="1" fill="#5f58c0"/><rect x="593.04" y="1345.40" width="4.95" height="14.00" fill="#eae9fb"/><rect x="593.04" y="1359.40" width="4.95" height="60.60" fill="#dce8f3"/><rect x="593.04" y="1420.00" width="4.95" height="103.30" fill="#e1e6f0"/><rect x="593.59" y="1346.20" width="3.85" height="13.20" fill="#706ee4"/><rect x="593.59" y="1359.40" width="3.85" height="60.60" fill="#1669ad"/><rect x="593.59" y="1420.00" width="3.85" height="103.30" fill="#37559a"/><rect x="593.59" y="1346.20" width="3.85" height="1" fill="#5f58c0"/><rect x="597.99" y="1343.10" width="4.95" height="29.90" fill="#eae9fb"/><rect x="597.99" y="1373.00" width="4.95" height="56.30" fill="#dce8f3"/><rect x="597.99" y="1429.30" width="4.95" height="94.00" fill="#e1e6f0"/><rect x="598.54" y="1343.90" width="3.85" height="29.10" fill="#706ee4"/><rect x="598.54" y="1373.00" width="3.85" height="56.30" fill="#1669ad"/><rect x="598.54" y="1429.30" width="3.85" height="94.00" fill="#37559a"/><rect x="598.54" y="1343.90" width="3.85" height="1" fill="#5f58c0"/><rect x="602.94" y="1360.20" width="4.95" height="26.40" fill="#eae9fb"/><rect x="602.94" y="1386.60" width="4.95" height="37.60" fill="#dce8f3"/><rect x="602.94" y="1424.20" width="4.95" height="99.10" fill="#e1e6f0"/><rect x="603.49" y="1361.00" width="3.85" height="25.60" fill="#706ee4"/><rect x="603.49" y="1386.60" width="3.85" height="37.60" fill="#1669ad"/><rect x="603.49" y="1424.20" width="3.85" height="99.10" fill="#37559a"/><rect x="603.49" y="1361.00" width="3.85" height="1" fill="#5f58c0"/><rect x="607.89" y="1372.20" width="4.95" height="16.10" fill="#eae9fb"/><rect x="607.89" y="1388.30" width="4.95" height="61.50" fill="#dce8f3"/><rect x="607.89" y="1449.80" width="4.95" height="73.50" fill="#e1e6f0"/><rect x="608.44" y="1373.00" width="3.85" height="15.30" fill="#706ee4"/><rect x="608.44" y="1388.30" width="3.85" height="61.50" fill="#1669ad"/><rect x="608.44" y="1449.80" width="3.85" height="73.50" fill="#37559a"/><rect x="608.44" y="1373.00" width="3.85" height="1" fill="#5f58c0"/><rect x="612.85" y="1345.20" width="4.95" height="51.70" fill="#eae9fb"/><rect x="612.85" y="1396.90" width="4.95" height="18.80" fill="#dce8f3"/><rect x="612.85" y="1415.70" width="4.95" height="107.60" fill="#e1e6f0"/><rect x="613.40" y="1346.00" width="3.85" height="50.90" fill="#706ee4"/><rect x="613.40" y="1396.90" width="3.85" height="18.80" fill="#1669ad"/><rect x="613.40" y="1415.70" width="3.85" height="107.60" fill="#37559a"/><rect x="613.40" y="1346.00" width="3.85" height="1" fill="#5f58c0"/><rect x="617.80" y="1365.30" width="4.95" height="11.10" fill="#eae9fb"/><rect x="617.80" y="1376.40" width="4.95" height="37.60" fill="#dce8f3"/><rect x="617.80" y="1414.00" width="4.95" height="109.30" fill="#e1e6f0"/><rect x="618.35" y="1366.10" width="3.85" height="10.30" fill="#706ee4"/><rect x="618.35" y="1376.40" width="3.85" height="37.60" fill="#1669ad"/><rect x="618.35" y="1414.00" width="3.85" height="109.30" fill="#37559a"/><rect x="618.35" y="1366.10" width="3.85" height="1" fill="#5f58c0"/><rect x="622.75" y="1351.30" width="4.95" height="9.70" fill="#e0f9eb"/><rect x="622.75" y="1361.00" width="4.95" height="39.00" fill="#dce8f3"/><rect x="622.75" y="1400.00" width="4.95" height="123.30" fill="#e1e6f0"/><rect x="623.30" y="1352.10" width="3.85" height="8.90" fill="#2dd578"/><rect x="623.30" y="1361.00" width="3.85" height="39.00" fill="#1669ad"/><rect x="623.30" y="1400.00" width="3.85" height="123.30" fill="#37559a"/><rect x="623.30" y="1352.10" width="3.85" height="1" fill="#2a9a60"/><rect x="627.71" y="1335.40" width="4.95" height="44.40" fill="#e0f9eb"/><rect x="627.71" y="1379.80" width="4.95" height="15.20" fill="#dce8f3"/><rect x="627.71" y="1395.00" width="4.95" height="128.30" fill="#e1e6f0"/><rect x="628.26" y="1336.20" width="3.85" height="43.60" fill="#2dd578"/><rect x="628.26" y="1379.80" width="3.85" height="15.20" fill="#1669ad"/><rect x="628.26" y="1395.00" width="3.85" height="128.30" fill="#37559a"/><rect x="628.26" y="1336.20" width="3.85" height="1" fill="#2a9a60"/><rect x="632.66" y="1365.00" width="4.95" height="1.50" fill="#e0f9eb"/><rect x="632.66" y="1366.50" width="4.95" height="23.50" fill="#dce8f3"/><rect x="632.66" y="1390.00" width="4.95" height="133.30" fill="#e1e6f0"/><rect x="633.21" y="1365.80" width="3.85" height="0.70" fill="#2dd578"/><rect x="633.21" y="1366.50" width="3.85" height="23.50" fill="#1669ad"/><rect x="633.21" y="1390.00" width="3.85" height="133.30" fill="#37559a"/><rect x="633.21" y="1365.80" width="3.85" height="1" fill="#2a9a60"/><rect x="637.61" y="1330.30" width="4.95" height="51.70" fill="#fcecec"/><rect x="637.61" y="1382.00" width="4.95" height="1.20" fill="#eef1e3"/><rect x="637.61" y="1383.20" width="4.95" height="140.10" fill="#e1e6f0"/><rect x="638.16" y="1331.10" width="3.85" height="50.90" fill="#ee8082"/><rect x="638.16" y="1382.00" width="3.85" height="1.20" fill="#8ca046"/><rect x="638.16" y="1383.20" width="3.85" height="140.10" fill="#37559a"/><rect x="638.16" y="1331.10" width="3.85" height="1" fill="#c86a6c"/><rect x="642.57" y="1367.90" width="4.95" height="6.80" fill="#eae9fb"/><rect x="642.57" y="1374.70" width="4.95" height="15.30" fill="#dce8f3"/><rect x="642.57" y="1390.00" width="4.95" height="133.30" fill="#e1e6f0"/><rect x="643.12" y="1368.70" width="3.85" height="6.00" fill="#706ee4"/><rect x="643.12" y="1374.70" width="3.85" height="15.30" fill="#1669ad"/><rect x="643.12" y="1390.00" width="3.85" height="133.30" fill="#37559a"/><rect x="643.12" y="1368.70" width="3.85" height="1" fill="#5f58c0"/><rect x="647.52" y="1355.10" width="4.95" height="17.00" fill="#eae9fb"/><rect x="647.52" y="1372.10" width="4.95" height="19.70" fill="#dce8f3"/><rect x="647.52" y="1391.80" width="4.95" height="131.50" fill="#e1e6f0"/><rect x="648.07" y="1355.90" width="3.85" height="16.20" fill="#706ee4"/><rect x="648.07" y="1372.10" width="3.85" height="19.70" fill="#1669ad"/><rect x="648.07" y="1391.80" width="3.85" height="131.50" fill="#37559a"/><rect x="648.07" y="1355.90" width="3.85" height="1" fill="#5f58c0"/><rect x="652.47" y="1311.50" width="4.95" height="47.00" fill="#e0f9eb"/><rect x="652.47" y="1358.50" width="4.95" height="33.30" fill="#dce8f3"/><rect x="652.47" y="1391.80" width="4.95" height="131.50" fill="#e1e6f0"/><rect x="653.02" y="1312.30" width="3.85" height="46.20" fill="#2dd578"/><rect x="653.02" y="1358.50" width="3.85" height="33.30" fill="#1669ad"/><rect x="653.02" y="1391.80" width="3.85" height="131.50" fill="#37559a"/><rect x="653.02" y="1312.30" width="3.85" height="1" fill="#2a9a60"/><rect x="657.42" y="1322.30" width="4.95" height="47.30" fill="#e0f9eb"/><rect x="657.42" y="1369.60" width="4.95" height="20.40" fill="#dce8f3"/><rect x="657.42" y="1390.00" width="4.95" height="133.30" fill="#e1e6f0"/><rect x="657.97" y="1323.10" width="3.85" height="46.50" fill="#2dd578"/><rect x="657.97" y="1369.60" width="3.85" height="20.40" fill="#1669ad"/><rect x="657.97" y="1390.00" width="3.85" height="133.30" fill="#37559a"/><rect x="657.97" y="1323.10" width="3.85" height="1" fill="#2a9a60"/><rect x="662.38" y="1355.10" width="4.95" height="7.60" fill="#e0f9eb"/><rect x="662.38" y="1362.70" width="4.95" height="22.30" fill="#dce8f3"/><rect x="662.38" y="1385.00" width="4.95" height="138.30" fill="#e1e6f0"/><rect x="662.93" y="1355.90" width="3.85" height="6.80" fill="#2dd578"/><rect x="662.93" y="1362.70" width="3.85" height="22.30" fill="#1669ad"/><rect x="662.93" y="1385.00" width="3.85" height="138.30" fill="#37559a"/><rect x="662.93" y="1355.90" width="3.85" height="1" fill="#2a9a60"/><rect x="667.33" y="1335.40" width="4.95" height="34.20" fill="#fcecec"/><rect x="667.33" y="1369.60" width="4.95" height="22.20" fill="#ece4f2"/><rect x="667.33" y="1391.80" width="4.95" height="131.50" fill="#e1e6f0"/><rect x="667.88" y="1336.20" width="3.85" height="33.40" fill="#ee8082"/><rect x="667.88" y="1369.60" width="3.85" height="22.20" fill="#7d4baa"/><rect x="667.88" y="1391.80" width="3.85" height="131.50" fill="#37559a"/><rect x="667.88" y="1336.20" width="3.85" height="1" fill="#c86a6c"/><rect x="672.28" y="1309.80" width="4.95" height="57.20" fill="#fcecec"/><rect x="672.28" y="1367.00" width="4.95" height="12.80" fill="#ece4f2"/><rect x="672.28" y="1379.80" width="4.95" height="143.50" fill="#e1e6f0"/><rect x="672.83" y="1310.60" width="3.85" height="56.40" fill="#ee8082"/><rect x="672.83" y="1367.00" width="3.85" height="12.80" fill="#7d4baa"/><rect x="672.83" y="1379.80" width="3.85" height="143.50" fill="#37559a"/><rect x="672.83" y="1310.60" width="3.85" height="1" fill="#c86a6c"/><rect x="677.24" y="1281.70" width="4.95" height="96.30" fill="#fcecec"/><rect x="677.24" y="1378.00" width="4.95" height="2.00" fill="#eef1e3"/><rect x="677.24" y="1380.00" width="4.95" height="143.30" fill="#e1e6f0"/><rect x="677.79" y="1282.50" width="3.85" height="95.50" fill="#ee8082"/><rect x="677.79" y="1378.00" width="3.85" height="2.00" fill="#8ca046"/><rect x="677.79" y="1380.00" width="3.85" height="143.30" fill="#37559a"/><rect x="677.79" y="1282.50" width="3.85" height="1" fill="#c86a6c"/><rect x="682.19" y="1267.10" width="4.95" height="99.00" fill="#fcecec"/><rect x="682.19" y="1366.10" width="4.95" height="27.40" fill="#ece4f2"/><rect x="682.19" y="1393.50" width="4.95" height="129.80" fill="#e1e6f0"/><rect x="682.74" y="1267.90" width="3.85" height="98.20" fill="#ee8082"/><rect x="682.74" y="1366.10" width="3.85" height="27.40" fill="#7d4baa"/><rect x="682.74" y="1393.50" width="3.85" height="129.80" fill="#37559a"/><rect x="682.74" y="1267.90" width="3.85" height="1" fill="#c86a6c"/><rect x="687.14" y="1267.10" width="4.95" height="70.90" fill="#fcecec"/><rect x="687.14" y="1338.00" width="4.95" height="17.90" fill="#ece4f2"/><rect x="687.14" y="1355.90" width="4.95" height="167.40" fill="#e1e6f0"/><rect x="687.69" y="1267.90" width="3.85" height="70.10" fill="#ee8082"/><rect x="687.69" y="1338.00" width="3.85" height="17.90" fill="#7d4baa"/><rect x="687.69" y="1355.90" width="3.85" height="167.40" fill="#37559a"/><rect x="687.69" y="1267.90" width="3.85" height="1" fill="#c86a6c"/><rect x="692.10" y="1256.60" width="4.95" height="73.40" fill="#fcecec"/><rect x="692.10" y="1330.00" width="4.95" height="1.00" fill="#ece4f2"/><rect x="692.10" y="1331.00" width="4.95" height="192.30" fill="#e1e6f0"/><rect x="692.64" y="1257.40" width="3.85" height="72.60" fill="#ee8082"/><rect x="692.64" y="1330.00" width="3.85" height="1.00" fill="#7d4baa"/><rect x="692.64" y="1331.00" width="3.85" height="192.30" fill="#37559a"/><rect x="692.64" y="1257.40" width="3.85" height="1" fill="#c86a6c"/><rect x="697.05" y="1260.70" width="4.95" height="38.60" fill="#fcecec"/><rect x="697.05" y="1299.30" width="4.95" height="59.60" fill="#eef1e3"/><rect x="697.05" y="1358.90" width="4.95" height="164.40" fill="#e1e6f0"/><rect x="697.60" y="1261.50" width="3.85" height="37.80" fill="#ee8082"/><rect x="697.60" y="1299.30" width="3.85" height="59.60" fill="#8ca046"/><rect x="697.60" y="1358.90" width="3.85" height="164.40" fill="#37559a"/><rect x="697.60" y="1261.50" width="3.85" height="1" fill="#c86a6c"/><rect x="702.00" y="1285.60" width="4.95" height="57.40" fill="#fcecec"/><rect x="702.00" y="1343.00" width="4.95" height="1.00" fill="#ece4f2"/><rect x="702.00" y="1344.00" width="4.95" height="179.30" fill="#e1e6f0"/><rect x="702.55" y="1286.40" width="3.85" height="56.60" fill="#ee8082"/><rect x="702.55" y="1343.00" width="3.85" height="1.00" fill="#7d4baa"/><rect x="702.55" y="1344.00" width="3.85" height="179.30" fill="#37559a"/><rect x="702.55" y="1286.40" width="3.85" height="1" fill="#c86a6c"/><rect x="706.95" y="1310.50" width="4.95" height="18.20" fill="#fcecec"/><rect x="706.95" y="1328.70" width="4.95" height="15.90" fill="#ece4f2"/><rect x="706.95" y="1344.60" width="4.95" height="178.70" fill="#e1e6f0"/><rect x="707.50" y="1311.30" width="3.85" height="17.40" fill="#ee8082"/><rect x="707.50" y="1328.70" width="3.85" height="15.90" fill="#7d4baa"/><rect x="707.50" y="1344.60" width="3.85" height="178.70" fill="#37559a"/><rect x="707.50" y="1311.30" width="3.85" height="1" fill="#c86a6c"/><rect x="711.91" y="1290.60" width="4.95" height="56.30" fill="#fcecec"/><rect x="711.91" y="1346.90" width="4.95" height="7.90" fill="#eef1e3"/><rect x="711.91" y="1354.80" width="4.95" height="168.50" fill="#e1e6f0"/><rect x="712.46" y="1291.40" width="3.85" height="55.50" fill="#ee8082"/><rect x="712.46" y="1346.90" width="3.85" height="7.90" fill="#8ca046"/><rect x="712.46" y="1354.80" width="3.85" height="168.50" fill="#37559a"/><rect x="712.46" y="1291.40" width="3.85" height="1" fill="#c86a6c"/><rect x="716.86" y="1289.40" width="4.95" height="39.30" fill="#fcecec"/><rect x="716.86" y="1328.70" width="4.95" height="28.30" fill="#ece4f2"/><rect x="716.86" y="1357.00" width="4.95" height="166.30" fill="#e1e6f0"/><rect x="717.41" y="1290.20" width="3.85" height="38.50" fill="#ee8082"/><rect x="717.41" y="1328.70" width="3.85" height="28.30" fill="#7d4baa"/><rect x="717.41" y="1357.00" width="3.85" height="166.30" fill="#37559a"/><rect x="717.41" y="1290.20" width="3.85" height="1" fill="#c86a6c"/><rect x="721.81" y="1281.10" width="4.95" height="79.30" fill="#fcecec"/><rect x="721.81" y="1360.40" width="4.95" height="0.60" fill="#ece4f2"/><rect x="721.81" y="1361.00" width="4.95" height="162.30" fill="#e1e6f0"/><rect x="722.36" y="1281.90" width="3.85" height="78.50" fill="#ee8082"/><rect x="722.36" y="1360.40" width="3.85" height="0.60" fill="#7d4baa"/><rect x="722.36" y="1361.00" width="3.85" height="162.30" fill="#37559a"/><rect x="722.36" y="1281.90" width="3.85" height="1" fill="#c86a6c"/><rect x="726.77" y="1227.10" width="4.95" height="79.00" fill="#fcecec"/><rect x="726.77" y="1306.10" width="4.95" height="78.10" fill="#eef1e3"/><rect x="726.77" y="1384.20" width="4.95" height="139.10" fill="#e1e6f0"/><rect x="727.32" y="1227.90" width="3.85" height="78.20" fill="#ee8082"/><rect x="727.32" y="1306.10" width="3.85" height="78.10" fill="#8ca046"/><rect x="727.32" y="1384.20" width="3.85" height="139.10" fill="#37559a"/><rect x="727.32" y="1227.90" width="3.85" height="1" fill="#c86a6c"/><rect x="731.72" y="1229.90" width="4.95" height="73.90" fill="#fcecec"/><rect x="731.72" y="1303.80" width="4.95" height="94.00" fill="#eef1e3"/><rect x="731.72" y="1397.80" width="4.95" height="125.50" fill="#e1e6f0"/><rect x="732.27" y="1230.70" width="3.85" height="73.10" fill="#ee8082"/><rect x="732.27" y="1303.80" width="3.85" height="94.00" fill="#8ca046"/><rect x="732.27" y="1397.80" width="3.85" height="125.50" fill="#37559a"/><rect x="732.27" y="1230.70" width="3.85" height="1" fill="#c86a6c"/><rect x="736.67" y="1197.70" width="4.95" height="85.70" fill="#fcecec"/><rect x="736.67" y="1283.40" width="4.95" height="107.60" fill="#eef1e3"/><rect x="736.67" y="1391.00" width="4.95" height="132.30" fill="#e1e6f0"/><rect x="737.22" y="1198.50" width="3.85" height="84.90" fill="#ee8082"/><rect x="737.22" y="1283.40" width="3.85" height="107.60" fill="#8ca046"/><rect x="737.22" y="1391.00" width="3.85" height="132.30" fill="#37559a"/><rect x="737.22" y="1198.50" width="3.85" height="1" fill="#c86a6c"/><rect x="741.62" y="1176.20" width="4.95" height="165.00" fill="#fcecec"/><rect x="741.62" y="1341.20" width="4.95" height="62.30" fill="#eef1e3"/><rect x="741.62" y="1403.50" width="4.95" height="119.80" fill="#e1e6f0"/><rect x="742.17" y="1177.00" width="3.85" height="164.20" fill="#ee8082"/><rect x="742.17" y="1341.20" width="3.85" height="62.30" fill="#8ca046"/><rect x="742.17" y="1403.50" width="3.85" height="119.80" fill="#37559a"/><rect x="742.17" y="1177.00" width="3.85" height="1" fill="#c86a6c"/><rect x="746.58" y="1237.30" width="4.95" height="74.40" fill="#fcecec"/><rect x="746.58" y="1311.70" width="4.95" height="97.40" fill="#eef1e3"/><rect x="746.58" y="1409.10" width="4.95" height="114.20" fill="#e1e6f0"/><rect x="747.13" y="1238.10" width="3.85" height="73.60" fill="#ee8082"/><rect x="747.13" y="1311.70" width="3.85" height="97.40" fill="#8ca046"/><rect x="747.13" y="1409.10" width="3.85" height="114.20" fill="#37559a"/><rect x="747.13" y="1238.10" width="3.85" height="1" fill="#c86a6c"/><rect x="751.53" y="1232.10" width="4.95" height="106.80" fill="#fcecec"/><rect x="751.53" y="1338.90" width="4.95" height="81.60" fill="#eef1e3"/><rect x="751.53" y="1420.50" width="4.95" height="102.80" fill="#e1e6f0"/><rect x="752.08" y="1232.90" width="3.85" height="106.00" fill="#ee8082"/><rect x="752.08" y="1338.90" width="3.85" height="81.60" fill="#8ca046"/><rect x="752.08" y="1420.50" width="3.85" height="102.80" fill="#37559a"/><rect x="752.08" y="1232.90" width="3.85" height="1" fill="#c86a6c"/><rect x="756.48" y="1243.00" width="4.95" height="64.20" fill="#fcecec"/><rect x="756.48" y="1307.20" width="4.95" height="125.70" fill="#eef1e3"/><rect x="756.48" y="1432.90" width="4.95" height="90.40" fill="#e1e6f0"/><rect x="757.03" y="1243.80" width="3.85" height="63.40" fill="#ee8082"/><rect x="757.03" y="1307.20" width="3.85" height="125.70" fill="#8ca046"/><rect x="757.03" y="1432.90" width="3.85" height="90.40" fill="#37559a"/><rect x="757.03" y="1243.80" width="3.85" height="1" fill="#c86a6c"/><rect x="761.44" y="1248.00" width="4.95" height="92.10" fill="#fcecec"/><rect x="761.44" y="1340.10" width="4.95" height="83.80" fill="#eef1e3"/><rect x="761.44" y="1423.90" width="4.95" height="99.40" fill="#e1e6f0"/><rect x="761.99" y="1248.80" width="3.85" height="91.30" fill="#ee8082"/><rect x="761.99" y="1340.10" width="3.85" height="83.80" fill="#8ca046"/><rect x="761.99" y="1423.90" width="3.85" height="99.40" fill="#37559a"/><rect x="761.99" y="1248.80" width="3.85" height="1" fill="#c86a6c"/><rect x="766.39" y="1272.40" width="4.95" height="54.10" fill="#fcecec"/><rect x="766.39" y="1326.50" width="4.95" height="106.40" fill="#eef1e3"/><rect x="766.39" y="1432.90" width="4.95" height="90.40" fill="#e1e6f0"/><rect x="766.94" y="1273.20" width="3.85" height="53.30" fill="#ee8082"/><rect x="766.94" y="1326.50" width="3.85" height="106.40" fill="#8ca046"/><rect x="766.94" y="1432.90" width="3.85" height="90.40" fill="#37559a"/><rect x="766.94" y="1273.20" width="3.85" height="1" fill="#c86a6c"/><rect x="771.34" y="1277.00" width="4.95" height="78.90" fill="#fcecec"/><rect x="771.34" y="1355.90" width="4.95" height="73.60" fill="#eef1e3"/><rect x="771.34" y="1429.50" width="4.95" height="93.80" fill="#e1e6f0"/><rect x="771.89" y="1277.80" width="3.85" height="78.10" fill="#ee8082"/><rect x="771.89" y="1355.90" width="3.85" height="73.60" fill="#8ca046"/><rect x="771.89" y="1429.50" width="3.85" height="93.80" fill="#37559a"/><rect x="771.89" y="1277.80" width="3.85" height="1" fill="#c86a6c"/><rect x="776.30" y="1337.00" width="4.95" height="15.50" fill="#e0f9eb"/><rect x="776.30" y="1352.50" width="4.95" height="70.20" fill="#eef1e3"/><rect x="776.30" y="1422.70" width="4.95" height="100.60" fill="#e1e6f0"/><rect x="776.85" y="1337.80" width="3.85" height="14.70" fill="#2dd578"/><rect x="776.85" y="1352.50" width="3.85" height="70.20" fill="#8ca046"/><rect x="776.85" y="1422.70" width="3.85" height="100.60" fill="#37559a"/><rect x="776.85" y="1337.80" width="3.85" height="1" fill="#2a9a60"/><rect x="781.25" y="1329.10" width="4.95" height="44.90" fill="#fcecec"/><rect x="781.25" y="1374.00" width="4.95" height="87.20" fill="#eef1e3"/><rect x="781.25" y="1461.20" width="4.95" height="62.10" fill="#e1e6f0"/><rect x="781.80" y="1329.90" width="3.85" height="44.10" fill="#ee8082"/><rect x="781.80" y="1374.00" width="3.85" height="87.20" fill="#8ca046"/><rect x="781.80" y="1461.20" width="3.85" height="62.10" fill="#37559a"/><rect x="781.80" y="1329.90" width="3.85" height="1" fill="#c86a6c"/><rect x="786.20" y="1322.30" width="4.95" height="16.60" fill="#e0f9eb"/><rect x="786.20" y="1338.90" width="4.95" height="105.30" fill="#eef1e3"/><rect x="786.20" y="1444.20" width="4.95" height="79.10" fill="#e1e6f0"/><rect x="786.75" y="1323.10" width="3.85" height="15.80" fill="#2dd578"/><rect x="786.75" y="1338.90" width="3.85" height="105.30" fill="#8ca046"/><rect x="786.75" y="1444.20" width="3.85" height="79.10" fill="#37559a"/><rect x="786.75" y="1323.10" width="3.85" height="1" fill="#2a9a60"/><rect x="791.16" y="1326.00" width="4.95" height="18.30" fill="#e0f9eb"/><rect x="791.16" y="1344.30" width="4.95" height="91.30" fill="#eef1e3"/><rect x="791.16" y="1435.60" width="4.95" height="87.70" fill="#e1e6f0"/><rect x="791.71" y="1326.80" width="3.85" height="17.50" fill="#2dd578"/><rect x="791.71" y="1344.30" width="3.85" height="91.30" fill="#8ca046"/><rect x="791.71" y="1435.60" width="3.85" height="87.70" fill="#37559a"/><rect x="791.71" y="1326.80" width="3.85" height="1" fill="#2a9a60"/><rect x="796.11" y="1310.50" width="4.95" height="42.80" fill="#fcecec"/><rect x="796.11" y="1353.30" width="4.95" height="93.90" fill="#eef1e3"/><rect x="796.11" y="1447.20" width="4.95" height="76.10" fill="#e1e6f0"/><rect x="796.66" y="1311.30" width="3.85" height="42.00" fill="#ee8082"/><rect x="796.66" y="1353.30" width="3.85" height="93.90" fill="#8ca046"/><rect x="796.66" y="1447.20" width="3.85" height="76.10" fill="#37559a"/><rect x="796.66" y="1311.30" width="3.85" height="1" fill="#c86a6c"/><rect x="801.06" y="1317.70" width="4.95" height="52.30" fill="#fcecec"/><rect x="801.06" y="1370.00" width="4.95" height="92.70" fill="#eef1e3"/><rect x="801.06" y="1462.70" width="4.95" height="60.60" fill="#e1e6f0"/><rect x="801.61" y="1318.50" width="3.85" height="51.50" fill="#ee8082"/><rect x="801.61" y="1370.00" width="3.85" height="92.70" fill="#8ca046"/><rect x="801.61" y="1462.70" width="3.85" height="60.60" fill="#37559a"/><rect x="801.61" y="1318.50" width="3.85" height="1" fill="#c86a6c"/><rect x="806.01" y="1261.10" width="4.95" height="135.90" fill="#fcecec"/><rect x="806.01" y="1397.00" width="4.95" height="50.20" fill="#eef1e3"/><rect x="806.01" y="1447.20" width="4.95" height="76.10" fill="#e1e6f0"/><rect x="806.56" y="1261.90" width="3.85" height="135.10" fill="#ee8082"/><rect x="806.56" y="1397.00" width="3.85" height="50.20" fill="#8ca046"/><rect x="806.56" y="1447.20" width="3.85" height="76.10" fill="#37559a"/><rect x="806.56" y="1261.90" width="3.85" height="1" fill="#c86a6c"/><rect x="810.97" y="1255.90" width="4.95" height="150.10" fill="#fcecec"/><rect x="810.97" y="1406.00" width="4.95" height="54.10" fill="#eef1e3"/><rect x="810.97" y="1460.10" width="4.95" height="63.20" fill="#e1e6f0"/><rect x="811.52" y="1256.70" width="3.85" height="149.30" fill="#ee8082"/><rect x="811.52" y="1406.00" width="3.85" height="54.10" fill="#8ca046"/><rect x="811.52" y="1460.10" width="3.85" height="63.20" fill="#37559a"/><rect x="811.52" y="1256.70" width="3.85" height="1" fill="#c86a6c"/><rect x="815.92" y="1210.90" width="4.95" height="191.30" fill="#fcecec"/><rect x="815.92" y="1402.20" width="4.95" height="42.50" fill="#eef1e3"/><rect x="815.92" y="1444.70" width="4.95" height="78.60" fill="#e1e6f0"/><rect x="816.47" y="1211.70" width="3.85" height="190.50" fill="#ee8082"/><rect x="816.47" y="1402.20" width="3.85" height="42.50" fill="#8ca046"/><rect x="816.47" y="1444.70" width="3.85" height="78.60" fill="#37559a"/><rect x="816.47" y="1211.70" width="3.85" height="1" fill="#c86a6c"/><rect x="820.87" y="1187.20" width="4.95" height="216.30" fill="#fcecec"/><rect x="820.87" y="1403.50" width="4.95" height="42.50" fill="#eef1e3"/><rect x="820.87" y="1446.00" width="4.95" height="77.30" fill="#e1e6f0"/><rect x="821.42" y="1188.00" width="3.85" height="215.50" fill="#ee8082"/><rect x="821.42" y="1403.50" width="3.85" height="42.50" fill="#8ca046"/><rect x="821.42" y="1446.00" width="3.85" height="77.30" fill="#37559a"/><rect x="821.42" y="1188.00" width="3.85" height="1" fill="#c86a6c"/><rect x="825.83" y="1183.90" width="4.95" height="192.50" fill="#fcecec"/><rect x="825.83" y="1376.40" width="4.95" height="101.70" fill="#eef1e3"/><rect x="825.83" y="1478.10" width="4.95" height="45.20" fill="#e1e6f0"/><rect x="826.38" y="1184.70" width="3.85" height="191.70" fill="#ee8082"/><rect x="826.38" y="1376.40" width="3.85" height="101.70" fill="#8ca046"/><rect x="826.38" y="1478.10" width="3.85" height="45.20" fill="#37559a"/><rect x="826.38" y="1184.70" width="3.85" height="1" fill="#c86a6c"/><rect x="830.78" y="1166.40" width="4.95" height="194.60" fill="#fcecec"/><rect x="830.78" y="1361.00" width="4.95" height="94.00" fill="#eef1e3"/><rect x="830.78" y="1455.00" width="4.95" height="68.30" fill="#e1e6f0"/><rect x="831.33" y="1167.20" width="3.85" height="193.80" fill="#ee8082"/><rect x="831.33" y="1361.00" width="3.85" height="94.00" fill="#8ca046"/><rect x="831.33" y="1455.00" width="3.85" height="68.30" fill="#37559a"/><rect x="831.33" y="1167.20" width="3.85" height="1" fill="#c86a6c"/><rect x="835.73" y="1120.80" width="4.95" height="276.20" fill="#fcecec"/><rect x="835.73" y="1397.00" width="4.95" height="70.80" fill="#eef1e3"/><rect x="835.73" y="1467.80" width="4.95" height="55.50" fill="#e1e6f0"/><rect x="836.28" y="1121.60" width="3.85" height="275.40" fill="#ee8082"/><rect x="836.28" y="1397.00" width="3.85" height="70.80" fill="#8ca046"/><rect x="836.28" y="1467.80" width="3.85" height="55.50" fill="#37559a"/><rect x="836.28" y="1121.60" width="3.85" height="1" fill="#c86a6c"/><rect x="840.69" y="1194.20" width="4.95" height="204.10" fill="#fcecec"/><rect x="840.69" y="1398.30" width="4.95" height="69.50" fill="#eef1e3"/><rect x="840.69" y="1467.80" width="4.95" height="55.50" fill="#e1e6f0"/><rect x="841.24" y="1195.00" width="3.85" height="203.30" fill="#ee8082"/><rect x="841.24" y="1398.30" width="3.85" height="69.50" fill="#8ca046"/><rect x="841.24" y="1467.80" width="3.85" height="55.50" fill="#37559a"/><rect x="841.24" y="1195.00" width="3.85" height="1" fill="#c86a6c"/><rect x="845.64" y="1230.70" width="4.95" height="162.50" fill="#fcecec"/><rect x="845.64" y="1393.20" width="4.95" height="73.30" fill="#eef1e3"/><rect x="845.64" y="1466.50" width="4.95" height="56.80" fill="#e1e6f0"/><rect x="846.19" y="1231.50" width="3.85" height="161.70" fill="#ee8082"/><rect x="846.19" y="1393.20" width="3.85" height="73.30" fill="#8ca046"/><rect x="846.19" y="1466.50" width="3.85" height="56.80" fill="#37559a"/><rect x="846.19" y="1231.50" width="3.85" height="1" fill="#c86a6c"/><rect x="850.59" y="1283.70" width="4.95" height="94.00" fill="#fcecec"/><rect x="850.59" y="1377.70" width="4.95" height="94.00" fill="#eef1e3"/><rect x="850.59" y="1471.70" width="4.95" height="51.60" fill="#e1e6f0"/><rect x="851.14" y="1284.50" width="3.85" height="93.20" fill="#ee8082"/><rect x="851.14" y="1377.70" width="3.85" height="94.00" fill="#8ca046"/><rect x="851.14" y="1471.70" width="3.85" height="51.60" fill="#37559a"/><rect x="851.14" y="1284.50" width="3.85" height="1" fill="#c86a6c"/><rect x="855.54" y="1284.20" width="4.95" height="100.00" fill="#fcecec"/><rect x="855.54" y="1384.20" width="4.95" height="84.90" fill="#eef1e3"/><rect x="855.54" y="1469.10" width="4.95" height="54.20" fill="#e1e6f0"/><rect x="856.09" y="1285.00" width="3.85" height="99.20" fill="#ee8082"/><rect x="856.09" y="1384.20" width="3.85" height="84.90" fill="#8ca046"/><rect x="856.09" y="1469.10" width="3.85" height="54.20" fill="#37559a"/><rect x="856.09" y="1285.00" width="3.85" height="1" fill="#c86a6c"/><rect x="860.50" y="1271.40" width="4.95" height="126.90" fill="#fcecec"/><rect x="860.50" y="1398.30" width="4.95" height="64.40" fill="#eef1e3"/><rect x="860.50" y="1462.70" width="4.95" height="60.60" fill="#e1e6f0"/><rect x="861.05" y="1272.20" width="3.85" height="126.10" fill="#ee8082"/><rect x="861.05" y="1398.30" width="3.85" height="64.40" fill="#8ca046"/><rect x="861.05" y="1462.70" width="3.85" height="60.60" fill="#37559a"/><rect x="861.05" y="1272.20" width="3.85" height="1" fill="#c86a6c"/><rect x="865.45" y="1296.60" width="4.95" height="90.10" fill="#fcecec"/><rect x="865.45" y="1386.70" width="4.95" height="79.80" fill="#eef1e3"/><rect x="865.45" y="1466.50" width="4.95" height="56.80" fill="#e1e6f0"/><rect x="866.00" y="1297.40" width="3.85" height="89.30" fill="#ee8082"/><rect x="866.00" y="1386.70" width="3.85" height="79.80" fill="#8ca046"/><rect x="866.00" y="1466.50" width="3.85" height="56.80" fill="#37559a"/><rect x="866.00" y="1297.40" width="3.85" height="1" fill="#c86a6c"/><rect x="870.40" y="1320.30" width="4.95" height="63.90" fill="#fcecec"/><rect x="870.40" y="1384.20" width="4.95" height="60.50" fill="#eef1e3"/><rect x="870.40" y="1444.70" width="4.95" height="78.60" fill="#e1e6f0"/><rect x="870.95" y="1321.10" width="3.85" height="63.10" fill="#ee8082"/><rect x="870.95" y="1384.20" width="3.85" height="60.50" fill="#8ca046"/><rect x="870.95" y="1444.70" width="3.85" height="78.60" fill="#37559a"/><rect x="870.95" y="1321.10" width="3.85" height="1" fill="#c86a6c"/><rect x="875.36" y="1344.00" width="4.95" height="50.50" fill="#fcecec"/><rect x="875.36" y="1394.50" width="4.95" height="50.20" fill="#eef1e3"/><rect x="875.36" y="1444.70" width="4.95" height="78.60" fill="#e1e6f0"/><rect x="875.91" y="1344.80" width="3.85" height="49.70" fill="#ee8082"/><rect x="875.91" y="1394.50" width="3.85" height="50.20" fill="#8ca046"/><rect x="875.91" y="1444.70" width="3.85" height="78.60" fill="#37559a"/><rect x="875.91" y="1344.80" width="3.85" height="1" fill="#c86a6c"/><rect x="880.31" y="1321.60" width="4.95" height="51.00" fill="#fcecec"/><rect x="880.31" y="1372.60" width="4.95" height="57.90" fill="#eef1e3"/><rect x="880.31" y="1430.50" width="4.95" height="92.80" fill="#e1e6f0"/><rect x="880.86" y="1322.40" width="3.85" height="50.20" fill="#ee8082"/><rect x="880.86" y="1372.60" width="3.85" height="57.90" fill="#8ca046"/><rect x="880.86" y="1430.50" width="3.85" height="92.80" fill="#37559a"/><rect x="880.86" y="1322.40" width="3.85" height="1" fill="#c86a6c"/><rect x="885.26" y="1363.70" width="4.95" height="35.80" fill="#fcecec"/><rect x="885.26" y="1399.50" width="4.95" height="55.50" fill="#eef1e3"/><rect x="885.26" y="1455.00" width="4.95" height="68.30" fill="#e1e6f0"/><rect x="885.81" y="1364.50" width="3.85" height="35.00" fill="#ee8082"/><rect x="885.81" y="1399.50" width="3.85" height="55.50" fill="#8ca046"/><rect x="885.81" y="1455.00" width="3.85" height="68.30" fill="#37559a"/><rect x="885.81" y="1364.50" width="3.85" height="1" fill="#c86a6c"/><rect x="890.22" y="1366.60" width="4.95" height="2.30" fill="#e0f9eb"/><rect x="890.22" y="1368.90" width="4.95" height="110.20" fill="#eef1e3"/><rect x="890.22" y="1479.10" width="4.95" height="44.20" fill="#e1e6f0"/><rect x="890.76" y="1367.40" width="3.85" height="1.50" fill="#2dd578"/><rect x="890.76" y="1368.90" width="3.85" height="110.20" fill="#8ca046"/><rect x="890.76" y="1479.10" width="3.85" height="44.20" fill="#37559a"/><rect x="890.76" y="1367.40" width="3.85" height="1" fill="#2a9a60"/><rect x="895.17" y="1364.80" width="4.95" height="14.30" fill="#e0f9eb"/><rect x="895.17" y="1379.10" width="4.95" height="90.50" fill="#eef1e3"/><rect x="895.17" y="1469.60" width="4.95" height="53.70" fill="#e1e6f0"/><rect x="895.72" y="1365.60" width="3.85" height="13.50" fill="#2dd578"/><rect x="895.72" y="1379.10" width="3.85" height="90.50" fill="#8ca046"/><rect x="895.72" y="1469.60" width="3.85" height="53.70" fill="#37559a"/><rect x="895.72" y="1365.60" width="3.85" height="1" fill="#2a9a60"/><rect x="900.12" y="1343.50" width="4.95" height="48.70" fill="#e0f9eb"/><rect x="900.12" y="1392.20" width="4.95" height="75.20" fill="#eef1e3"/><rect x="900.12" y="1467.40" width="4.95" height="55.90" fill="#e1e6f0"/><rect x="900.67" y="1344.30" width="3.85" height="47.90" fill="#2dd578"/><rect x="900.67" y="1392.20" width="3.85" height="75.20" fill="#8ca046"/><rect x="900.67" y="1467.40" width="3.85" height="55.90" fill="#37559a"/><rect x="900.67" y="1344.30" width="3.85" height="1" fill="#2a9a60"/><rect x="905.07" y="1367.80" width="4.95" height="17.10" fill="#e0f9eb"/><rect x="905.07" y="1384.90" width="4.95" height="91.30" fill="#eef1e3"/><rect x="905.07" y="1476.20" width="4.95" height="47.10" fill="#e1e6f0"/><rect x="905.62" y="1368.60" width="3.85" height="16.30" fill="#2dd578"/><rect x="905.62" y="1384.90" width="3.85" height="91.30" fill="#8ca046"/><rect x="905.62" y="1476.20" width="3.85" height="47.10" fill="#37559a"/><rect x="905.62" y="1368.60" width="3.85" height="1" fill="#2a9a60"/><rect x="910.03" y="1359.00" width="4.95" height="55.90" fill="#e0f9eb"/><rect x="910.03" y="1414.90" width="4.95" height="41.60" fill="#eef1e3"/><rect x="910.03" y="1456.50" width="4.95" height="66.80" fill="#e1e6f0"/><rect x="910.58" y="1359.80" width="3.85" height="55.10" fill="#2dd578"/><rect x="910.58" y="1414.90" width="3.85" height="41.60" fill="#8ca046"/><rect x="910.58" y="1456.50" width="3.85" height="66.80" fill="#37559a"/><rect x="910.58" y="1359.80" width="3.85" height="1" fill="#2a9a60"/><rect x="914.98" y="1366.60" width="4.95" height="25.60" fill="#e0f9eb"/><rect x="914.98" y="1392.20" width="4.95" height="74.50" fill="#eef1e3"/><rect x="914.98" y="1466.70" width="4.95" height="56.60" fill="#e1e6f0"/><rect x="915.53" y="1367.40" width="3.85" height="24.80" fill="#2dd578"/><rect x="915.53" y="1392.20" width="3.85" height="74.50" fill="#8ca046"/><rect x="915.53" y="1466.70" width="3.85" height="56.60" fill="#37559a"/><rect x="915.53" y="1367.40" width="3.85" height="1" fill="#2a9a60"/><rect x="919.93" y="1365.90" width="4.95" height="42.40" fill="#e0f9eb"/><rect x="919.93" y="1408.30" width="4.95" height="57.70" fill="#eef1e3"/><rect x="919.93" y="1466.00" width="4.95" height="57.30" fill="#e1e6f0"/><rect x="920.48" y="1366.70" width="3.85" height="41.60" fill="#2dd578"/><rect x="920.48" y="1408.30" width="3.85" height="57.70" fill="#8ca046"/><rect x="920.48" y="1466.00" width="3.85" height="57.30" fill="#37559a"/><rect x="920.48" y="1366.70" width="3.85" height="1" fill="#2a9a60"/><rect x="924.89" y="1419.90" width="4.95" height="10.30" fill="#fcecec"/><rect x="924.89" y="1430.20" width="4.95" height="21.90" fill="#eef1e3"/><rect x="924.89" y="1452.10" width="4.95" height="71.20" fill="#e1e6f0"/><rect x="925.44" y="1420.70" width="3.85" height="9.50" fill="#ee8082"/><rect x="925.44" y="1430.20" width="3.85" height="21.90" fill="#8ca046"/><rect x="925.44" y="1452.10" width="3.85" height="71.20" fill="#37559a"/><rect x="925.44" y="1420.70" width="3.85" height="1" fill="#c86a6c"/><rect x="929.84" y="1425.70" width="4.95" height="14.00" fill="#fcecec"/><rect x="929.84" y="1439.70" width="4.95" height="16.80" fill="#ece4f2"/><rect x="929.84" y="1456.50" width="4.95" height="66.80" fill="#e1e6f0"/><rect x="930.39" y="1426.50" width="3.85" height="13.20" fill="#ee8082"/><rect x="930.39" y="1439.70" width="3.85" height="16.80" fill="#7d4baa"/><rect x="930.39" y="1456.50" width="3.85" height="66.80" fill="#37559a"/><rect x="930.39" y="1426.50" width="3.85" height="1" fill="#c86a6c"/><rect x="934.79" y="1433.80" width="4.95" height="8.10" fill="#eae9fb"/><rect x="934.79" y="1441.90" width="4.95" height="17.50" fill="#ece4f2"/><rect x="934.79" y="1459.40" width="4.95" height="63.90" fill="#e1e6f0"/><rect x="935.34" y="1434.60" width="3.85" height="7.30" fill="#706ee4"/><rect x="935.34" y="1441.90" width="3.85" height="17.50" fill="#7d4baa"/><rect x="935.34" y="1459.40" width="3.85" height="63.90" fill="#37559a"/><rect x="935.34" y="1434.60" width="3.85" height="1" fill="#5f58c0"/><rect x="939.75" y="1426.50" width="4.95" height="27.10" fill="#fcecec"/><rect x="939.75" y="1453.60" width="4.95" height="1.40" fill="#ece4f2"/><rect x="939.75" y="1455.00" width="4.95" height="68.30" fill="#e1e6f0"/><rect x="940.29" y="1427.30" width="3.85" height="26.30" fill="#ee8082"/><rect x="940.29" y="1453.60" width="3.85" height="1.40" fill="#7d4baa"/><rect x="940.29" y="1455.00" width="3.85" height="68.30" fill="#37559a"/><rect x="940.29" y="1427.30" width="3.85" height="1" fill="#c86a6c"/><rect x="944.70" y="1428.70" width="4.95" height="20.80" fill="#fcecec"/><rect x="944.70" y="1449.50" width="4.95" height="18.60" fill="#ece4f2"/><rect x="944.70" y="1468.10" width="4.95" height="55.20" fill="#e1e6f0"/><rect x="945.25" y="1429.50" width="3.85" height="20.00" fill="#ee8082"/><rect x="945.25" y="1449.50" width="3.85" height="18.60" fill="#7d4baa"/><rect x="945.25" y="1468.10" width="3.85" height="55.20" fill="#37559a"/><rect x="945.25" y="1429.50" width="3.85" height="1" fill="#c86a6c"/><rect x="949.65" y="1425.30" width="4.95" height="42.10" fill="#fcecec"/><rect x="949.65" y="1467.40" width="4.95" height="0.60" fill="#ece4f2"/><rect x="949.65" y="1468.00" width="4.95" height="55.30" fill="#e1e6f0"/><rect x="950.20" y="1426.10" width="3.85" height="41.30" fill="#ee8082"/><rect x="950.20" y="1467.40" width="3.85" height="0.60" fill="#7d4baa"/><rect x="950.20" y="1468.00" width="3.85" height="55.30" fill="#37559a"/><rect x="950.20" y="1426.10" width="3.85" height="1" fill="#c86a6c"/><rect x="954.60" y="1418.50" width="4.95" height="55.90" fill="#fcecec"/><rect x="954.60" y="1474.40" width="4.95" height="11.60" fill="#ece4f2"/><rect x="954.60" y="1486.00" width="4.95" height="37.30" fill="#e1e6f0"/><rect x="955.15" y="1419.30" width="3.85" height="55.10" fill="#ee8082"/><rect x="955.15" y="1474.40" width="3.85" height="11.60" fill="#7d4baa"/><rect x="955.15" y="1486.00" width="3.85" height="37.30" fill="#37559a"/><rect x="955.15" y="1419.30" width="3.85" height="1" fill="#c86a6c"/><rect x="959.56" y="1434.50" width="4.95" height="30.30" fill="#fcecec"/><rect x="959.56" y="1464.80" width="4.95" height="35.00" fill="#ece4f2"/><rect x="959.56" y="1499.80" width="4.95" height="23.50" fill="#e1e6f0"/><rect x="960.11" y="1435.30" width="3.85" height="29.50" fill="#ee8082"/><rect x="960.11" y="1464.80" width="3.85" height="35.00" fill="#7d4baa"/><rect x="960.11" y="1499.80" width="3.85" height="23.50" fill="#37559a"/><rect x="960.11" y="1435.30" width="3.85" height="1" fill="#c86a6c"/><rect x="964.51" y="1441.80" width="4.95" height="50.60" fill="#fcecec"/><rect x="964.51" y="1492.40" width="4.95" height="30.90" fill="#e1e6f0"/><rect x="965.06" y="1442.60" width="3.85" height="49.80" fill="#ee8082"/><rect x="965.06" y="1492.40" width="3.85" height="30.90" fill="#37559a"/><rect x="965.06" y="1442.60" width="3.85" height="1" fill="#c86a6c"/><rect x="969.46" y="1457.20" width="4.95" height="9.80" fill="#fcecec"/><rect x="969.46" y="1467.00" width="4.95" height="33.20" fill="#ece4f2"/><rect x="969.46" y="1500.20" width="4.95" height="23.10" fill="#e1e6f0"/><rect x="970.01" y="1458.00" width="3.85" height="9.00" fill="#ee8082"/><rect x="970.01" y="1467.00" width="3.85" height="33.20" fill="#7d4baa"/><rect x="970.01" y="1500.20" width="3.85" height="23.10" fill="#37559a"/><rect x="970.01" y="1458.00" width="3.85" height="1" fill="#c86a6c"/><rect x="974.42" y="1439.70" width="4.95" height="46.70" fill="#fcecec"/><rect x="974.42" y="1486.40" width="4.95" height="9.80" fill="#ece4f2"/><rect x="974.42" y="1496.20" width="4.95" height="27.10" fill="#e1e6f0"/><rect x="974.97" y="1440.50" width="3.85" height="45.90" fill="#ee8082"/><rect x="974.97" y="1486.40" width="3.85" height="9.80" fill="#7d4baa"/><rect x="974.97" y="1496.20" width="3.85" height="27.10" fill="#37559a"/><rect x="974.97" y="1440.50" width="3.85" height="1" fill="#c86a6c"/><rect x="979.37" y="1439.80" width="4.95" height="42.70" fill="#fcecec"/><rect x="979.37" y="1482.50" width="4.95" height="20.50" fill="#ece4f2"/><rect x="979.37" y="1503.00" width="4.95" height="20.30" fill="#e1e6f0"/><rect x="979.92" y="1440.60" width="3.85" height="41.90" fill="#ee8082"/><rect x="979.92" y="1482.50" width="3.85" height="20.50" fill="#7d4baa"/><rect x="979.92" y="1503.00" width="3.85" height="20.30" fill="#37559a"/><rect x="979.92" y="1440.60" width="3.85" height="1" fill="#c86a6c"/><rect x="984.32" y="1448.20" width="4.95" height="26.70" fill="#fcecec"/><rect x="984.32" y="1474.90" width="4.95" height="36.50" fill="#ece4f2"/><rect x="984.32" y="1511.40" width="4.95" height="11.90" fill="#e1e6f0"/><rect x="984.87" y="1449.00" width="3.85" height="25.90" fill="#ee8082"/><rect x="984.87" y="1474.90" width="3.85" height="36.50" fill="#7d4baa"/><rect x="984.87" y="1511.40" width="3.85" height="11.90" fill="#37559a"/><rect x="984.87" y="1449.00" width="3.85" height="1" fill="#c86a6c"/><rect x="989.28" y="1430.70" width="4.95" height="51.00" fill="#fcecec"/><rect x="989.28" y="1481.70" width="4.95" height="19.00" fill="#ece4f2"/><rect x="989.28" y="1500.70" width="4.95" height="22.60" fill="#e1e6f0"/><rect x="989.83" y="1431.50" width="3.85" height="50.20" fill="#ee8082"/><rect x="989.83" y="1481.70" width="3.85" height="19.00" fill="#7d4baa"/><rect x="989.83" y="1500.70" width="3.85" height="22.60" fill="#37559a"/><rect x="989.83" y="1431.50" width="3.85" height="1" fill="#c86a6c"/><rect x="994.23" y="1454.30" width="4.95" height="12.90" fill="#fcecec"/><rect x="994.23" y="1467.20" width="4.95" height="36.60" fill="#ece4f2"/><rect x="994.23" y="1503.80" width="4.95" height="19.50" fill="#e1e6f0"/><rect x="994.78" y="1455.10" width="3.85" height="12.10" fill="#ee8082"/><rect x="994.78" y="1467.20" width="3.85" height="36.60" fill="#7d4baa"/><rect x="994.78" y="1503.80" width="3.85" height="19.50" fill="#37559a"/><rect x="994.78" y="1455.10" width="3.85" height="1" fill="#c86a6c"/><rect x="999.18" y="1433.70" width="4.95" height="37.30" fill="#fcecec"/><rect x="999.18" y="1471.00" width="4.95" height="22.90" fill="#ece4f2"/><rect x="999.18" y="1493.90" width="4.95" height="29.40" fill="#e1e6f0"/><rect x="999.73" y="1434.50" width="3.85" height="36.50" fill="#ee8082"/><rect x="999.73" y="1471.00" width="3.85" height="22.90" fill="#7d4baa"/><rect x="999.73" y="1493.90" width="3.85" height="29.40" fill="#37559a"/><rect x="999.73" y="1434.50" width="3.85" height="1" fill="#c86a6c"/><rect x="1004.13" y="1406.30" width="4.95" height="55.60" fill="#fcecec"/><rect x="1004.13" y="1461.90" width="4.95" height="30.50" fill="#ece4f2"/><rect x="1004.13" y="1492.40" width="4.95" height="30.90" fill="#e1e6f0"/><rect x="1004.68" y="1407.10" width="3.85" height="54.80" fill="#ee8082"/><rect x="1004.68" y="1461.90" width="3.85" height="30.50" fill="#7d4baa"/><rect x="1004.68" y="1492.40" width="3.85" height="30.90" fill="#37559a"/><rect x="1004.68" y="1407.10" width="3.85" height="1" fill="#c86a6c"/><rect x="1009.09" y="1300.20" width="4.95" height="135.10" fill="#fcecec"/><rect x="1009.09" y="1435.30" width="4.95" height="62.40" fill="#ece4f2"/><rect x="1009.09" y="1497.70" width="4.95" height="25.60" fill="#e1e6f0"/><rect x="1009.64" y="1301.00" width="3.85" height="134.30" fill="#ee8082"/><rect x="1009.64" y="1435.30" width="3.85" height="62.40" fill="#7d4baa"/><rect x="1009.64" y="1497.70" width="3.85" height="25.60" fill="#37559a"/><rect x="1009.64" y="1301.00" width="3.85" height="1" fill="#c86a6c"/></g><rect x="121.39999999999999" y="547.9" width="5.8" height="454.1" fill="#000"/><rect x="104.6" y="976.6" width="912.3" height="5.8" fill="#000"/><rect x="104.6" y="547.9" width="19.700000000000003" height="5.8" fill="#000"/><rect x="104.6" y="690.6" width="19.700000000000003" height="5.8" fill="#000"/><rect x="104.6" y="833.3000000000001" width="19.700000000000003" height="5.8" fill="#000"/><rect x="121.39999999999999" y="979.5" width="5.8" height="22.5" fill="#000"/><rect x="343.82500000000005" y="979.5" width="5.8" height="22.5" fill="#000"/><rect x="566.25" y="979.5" width="5.8" height="22.5" fill="#000"/><rect x="788.6750000000001" y="979.5" width="5.8" height="22.5" fill="#000"/><rect x="1011.1" y="979.5" width="5.8" height="22.5" fill="#000"/><text x="104" y="562.0" font-size="29" font-weight="700" text-anchor="end" >0.03</text><text x="104" y="704.7" font-size="29" font-weight="700" text-anchor="end" >0.02</text><text x="100.6" y="847.4000000000001" font-size="29" font-weight="700" text-anchor="end" >0.01</text><text x="93.5" y="1029.5" font-size="29" font-weight="700" text-anchor="start" >-90<tspan font-size="17" dx="1.3" dy="-9" stroke="#1c1c1c" stroke-width="0.6">°</tspan></text><text x="316.6" y="1029.5" font-size="29" font-weight="700" text-anchor="start" >-45<tspan font-size="17" dx="1.3" dy="-9" stroke="#1c1c1c" stroke-width="0.6">°</tspan></text><text x="561.5" y="1029.5" font-size="29" font-weight="700" text-anchor="start" >0<tspan font-size="17" dx="1.3" dy="-9" stroke="#1c1c1c" stroke-width="0.6">°</tspan></text><text x="771.2" y="1029.5" font-size="29" font-weight="700" text-anchor="start" >45<tspan font-size="17" dx="1.3" dy="-9" stroke="#1c1c1c" stroke-width="0.6">°</tspan></text><text x="989.1" y="1029.5" font-size="29" font-weight="700" text-anchor="start" >90<tspan font-size="17" dx="1.3" dy="-9" stroke="#1c1c1c" stroke-width="0.6">°</tspan></text><text transform="translate(25,721) rotate(-90)" x="0" y="0" font-size="29" font-weight="700" text-anchor="middle">Probability</text><text x="198.6" y="1058.8" font-size="29.18" font-weight="700" text-anchor="start" >F-actin degree relative to the axis of a quarter nucleus</text><rect x="120.0" y="1092.6999999999998" width="5.8" height="455.60000000000014" fill="#000"/><rect x="104" y="1523.3999999999999" width="913.3" height="5.8" fill="#000"/><rect x="104" y="1092.6999999999998" width="18.900000000000006" height="5.8" fill="#000"/><rect x="104" y="1199.8" width="18.900000000000006" height="5.8" fill="#000"/><rect x="104" y="1307.3999999999999" width="18.900000000000006" height="5.8" fill="#000"/><rect x="104" y="1415.8" width="18.900000000000006" height="5.8" fill="#000"/><rect x="104" y="1523.3" width="18.900000000000006" height="5.8" fill="#000"/><rect x="120.0" y="1526.3" width="5.8" height="22.0" fill="#000"/><rect x="342.875" y="1526.3" width="5.8" height="22.0" fill="#000"/><rect x="565.75" y="1526.3" width="5.8" height="22.0" fill="#000"/><rect x="788.625" y="1526.3" width="5.8" height="22.0" fill="#000"/><rect x="1011.5" y="1526.3" width="5.8" height="22.0" fill="#000"/><text x="33.4" y="1104.1999999999998" font-size="29" font-weight="700" text-anchor="start" textLength="67" lengthAdjust="spacingAndGlyphs">0.020</text><text x="33.4" y="1211.3" font-size="29" font-weight="700" text-anchor="start" textLength="67" lengthAdjust="spacingAndGlyphs">0.015</text><text x="33.4" y="1318.8999999999999" font-size="29" font-weight="700" text-anchor="start" textLength="67" lengthAdjust="spacingAndGlyphs">0.010</text><text x="33.4" y="1427.3" font-size="29" font-weight="700" text-anchor="start" textLength="67" lengthAdjust="spacingAndGlyphs">0.005</text><text x="33.4" y="1534.8" font-size="29" font-weight="700" text-anchor="start" textLength="67" lengthAdjust="spacingAndGlyphs">0.000</text><text x="90.2" y="1575.5" font-size="29" font-weight="700" text-anchor="start" >-90<tspan font-size="17" dx="1.3" dy="-9" stroke="#1c1c1c" stroke-width="0.6">°</tspan></text><text x="313.5" y="1575.5" font-size="29" font-weight="700" text-anchor="start" >-45<tspan font-size="17" dx="1.3" dy="-9" stroke="#1c1c1c" stroke-width="0.6">°</tspan></text><text x="560.1" y="1575.5" font-size="29" font-weight="700" text-anchor="start" >0<tspan font-size="17" dx="1.3" dy="-9" stroke="#1c1c1c" stroke-width="0.6">°</tspan></text><text x="767.4" y="1575.5" font-size="29" font-weight="700" text-anchor="start" >45<tspan font-size="17" dx="1.3" dy="-9" stroke="#1c1c1c" stroke-width="0.6">°</tspan></text><text x="989.1" y="1575.5" font-size="29" font-weight="700" text-anchor="start" >90<tspan font-size="17" dx="1.3" dy="-9" stroke="#1c1c1c" stroke-width="0.6">°</tspan></text><text transform="translate(25,1286.7) rotate(-90)" x="0" y="0" font-size="29" font-weight="700" text-anchor="middle">Probability</text><text x="241.7" y="1607.4" font-size="29.13" font-weight="700" text-anchor="start" >MT degree relative to the axis of a quarter nucleus</text><rect x="835.8" y="507.5" width="4" height="18" fill="#7e7ef2"/><text x="858" y="524.8" font-size="29" font-weight="700" text-anchor="start" >after 2<tspan font-size="16.5" dx="0.5" dy="-11">nd</tspan><tspan dy="11"> div</tspan></text><rect x="835.8" y="546" width="4" height="18" fill="#f28a8a"/><text x="863" y="563" font-size="29" font-weight="700" text-anchor="start" >after 3<tspan font-size="16.5" dx="0.5" dy="-11">rd</tspan><tspan dy="11"> div</tspan></text><rect x="835.8" y="584.4" width="4" height="18" fill="#40d080"/><text x="863" y="601.3" font-size="29" font-weight="700" text-anchor="start" >after 4<tspan font-size="16.5" dx="0.5" dy="-11">th</tspan><tspan dy="11"> div</tspan></text>
</svg></body></html>
